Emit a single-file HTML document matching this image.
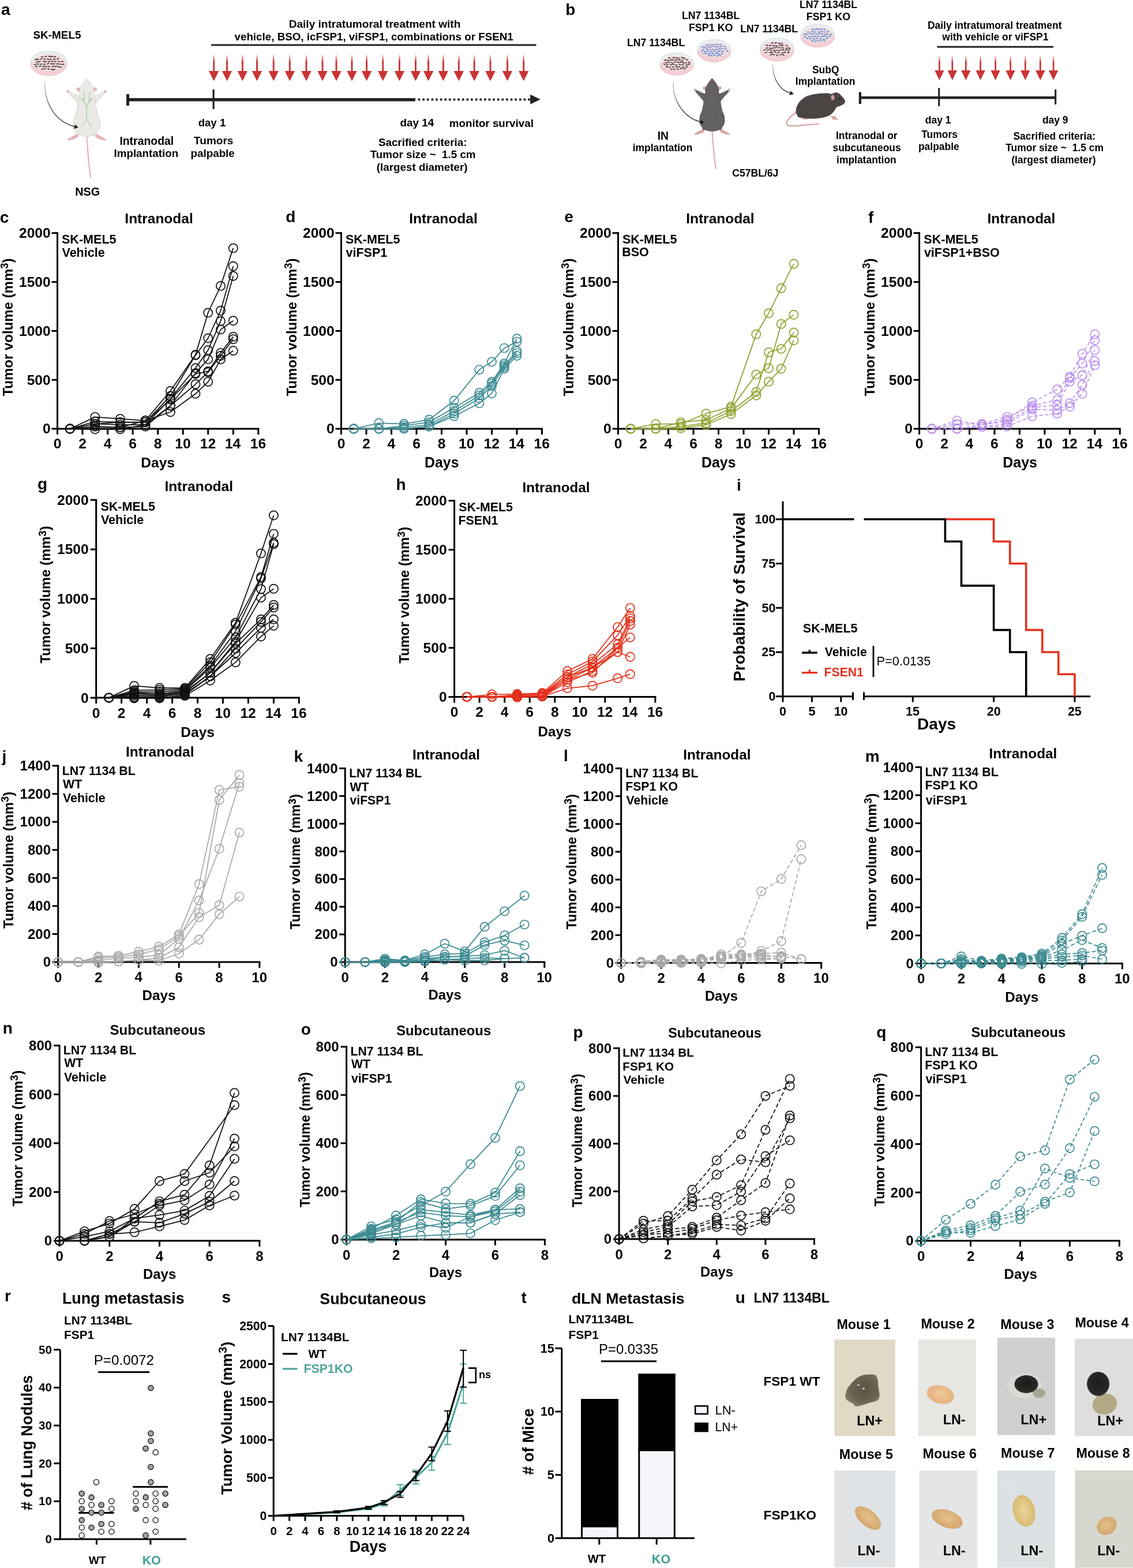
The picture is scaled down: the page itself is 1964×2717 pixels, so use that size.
<!DOCTYPE html><html><head><meta charset="utf-8"><style>html,body{margin:0;padding:0;background:#fff}svg{display:block}text{font-family:"Liberation Sans",Arial,sans-serif}</style></head><body>
<svg width="1964" height="2717" viewBox="0 0 1964 2717">
<rect width="1964" height="2717" fill="#fff"/>
<g stroke="#000" stroke-width="3" fill="none" stroke-linecap="square">
<path d="M99.5,403.8 V743.0 H447.8"/>
</g>
<g stroke="#000" stroke-width="3" fill="none">
<path d="M89.5,743.0 H99.5"/>
<path d="M89.5,658.2 H99.5"/>
<path d="M89.5,573.4 H99.5"/>
<path d="M89.5,488.6 H99.5"/>
<path d="M89.5,403.8 H99.5"/>
<path d="M99.5,743.0 V753.0"/>
<path d="M143.0,743.0 V753.0"/>
<path d="M186.6,743.0 V753.0"/>
<path d="M230.1,743.0 V753.0"/>
<path d="M273.7,743.0 V753.0"/>
<path d="M317.2,743.0 V753.0"/>
<path d="M360.7,743.0 V753.0"/>
<path d="M404.3,743.0 V753.0"/>
<path d="M447.8,743.0 V753.0"/>
</g>
<g fill="none" stroke="#111" stroke-width="1.75" opacity="1">
<polyline points="121.3,743.0 164.8,722.6 208.3,725.7 251.9,728.8 295.4,677.5 339.0,614.8 360.7,541.9 382.5,495.4 404.3,429.9"/>
<polyline points="121.3,743.0 164.8,730.3 208.3,731.6 251.9,731.6 295.4,686.2 339.0,615.6 360.7,586.0 382.5,538.3 404.3,461.3"/>
<polyline points="121.3,743.0 164.8,734.5 208.3,736.2 251.9,736.2 295.4,690.9 339.0,637.8 360.7,606.8 382.5,556.4 404.3,478.3"/>
<polyline points="121.3,743.0 164.8,739.1 208.3,740.6 251.9,739.1 295.4,703.0 339.0,646.5 360.7,622.4 382.5,571.0 404.3,555.8"/>
<polyline points="121.3,743.0 164.8,734.5 208.3,731.6 251.9,731.6 295.4,692.1 339.0,648.0 360.7,643.4 382.5,611.6 404.3,583.4"/>
<polyline points="121.3,743.0 164.8,743.8 208.3,743.8 251.9,736.2 295.4,703.0 339.0,665.7 360.7,645.0 382.5,616.5 404.3,587.8"/>
<polyline points="121.3,743.0 164.8,739.1 208.3,740.6 251.9,728.8 295.4,714.0 339.0,682.3 360.7,661.6 382.5,622.8 404.3,607.7"/>
</g>
<g fill="none" stroke="#111" stroke-width="1.7" opacity="1">
<circle cx="121.3" cy="743.0" r="7.6"/>
<circle cx="164.8" cy="722.6" r="7.6"/>
<circle cx="208.3" cy="725.7" r="7.6"/>
<circle cx="251.9" cy="728.8" r="7.6"/>
<circle cx="295.4" cy="677.5" r="7.6"/>
<circle cx="339.0" cy="614.8" r="7.6"/>
<circle cx="360.7" cy="541.9" r="7.6"/>
<circle cx="382.5" cy="495.4" r="7.6"/>
<circle cx="404.3" cy="429.9" r="7.6"/>
<circle cx="121.3" cy="743.0" r="7.6"/>
<circle cx="164.8" cy="730.3" r="7.6"/>
<circle cx="208.3" cy="731.6" r="7.6"/>
<circle cx="251.9" cy="731.6" r="7.6"/>
<circle cx="295.4" cy="686.2" r="7.6"/>
<circle cx="339.0" cy="615.6" r="7.6"/>
<circle cx="360.7" cy="586.0" r="7.6"/>
<circle cx="382.5" cy="538.3" r="7.6"/>
<circle cx="404.3" cy="461.3" r="7.6"/>
<circle cx="121.3" cy="743.0" r="7.6"/>
<circle cx="164.8" cy="734.5" r="7.6"/>
<circle cx="208.3" cy="736.2" r="7.6"/>
<circle cx="251.9" cy="736.2" r="7.6"/>
<circle cx="295.4" cy="690.9" r="7.6"/>
<circle cx="339.0" cy="637.8" r="7.6"/>
<circle cx="360.7" cy="606.8" r="7.6"/>
<circle cx="382.5" cy="556.4" r="7.6"/>
<circle cx="404.3" cy="478.3" r="7.6"/>
<circle cx="121.3" cy="743.0" r="7.6"/>
<circle cx="164.8" cy="739.1" r="7.6"/>
<circle cx="208.3" cy="740.6" r="7.6"/>
<circle cx="251.9" cy="739.1" r="7.6"/>
<circle cx="295.4" cy="703.0" r="7.6"/>
<circle cx="339.0" cy="646.5" r="7.6"/>
<circle cx="360.7" cy="622.4" r="7.6"/>
<circle cx="382.5" cy="571.0" r="7.6"/>
<circle cx="404.3" cy="555.8" r="7.6"/>
<circle cx="121.3" cy="743.0" r="7.6"/>
<circle cx="164.8" cy="734.5" r="7.6"/>
<circle cx="208.3" cy="731.6" r="7.6"/>
<circle cx="251.9" cy="731.6" r="7.6"/>
<circle cx="295.4" cy="692.1" r="7.6"/>
<circle cx="339.0" cy="648.0" r="7.6"/>
<circle cx="360.7" cy="643.4" r="7.6"/>
<circle cx="382.5" cy="611.6" r="7.6"/>
<circle cx="404.3" cy="583.4" r="7.6"/>
<circle cx="121.3" cy="743.0" r="7.6"/>
<circle cx="164.8" cy="743.8" r="7.6"/>
<circle cx="208.3" cy="743.8" r="7.6"/>
<circle cx="251.9" cy="736.2" r="7.6"/>
<circle cx="295.4" cy="703.0" r="7.6"/>
<circle cx="339.0" cy="665.7" r="7.6"/>
<circle cx="360.7" cy="645.0" r="7.6"/>
<circle cx="382.5" cy="616.5" r="7.6"/>
<circle cx="404.3" cy="587.8" r="7.6"/>
<circle cx="121.3" cy="743.0" r="7.6"/>
<circle cx="164.8" cy="739.1" r="7.6"/>
<circle cx="208.3" cy="740.6" r="7.6"/>
<circle cx="251.9" cy="728.8" r="7.6"/>
<circle cx="295.4" cy="714.0" r="7.6"/>
<circle cx="339.0" cy="682.3" r="7.6"/>
<circle cx="360.7" cy="661.6" r="7.6"/>
<circle cx="382.5" cy="622.8" r="7.6"/>
<circle cx="404.3" cy="607.7" r="7.6"/>
</g>
<text x="74.03" y="751.46" font-size="24.6" font-weight="bold">0</text>
<text x="46.66" y="666.66" font-size="24.6" font-weight="bold">500</text>
<text x="33.01" y="581.86" font-size="24.6" font-weight="bold">1000</text>
<text x="33.01" y="497.06" font-size="24.6" font-weight="bold">1500</text>
<text x="33.01" y="412.26" font-size="24.6" font-weight="bold">2000</text>
<text x="92.67" y="777.46" font-size="24.6" font-weight="bold">0</text>
<text x="136.24" y="777.46" font-size="24.6" font-weight="bold">2</text>
<text x="179.63" y="777.21" font-size="24.6" font-weight="bold">4</text>
<text x="223.26" y="777.46" font-size="24.6" font-weight="bold">6</text>
<text x="266.80" y="777.46" font-size="24.6" font-weight="bold">8</text>
<text x="303.27" y="777.46" font-size="24.6" font-weight="bold">10</text>
<text x="346.78" y="777.46" font-size="24.6" font-weight="bold">12</text>
<text x="389.92" y="777.21" font-size="24.6" font-weight="bold">14</text>
<text x="433.83" y="777.46" font-size="24.6" font-weight="bold">16</text>
<text x="216.35" y="387.16" font-size="24.49" font-weight="bold" fill="#000" >Intranodal</text>
<text x="106.95" y="421.85" font-size="21.57" font-weight="bold" fill="#000" >SK-MEL5</text>
<text x="107.44" y="444.64" font-size="21.57" font-weight="bold" fill="#000" >Vehicle</text>
<text x="244.34" y="809.59" font-size="24.53" font-weight="bold" fill="#000" >Days</text>
<text transform="translate(21.70,686.54) rotate(-90)" font-size="23.99" font-weight="bold">Tumor volume (mm<tspan font-size="18.47" dy="-7.44">3</tspan><tspan dy="7.44">)</tspan></text>
<g stroke="#000" stroke-width="3" fill="none" stroke-linecap="square">
<path d="M591.5,403.8 V743.0 H939.5"/>
</g>
<g stroke="#000" stroke-width="3" fill="none">
<path d="M581.5,743.0 H591.5"/>
<path d="M581.5,658.2 H591.5"/>
<path d="M581.5,573.4 H591.5"/>
<path d="M581.5,488.6 H591.5"/>
<path d="M581.5,403.8 H591.5"/>
<path d="M591.5,743.0 V753.0"/>
<path d="M635.0,743.0 V753.0"/>
<path d="M678.5,743.0 V753.0"/>
<path d="M722.0,743.0 V753.0"/>
<path d="M765.5,743.0 V753.0"/>
<path d="M809.0,743.0 V753.0"/>
<path d="M852.5,743.0 V753.0"/>
<path d="M896.0,743.0 V753.0"/>
<path d="M939.5,743.0 V753.0"/>
</g>
<g fill="none" stroke="#3c8b91" stroke-width="1.75" opacity="1">
<polyline points="613.2,743.0 656.8,733.2 700.2,734.5 743.8,727.2 787.2,694.3 830.8,640.6 852.5,627.0 874.2,603.1 896.0,592.1"/>
<polyline points="613.2,743.0 656.8,743.0 700.2,737.6 743.8,731.6 787.2,706.4 830.8,680.8 852.5,661.4 874.2,630.0 896.0,586.8"/>
<polyline points="613.2,743.0 656.8,743.0 700.2,740.5 743.8,736.2 787.2,712.3 830.8,685.2 852.5,664.5 874.2,633.1 896.0,608.2"/>
<polyline points="613.2,743.0 656.8,743.0 700.2,743.0 743.8,739.1 787.2,716.7 830.8,689.7 852.5,668.9 874.2,636.0 896.0,612.1"/>
<polyline points="613.2,743.0 656.8,743.0 700.2,743.0 743.8,739.1 787.2,721.3 830.8,698.7 852.5,681.8 874.2,639.0 896.0,616.6"/>
</g>
<g fill="none" stroke="#3c8b91" stroke-width="1.7" opacity="1">
<circle cx="613.2" cy="743.0" r="7.6"/>
<circle cx="656.8" cy="733.2" r="7.6"/>
<circle cx="700.2" cy="734.5" r="7.6"/>
<circle cx="743.8" cy="727.2" r="7.6"/>
<circle cx="787.2" cy="694.3" r="7.6"/>
<circle cx="830.8" cy="640.6" r="7.6"/>
<circle cx="852.5" cy="627.0" r="7.6"/>
<circle cx="874.2" cy="603.1" r="7.6"/>
<circle cx="896.0" cy="592.1" r="7.6"/>
<circle cx="613.2" cy="743.0" r="7.6"/>
<circle cx="656.8" cy="743.0" r="7.6"/>
<circle cx="700.2" cy="737.6" r="7.6"/>
<circle cx="743.8" cy="731.6" r="7.6"/>
<circle cx="787.2" cy="706.4" r="7.6"/>
<circle cx="830.8" cy="680.8" r="7.6"/>
<circle cx="852.5" cy="661.4" r="7.6"/>
<circle cx="874.2" cy="630.0" r="7.6"/>
<circle cx="896.0" cy="586.8" r="7.6"/>
<circle cx="613.2" cy="743.0" r="7.6"/>
<circle cx="656.8" cy="743.0" r="7.6"/>
<circle cx="700.2" cy="740.5" r="7.6"/>
<circle cx="743.8" cy="736.2" r="7.6"/>
<circle cx="787.2" cy="712.3" r="7.6"/>
<circle cx="830.8" cy="685.2" r="7.6"/>
<circle cx="852.5" cy="664.5" r="7.6"/>
<circle cx="874.2" cy="633.1" r="7.6"/>
<circle cx="896.0" cy="608.2" r="7.6"/>
<circle cx="613.2" cy="743.0" r="7.6"/>
<circle cx="656.8" cy="743.0" r="7.6"/>
<circle cx="700.2" cy="743.0" r="7.6"/>
<circle cx="743.8" cy="739.1" r="7.6"/>
<circle cx="787.2" cy="716.7" r="7.6"/>
<circle cx="830.8" cy="689.7" r="7.6"/>
<circle cx="852.5" cy="668.9" r="7.6"/>
<circle cx="874.2" cy="636.0" r="7.6"/>
<circle cx="896.0" cy="612.1" r="7.6"/>
<circle cx="613.2" cy="743.0" r="7.6"/>
<circle cx="656.8" cy="743.0" r="7.6"/>
<circle cx="700.2" cy="743.0" r="7.6"/>
<circle cx="743.8" cy="739.1" r="7.6"/>
<circle cx="787.2" cy="721.3" r="7.6"/>
<circle cx="830.8" cy="698.7" r="7.6"/>
<circle cx="852.5" cy="681.8" r="7.6"/>
<circle cx="874.2" cy="639.0" r="7.6"/>
<circle cx="896.0" cy="616.6" r="7.6"/>
</g>
<text x="566.03" y="751.46" font-size="24.6" font-weight="bold">0</text>
<text x="538.66" y="666.66" font-size="24.6" font-weight="bold">500</text>
<text x="525.01" y="581.86" font-size="24.6" font-weight="bold">1000</text>
<text x="525.01" y="497.06" font-size="24.6" font-weight="bold">1500</text>
<text x="525.01" y="412.26" font-size="24.6" font-weight="bold">2000</text>
<text x="584.67" y="777.46" font-size="24.6" font-weight="bold">0</text>
<text x="628.20" y="777.46" font-size="24.6" font-weight="bold">2</text>
<text x="671.55" y="777.21" font-size="24.6" font-weight="bold">4</text>
<text x="715.14" y="777.46" font-size="24.6" font-weight="bold">6</text>
<text x="758.64" y="777.46" font-size="24.6" font-weight="bold">8</text>
<text x="795.07" y="777.46" font-size="24.6" font-weight="bold">10</text>
<text x="838.54" y="777.46" font-size="24.6" font-weight="bold">12</text>
<text x="881.64" y="777.21" font-size="24.6" font-weight="bold">14</text>
<text x="925.51" y="777.46" font-size="24.6" font-weight="bold">16</text>
<text x="709.14" y="387.17" font-size="24.54" font-weight="bold" fill="#000" >Intranodal</text>
<text x="598.95" y="421.83" font-size="21.55" font-weight="bold" fill="#000" >SK-MEL5</text>
<text x="599.49" y="444.62" font-size="21.55" font-weight="bold" fill="#000" >viFSP1</text>
<text x="736.02" y="809.67" font-size="24.88" font-weight="bold" fill="#000" >Days</text>
<text transform="translate(513.70,686.54) rotate(-90)" font-size="23.99" font-weight="bold">Tumor volume (mm<tspan font-size="18.47" dy="-7.44">3</tspan><tspan dy="7.44">)</tspan></text>
<g stroke="#000" stroke-width="3" fill="none" stroke-linecap="square">
<path d="M1071.5,403.8 V743.0 H1419.5"/>
</g>
<g stroke="#000" stroke-width="3" fill="none">
<path d="M1061.5,743.0 H1071.5"/>
<path d="M1061.5,658.2 H1071.5"/>
<path d="M1061.5,573.4 H1071.5"/>
<path d="M1061.5,488.6 H1071.5"/>
<path d="M1061.5,403.8 H1071.5"/>
<path d="M1071.5,743.0 V753.0"/>
<path d="M1115.0,743.0 V753.0"/>
<path d="M1158.5,743.0 V753.0"/>
<path d="M1202.0,743.0 V753.0"/>
<path d="M1245.5,743.0 V753.0"/>
<path d="M1289.0,743.0 V753.0"/>
<path d="M1332.5,743.0 V753.0"/>
<path d="M1376.0,743.0 V753.0"/>
<path d="M1419.5,743.0 V753.0"/>
</g>
<g fill="none" stroke="#8fa22e" stroke-width="1.75" opacity="1">
<polyline points="1093.2,743.0 1136.8,734.7 1180.2,734.7 1223.8,716.7 1267.2,704.8 1310.8,579.2 1332.5,542.7 1354.2,499.5 1376.0,457.2"/>
<polyline points="1093.2,743.0 1136.8,743.0 1180.2,731.6 1223.8,727.7 1267.2,707.7 1310.8,648.9 1332.5,638.0 1354.2,561.4 1376.0,545.4"/>
<polyline points="1093.2,743.0 1136.8,743.0 1180.2,739.1 1223.8,733.2 1267.2,712.3 1310.8,679.2 1332.5,610.5 1354.2,604.6 1376.0,576.3"/>
<polyline points="1093.2,743.0 1136.8,743.0 1180.2,742.2 1223.8,736.2 1267.2,717.6 1310.8,685.3 1332.5,661.4 1354.2,639.0 1376.0,589.7"/>
</g>
<g fill="none" stroke="#8fa22e" stroke-width="1.7" opacity="1">
<circle cx="1093.2" cy="743.0" r="7.6"/>
<circle cx="1136.8" cy="734.7" r="7.6"/>
<circle cx="1180.2" cy="734.7" r="7.6"/>
<circle cx="1223.8" cy="716.7" r="7.6"/>
<circle cx="1267.2" cy="704.8" r="7.6"/>
<circle cx="1310.8" cy="579.2" r="7.6"/>
<circle cx="1332.5" cy="542.7" r="7.6"/>
<circle cx="1354.2" cy="499.5" r="7.6"/>
<circle cx="1376.0" cy="457.2" r="7.6"/>
<circle cx="1093.2" cy="743.0" r="7.6"/>
<circle cx="1136.8" cy="743.0" r="7.6"/>
<circle cx="1180.2" cy="731.6" r="7.6"/>
<circle cx="1223.8" cy="727.7" r="7.6"/>
<circle cx="1267.2" cy="707.7" r="7.6"/>
<circle cx="1310.8" cy="648.9" r="7.6"/>
<circle cx="1332.5" cy="638.0" r="7.6"/>
<circle cx="1354.2" cy="561.4" r="7.6"/>
<circle cx="1376.0" cy="545.4" r="7.6"/>
<circle cx="1093.2" cy="743.0" r="7.6"/>
<circle cx="1136.8" cy="743.0" r="7.6"/>
<circle cx="1180.2" cy="739.1" r="7.6"/>
<circle cx="1223.8" cy="733.2" r="7.6"/>
<circle cx="1267.2" cy="712.3" r="7.6"/>
<circle cx="1310.8" cy="679.2" r="7.6"/>
<circle cx="1332.5" cy="610.5" r="7.6"/>
<circle cx="1354.2" cy="604.6" r="7.6"/>
<circle cx="1376.0" cy="576.3" r="7.6"/>
<circle cx="1093.2" cy="743.0" r="7.6"/>
<circle cx="1136.8" cy="743.0" r="7.6"/>
<circle cx="1180.2" cy="742.2" r="7.6"/>
<circle cx="1223.8" cy="736.2" r="7.6"/>
<circle cx="1267.2" cy="717.6" r="7.6"/>
<circle cx="1310.8" cy="685.3" r="7.6"/>
<circle cx="1332.5" cy="661.4" r="7.6"/>
<circle cx="1354.2" cy="639.0" r="7.6"/>
<circle cx="1376.0" cy="589.7" r="7.6"/>
</g>
<text x="1046.03" y="751.46" font-size="24.6" font-weight="bold">0</text>
<text x="1018.66" y="666.66" font-size="24.6" font-weight="bold">500</text>
<text x="1005.01" y="581.86" font-size="24.6" font-weight="bold">1000</text>
<text x="1005.01" y="497.06" font-size="24.6" font-weight="bold">1500</text>
<text x="1005.01" y="412.26" font-size="24.6" font-weight="bold">2000</text>
<text x="1064.67" y="777.46" font-size="24.6" font-weight="bold">0</text>
<text x="1108.20" y="777.46" font-size="24.6" font-weight="bold">2</text>
<text x="1151.55" y="777.21" font-size="24.6" font-weight="bold">4</text>
<text x="1195.14" y="777.46" font-size="24.6" font-weight="bold">6</text>
<text x="1238.64" y="777.46" font-size="24.6" font-weight="bold">8</text>
<text x="1275.07" y="777.46" font-size="24.6" font-weight="bold">10</text>
<text x="1318.54" y="777.46" font-size="24.6" font-weight="bold">12</text>
<text x="1361.64" y="777.21" font-size="24.6" font-weight="bold">14</text>
<text x="1405.51" y="777.46" font-size="24.6" font-weight="bold">16</text>
<text x="1189.15" y="387.16" font-size="24.52" font-weight="bold" fill="#000" >Intranodal</text>
<text x="1078.95" y="421.83" font-size="21.55" font-weight="bold" fill="#000" >SK-MEL5</text>
<text x="1078.15" y="444.03" font-size="21.55" font-weight="bold" fill="#000" >BSO</text>
<text x="1216.02" y="809.67" font-size="24.88" font-weight="bold" fill="#000" >Days</text>
<text transform="translate(993.70,686.54) rotate(-90)" font-size="23.99" font-weight="bold">Tumor volume (mm<tspan font-size="18.47" dy="-7.44">3</tspan><tspan dy="7.44">)</tspan></text>
<g stroke="#000" stroke-width="3" fill="none" stroke-linecap="square">
<path d="M1593.6,403.8 V743.0 H1941.3"/>
</g>
<g stroke="#000" stroke-width="3" fill="none">
<path d="M1583.6,743.0 H1593.6"/>
<path d="M1583.6,658.2 H1593.6"/>
<path d="M1583.6,573.4 H1593.6"/>
<path d="M1583.6,488.6 H1593.6"/>
<path d="M1583.6,403.8 H1593.6"/>
<path d="M1593.6,743.0 V753.0"/>
<path d="M1637.1,743.0 V753.0"/>
<path d="M1680.5,743.0 V753.0"/>
<path d="M1724.0,743.0 V753.0"/>
<path d="M1767.4,743.0 V753.0"/>
<path d="M1810.9,743.0 V753.0"/>
<path d="M1854.4,743.0 V753.0"/>
<path d="M1897.8,743.0 V753.0"/>
<path d="M1941.3,743.0 V753.0"/>
</g>
<g fill="none" stroke="#b07fec" stroke-width="1.75" opacity="0.85">
<polyline points="1615.3,743.0 1658.8,728.8 1702.2,736.2 1745.7,727.2 1789.2,697.2 1832.6,674.8 1854.4,652.4 1876.1,612.9 1897.8,579.2" stroke-dasharray="6,4"/>
<polyline points="1615.3,743.0 1658.8,734.7 1702.2,734.5 1745.7,722.6 1789.2,703.3 1832.6,692.8 1854.4,655.5 1876.1,630.0 1897.8,589.7" stroke-dasharray="6,4"/>
<polyline points="1615.3,743.0 1658.8,743.0 1702.2,736.2 1745.7,730.3 1789.2,706.4 1832.6,701.8 1854.4,661.4 1876.1,650.2 1897.8,606.6" stroke-dasharray="6,4"/>
<polyline points="1615.3,743.0 1658.8,743.0 1702.2,739.6 1745.7,734.7 1789.2,709.2 1832.6,710.8 1854.4,698.7 1876.1,666.8 1897.8,625.5" stroke-dasharray="6,4"/>
<polyline points="1615.3,743.0 1658.8,743.0 1702.2,739.6 1745.7,739.1 1789.2,721.3 1832.6,716.7 1854.4,704.8 1876.1,682.3 1897.8,632.9" stroke-dasharray="6,4"/>
</g>
<g fill="none" stroke="#b07fec" stroke-width="1.7" opacity="0.85">
<circle cx="1615.3" cy="743.0" r="7.6"/>
<circle cx="1658.8" cy="728.8" r="7.6"/>
<circle cx="1702.2" cy="736.2" r="7.6"/>
<circle cx="1745.7" cy="727.2" r="7.6"/>
<circle cx="1789.2" cy="697.2" r="7.6"/>
<circle cx="1832.6" cy="674.8" r="7.6"/>
<circle cx="1854.4" cy="652.4" r="7.6"/>
<circle cx="1876.1" cy="612.9" r="7.6"/>
<circle cx="1897.8" cy="579.2" r="7.6"/>
<circle cx="1615.3" cy="743.0" r="7.6"/>
<circle cx="1658.8" cy="734.7" r="7.6"/>
<circle cx="1702.2" cy="734.5" r="7.6"/>
<circle cx="1745.7" cy="722.6" r="7.6"/>
<circle cx="1789.2" cy="703.3" r="7.6"/>
<circle cx="1832.6" cy="692.8" r="7.6"/>
<circle cx="1854.4" cy="655.5" r="7.6"/>
<circle cx="1876.1" cy="630.0" r="7.6"/>
<circle cx="1897.8" cy="589.7" r="7.6"/>
<circle cx="1615.3" cy="743.0" r="7.6"/>
<circle cx="1658.8" cy="743.0" r="7.6"/>
<circle cx="1702.2" cy="736.2" r="7.6"/>
<circle cx="1745.7" cy="730.3" r="7.6"/>
<circle cx="1789.2" cy="706.4" r="7.6"/>
<circle cx="1832.6" cy="701.8" r="7.6"/>
<circle cx="1854.4" cy="661.4" r="7.6"/>
<circle cx="1876.1" cy="650.2" r="7.6"/>
<circle cx="1897.8" cy="606.6" r="7.6"/>
<circle cx="1615.3" cy="743.0" r="7.6"/>
<circle cx="1658.8" cy="743.0" r="7.6"/>
<circle cx="1702.2" cy="739.6" r="7.6"/>
<circle cx="1745.7" cy="734.7" r="7.6"/>
<circle cx="1789.2" cy="709.2" r="7.6"/>
<circle cx="1832.6" cy="710.8" r="7.6"/>
<circle cx="1854.4" cy="698.7" r="7.6"/>
<circle cx="1876.1" cy="666.8" r="7.6"/>
<circle cx="1897.8" cy="625.5" r="7.6"/>
<circle cx="1615.3" cy="743.0" r="7.6"/>
<circle cx="1658.8" cy="743.0" r="7.6"/>
<circle cx="1702.2" cy="739.6" r="7.6"/>
<circle cx="1745.7" cy="739.1" r="7.6"/>
<circle cx="1789.2" cy="721.3" r="7.6"/>
<circle cx="1832.6" cy="716.7" r="7.6"/>
<circle cx="1854.4" cy="704.8" r="7.6"/>
<circle cx="1876.1" cy="682.3" r="7.6"/>
<circle cx="1897.8" cy="632.9" r="7.6"/>
</g>
<text x="1568.13" y="751.46" font-size="24.6" font-weight="bold">0</text>
<text x="1540.76" y="666.66" font-size="24.6" font-weight="bold">500</text>
<text x="1527.11" y="581.86" font-size="24.6" font-weight="bold">1000</text>
<text x="1527.11" y="497.06" font-size="24.6" font-weight="bold">1500</text>
<text x="1527.11" y="412.26" font-size="24.6" font-weight="bold">2000</text>
<text x="1586.77" y="777.46" font-size="24.6" font-weight="bold">0</text>
<text x="1630.26" y="777.46" font-size="24.6" font-weight="bold">2</text>
<text x="1673.57" y="777.21" font-size="24.6" font-weight="bold">4</text>
<text x="1717.12" y="777.46" font-size="24.6" font-weight="bold">6</text>
<text x="1760.58" y="777.46" font-size="24.6" font-weight="bold">8</text>
<text x="1796.97" y="777.46" font-size="24.6" font-weight="bold">10</text>
<text x="1840.40" y="777.46" font-size="24.6" font-weight="bold">12</text>
<text x="1883.46" y="777.21" font-size="24.6" font-weight="bold">14</text>
<text x="1927.29" y="777.46" font-size="24.6" font-weight="bold">16</text>
<text x="1711.55" y="387.12" font-size="24.39" font-weight="bold" fill="#000" >Intranodal</text>
<text x="1601.35" y="421.81" font-size="21.52" font-weight="bold" fill="#000" >SK-MEL5</text>
<text x="1601.89" y="444.61" font-size="21.52" font-weight="bold" fill="#000" >viFSP1+BSO</text>
<text x="1738.31" y="809.69" font-size="24.97" font-weight="bold" fill="#000" >Days</text>
<text transform="translate(1515.80,686.54) rotate(-90)" font-size="23.99" font-weight="bold">Tumor volume (mm<tspan font-size="18.47" dy="-7.44">3</tspan><tspan dy="7.44">)</tspan></text>
<g stroke="#000" stroke-width="3" fill="none" stroke-linecap="square">
<path d="M166.7,866.3 V1209.1 H518.3"/>
</g>
<g stroke="#000" stroke-width="3" fill="none">
<path d="M156.7,1209.1 H166.7"/>
<path d="M156.7,1123.4 H166.7"/>
<path d="M156.7,1037.7 H166.7"/>
<path d="M156.7,952.0 H166.7"/>
<path d="M156.7,866.3 H166.7"/>
<path d="M166.7,1209.1 V1219.1"/>
<path d="M210.6,1209.1 V1219.1"/>
<path d="M254.6,1209.1 V1219.1"/>
<path d="M298.6,1209.1 V1219.1"/>
<path d="M342.5,1209.1 V1219.1"/>
<path d="M386.4,1209.1 V1219.1"/>
<path d="M430.4,1209.1 V1219.1"/>
<path d="M474.4,1209.1 V1219.1"/>
<path d="M518.3,1209.1 V1219.1"/>
</g>
<g fill="none" stroke="#111" stroke-width="1.75" opacity="1">
<polyline points="188.7,1209.1 232.6,1188.5 276.6,1192.0 320.5,1192.0 364.5,1141.7 408.4,1079.0 452.4,958.9 474.4,893.0"/>
<polyline points="188.7,1209.1 232.6,1196.2 276.6,1195.4 320.5,1193.7 364.5,1147.7 408.4,1082.1 452.4,999.8 474.4,925.1"/>
<polyline points="188.7,1209.1 232.6,1198.8 276.6,1198.8 320.5,1195.4 364.5,1153.7 408.4,1094.1 452.4,1002.2 474.4,940.5"/>
<polyline points="188.7,1209.1 232.6,1200.5 276.6,1202.2 320.5,1197.1 364.5,1156.8 408.4,1104.5 452.4,1020.7 474.4,942.9"/>
<polyline points="188.7,1209.1 232.6,1202.2 276.6,1204.0 320.5,1198.8 364.5,1165.7 408.4,1111.9 452.4,1035.6 474.4,1020.2"/>
<polyline points="188.7,1209.1 232.6,1204.8 276.6,1205.7 320.5,1200.5 364.5,1165.7 408.4,1115.0 452.4,1073.2 474.4,1048.3"/>
<polyline points="188.7,1209.1 232.6,1207.4 276.6,1207.4 320.5,1202.2 364.5,1171.7 408.4,1123.9 452.4,1077.6 474.4,1052.8"/>
<polyline points="188.7,1209.1 232.6,1210.0 276.6,1210.0 320.5,1204.0 364.5,1171.7 408.4,1131.5 452.4,1087.9 474.4,1073.2"/>
<polyline points="188.7,1209.1 232.6,1209.1 276.6,1209.1 320.5,1205.7 364.5,1179.3 408.4,1147.7 452.4,1103.0 474.4,1084.3"/>
</g>
<g fill="none" stroke="#111" stroke-width="1.7" opacity="1">
<circle cx="188.7" cy="1209.1" r="7.6"/>
<circle cx="232.6" cy="1188.5" r="7.6"/>
<circle cx="276.6" cy="1192.0" r="7.6"/>
<circle cx="320.5" cy="1192.0" r="7.6"/>
<circle cx="364.5" cy="1141.7" r="7.6"/>
<circle cx="408.4" cy="1079.0" r="7.6"/>
<circle cx="452.4" cy="958.9" r="7.6"/>
<circle cx="474.4" cy="893.0" r="7.6"/>
<circle cx="188.7" cy="1209.1" r="7.6"/>
<circle cx="232.6" cy="1196.2" r="7.6"/>
<circle cx="276.6" cy="1195.4" r="7.6"/>
<circle cx="320.5" cy="1193.7" r="7.6"/>
<circle cx="364.5" cy="1147.7" r="7.6"/>
<circle cx="408.4" cy="1082.1" r="7.6"/>
<circle cx="452.4" cy="999.8" r="7.6"/>
<circle cx="474.4" cy="925.1" r="7.6"/>
<circle cx="188.7" cy="1209.1" r="7.6"/>
<circle cx="232.6" cy="1198.8" r="7.6"/>
<circle cx="276.6" cy="1198.8" r="7.6"/>
<circle cx="320.5" cy="1195.4" r="7.6"/>
<circle cx="364.5" cy="1153.7" r="7.6"/>
<circle cx="408.4" cy="1094.1" r="7.6"/>
<circle cx="452.4" cy="1002.2" r="7.6"/>
<circle cx="474.4" cy="940.5" r="7.6"/>
<circle cx="188.7" cy="1209.1" r="7.6"/>
<circle cx="232.6" cy="1200.5" r="7.6"/>
<circle cx="276.6" cy="1202.2" r="7.6"/>
<circle cx="320.5" cy="1197.1" r="7.6"/>
<circle cx="364.5" cy="1156.8" r="7.6"/>
<circle cx="408.4" cy="1104.5" r="7.6"/>
<circle cx="452.4" cy="1020.7" r="7.6"/>
<circle cx="474.4" cy="942.9" r="7.6"/>
<circle cx="188.7" cy="1209.1" r="7.6"/>
<circle cx="232.6" cy="1202.2" r="7.6"/>
<circle cx="276.6" cy="1204.0" r="7.6"/>
<circle cx="320.5" cy="1198.8" r="7.6"/>
<circle cx="364.5" cy="1165.7" r="7.6"/>
<circle cx="408.4" cy="1111.9" r="7.6"/>
<circle cx="452.4" cy="1035.6" r="7.6"/>
<circle cx="474.4" cy="1020.2" r="7.6"/>
<circle cx="188.7" cy="1209.1" r="7.6"/>
<circle cx="232.6" cy="1204.8" r="7.6"/>
<circle cx="276.6" cy="1205.7" r="7.6"/>
<circle cx="320.5" cy="1200.5" r="7.6"/>
<circle cx="364.5" cy="1165.7" r="7.6"/>
<circle cx="408.4" cy="1115.0" r="7.6"/>
<circle cx="452.4" cy="1073.2" r="7.6"/>
<circle cx="474.4" cy="1048.3" r="7.6"/>
<circle cx="188.7" cy="1209.1" r="7.6"/>
<circle cx="232.6" cy="1207.4" r="7.6"/>
<circle cx="276.6" cy="1207.4" r="7.6"/>
<circle cx="320.5" cy="1202.2" r="7.6"/>
<circle cx="364.5" cy="1171.7" r="7.6"/>
<circle cx="408.4" cy="1123.9" r="7.6"/>
<circle cx="452.4" cy="1077.6" r="7.6"/>
<circle cx="474.4" cy="1052.8" r="7.6"/>
<circle cx="188.7" cy="1209.1" r="7.6"/>
<circle cx="232.6" cy="1210.0" r="7.6"/>
<circle cx="276.6" cy="1210.0" r="7.6"/>
<circle cx="320.5" cy="1204.0" r="7.6"/>
<circle cx="364.5" cy="1171.7" r="7.6"/>
<circle cx="408.4" cy="1131.5" r="7.6"/>
<circle cx="452.4" cy="1087.9" r="7.6"/>
<circle cx="474.4" cy="1073.2" r="7.6"/>
<circle cx="188.7" cy="1209.1" r="7.6"/>
<circle cx="232.6" cy="1209.1" r="7.6"/>
<circle cx="276.6" cy="1209.1" r="7.6"/>
<circle cx="320.5" cy="1205.7" r="7.6"/>
<circle cx="364.5" cy="1179.3" r="7.6"/>
<circle cx="408.4" cy="1147.7" r="7.6"/>
<circle cx="452.4" cy="1103.0" r="7.6"/>
<circle cx="474.4" cy="1084.3" r="7.6"/>
</g>
<text x="140.03" y="1217.56" font-size="24.6" font-weight="bold">0</text>
<text x="112.66" y="1131.86" font-size="24.6" font-weight="bold">500</text>
<text x="99.01" y="1046.16" font-size="24.6" font-weight="bold">1000</text>
<text x="99.01" y="960.46" font-size="24.6" font-weight="bold">1500</text>
<text x="99.01" y="874.76" font-size="24.6" font-weight="bold">2000</text>
<text x="159.87" y="1243.86" font-size="24.6" font-weight="bold">0</text>
<text x="203.85" y="1243.86" font-size="24.6" font-weight="bold">2</text>
<text x="247.65" y="1243.61" font-size="24.6" font-weight="bold">4</text>
<text x="291.69" y="1243.86" font-size="24.6" font-weight="bold">6</text>
<text x="335.64" y="1243.86" font-size="24.6" font-weight="bold">8</text>
<text x="372.52" y="1243.86" font-size="24.6" font-weight="bold">10</text>
<text x="416.44" y="1243.86" font-size="24.6" font-weight="bold">12</text>
<text x="459.99" y="1243.61" font-size="24.6" font-weight="bold">14</text>
<text x="504.31" y="1243.86" font-size="24.6" font-weight="bold">16</text>
<text x="285.55" y="850.61" font-size="24.52" font-weight="bold" fill="#000" >Intranodal</text>
<text x="174.45" y="884.83" font-size="21.55" font-weight="bold" fill="#000" >SK-MEL5</text>
<text x="174.94" y="907.82" font-size="21.55" font-weight="bold" fill="#000" >Vehicle</text>
<text x="313.35" y="1277.08" font-size="24.49" font-weight="bold" fill="#000" >Days</text>
<text transform="translate(87.30,1149.54) rotate(-90)" font-size="23.92" font-weight="bold">Tumor volume (mm<tspan font-size="18.42" dy="-7.41">3</tspan><tspan dy="7.41">)</tspan></text>
<g stroke="#000" stroke-width="3" fill="none" stroke-linecap="square">
<path d="M787.6,867.6 V1207.6 H1135.9"/>
</g>
<g stroke="#000" stroke-width="3" fill="none">
<path d="M777.6,1207.6 H787.6"/>
<path d="M777.6,1122.6 H787.6"/>
<path d="M777.6,1037.6 H787.6"/>
<path d="M777.6,952.6 H787.6"/>
<path d="M777.6,867.6 H787.6"/>
<path d="M787.6,1207.6 V1217.6"/>
<path d="M831.1,1207.6 V1217.6"/>
<path d="M874.7,1207.6 V1217.6"/>
<path d="M918.2,1207.6 V1217.6"/>
<path d="M961.8,1207.6 V1217.6"/>
<path d="M1005.3,1207.6 V1217.6"/>
<path d="M1048.8,1207.6 V1217.6"/>
<path d="M1092.4,1207.6 V1217.6"/>
<path d="M1135.9,1207.6 V1217.6"/>
</g>
<g fill="none" stroke="#e3301a" stroke-width="1.75" opacity="1">
<polyline points="809.4,1207.6 852.9,1203.3 896.5,1202.5 940.0,1200.8 983.5,1162.7 1027.1,1141.8 1070.6,1086.6 1092.4,1053.6"/>
<polyline points="809.4,1207.6 852.9,1207.6 896.5,1204.2 940.0,1202.5 983.5,1168.8 1027.1,1146.2 1070.6,1100.7 1092.4,1067.2"/>
<polyline points="809.4,1207.6 852.9,1207.6 896.5,1205.9 940.0,1205.0 983.5,1173.3 1027.1,1150.8 1070.6,1116.5 1092.4,1071.6"/>
<polyline points="809.4,1207.6 852.9,1207.6 896.5,1207.6 940.0,1206.8 983.5,1177.7 1027.1,1156.8 1070.6,1122.4 1092.4,1076.0"/>
<polyline points="809.4,1207.6 852.9,1207.6 896.5,1208.4 940.0,1206.8 983.5,1182.3 1027.1,1162.7 1070.6,1129.9 1092.4,1082.6"/>
<polyline points="809.4,1207.6 852.9,1207.6 896.5,1205.9 940.0,1205.0 983.5,1177.7 1027.1,1165.8 1070.6,1122.4 1092.4,1104.6"/>
<polyline points="809.4,1207.6 852.9,1207.6 896.5,1204.2 940.0,1202.5 983.5,1173.3 1027.1,1156.8 1070.6,1129.9 1092.4,1138.2"/>
<polyline points="809.4,1207.6 852.9,1207.6 896.5,1207.6 940.0,1206.8 983.5,1192.6 1027.1,1188.2 1070.6,1175.3 1092.4,1168.2"/>
</g>
<g fill="none" stroke="#e3301a" stroke-width="1.7" opacity="1">
<circle cx="809.4" cy="1207.6" r="7.6"/>
<circle cx="852.9" cy="1203.3" r="7.6"/>
<circle cx="896.5" cy="1202.5" r="7.6"/>
<circle cx="940.0" cy="1200.8" r="7.6"/>
<circle cx="983.5" cy="1162.7" r="7.6"/>
<circle cx="1027.1" cy="1141.8" r="7.6"/>
<circle cx="1070.6" cy="1086.6" r="7.6"/>
<circle cx="1092.4" cy="1053.6" r="7.6"/>
<circle cx="809.4" cy="1207.6" r="7.6"/>
<circle cx="852.9" cy="1207.6" r="7.6"/>
<circle cx="896.5" cy="1204.2" r="7.6"/>
<circle cx="940.0" cy="1202.5" r="7.6"/>
<circle cx="983.5" cy="1168.8" r="7.6"/>
<circle cx="1027.1" cy="1146.2" r="7.6"/>
<circle cx="1070.6" cy="1100.7" r="7.6"/>
<circle cx="1092.4" cy="1067.2" r="7.6"/>
<circle cx="809.4" cy="1207.6" r="7.6"/>
<circle cx="852.9" cy="1207.6" r="7.6"/>
<circle cx="896.5" cy="1205.9" r="7.6"/>
<circle cx="940.0" cy="1205.0" r="7.6"/>
<circle cx="983.5" cy="1173.3" r="7.6"/>
<circle cx="1027.1" cy="1150.8" r="7.6"/>
<circle cx="1070.6" cy="1116.5" r="7.6"/>
<circle cx="1092.4" cy="1071.6" r="7.6"/>
<circle cx="809.4" cy="1207.6" r="7.6"/>
<circle cx="852.9" cy="1207.6" r="7.6"/>
<circle cx="896.5" cy="1207.6" r="7.6"/>
<circle cx="940.0" cy="1206.8" r="7.6"/>
<circle cx="983.5" cy="1177.7" r="7.6"/>
<circle cx="1027.1" cy="1156.8" r="7.6"/>
<circle cx="1070.6" cy="1122.4" r="7.6"/>
<circle cx="1092.4" cy="1076.0" r="7.6"/>
<circle cx="809.4" cy="1207.6" r="7.6"/>
<circle cx="852.9" cy="1207.6" r="7.6"/>
<circle cx="896.5" cy="1208.4" r="7.6"/>
<circle cx="940.0" cy="1206.8" r="7.6"/>
<circle cx="983.5" cy="1182.3" r="7.6"/>
<circle cx="1027.1" cy="1162.7" r="7.6"/>
<circle cx="1070.6" cy="1129.9" r="7.6"/>
<circle cx="1092.4" cy="1082.6" r="7.6"/>
<circle cx="809.4" cy="1207.6" r="7.6"/>
<circle cx="852.9" cy="1207.6" r="7.6"/>
<circle cx="896.5" cy="1205.9" r="7.6"/>
<circle cx="940.0" cy="1205.0" r="7.6"/>
<circle cx="983.5" cy="1177.7" r="7.6"/>
<circle cx="1027.1" cy="1165.8" r="7.6"/>
<circle cx="1070.6" cy="1122.4" r="7.6"/>
<circle cx="1092.4" cy="1104.6" r="7.6"/>
<circle cx="809.4" cy="1207.6" r="7.6"/>
<circle cx="852.9" cy="1207.6" r="7.6"/>
<circle cx="896.5" cy="1204.2" r="7.6"/>
<circle cx="940.0" cy="1202.5" r="7.6"/>
<circle cx="983.5" cy="1173.3" r="7.6"/>
<circle cx="1027.1" cy="1156.8" r="7.6"/>
<circle cx="1070.6" cy="1129.9" r="7.6"/>
<circle cx="1092.4" cy="1138.2" r="7.6"/>
<circle cx="809.4" cy="1207.6" r="7.6"/>
<circle cx="852.9" cy="1207.6" r="7.6"/>
<circle cx="896.5" cy="1207.6" r="7.6"/>
<circle cx="940.0" cy="1206.8" r="7.6"/>
<circle cx="983.5" cy="1192.6" r="7.6"/>
<circle cx="1027.1" cy="1188.2" r="7.6"/>
<circle cx="1070.6" cy="1175.3" r="7.6"/>
<circle cx="1092.4" cy="1168.2" r="7.6"/>
</g>
<text x="760.93" y="1216.06" font-size="24.6" font-weight="bold">0</text>
<text x="733.56" y="1131.06" font-size="24.6" font-weight="bold">500</text>
<text x="719.91" y="1046.06" font-size="24.6" font-weight="bold">1000</text>
<text x="719.91" y="961.06" font-size="24.6" font-weight="bold">1500</text>
<text x="719.91" y="876.06" font-size="24.6" font-weight="bold">2000</text>
<text x="780.77" y="1242.36" font-size="24.6" font-weight="bold">0</text>
<text x="824.34" y="1242.36" font-size="24.6" font-weight="bold">2</text>
<text x="867.73" y="1242.11" font-size="24.6" font-weight="bold">4</text>
<text x="911.36" y="1242.36" font-size="24.6" font-weight="bold">6</text>
<text x="954.90" y="1242.36" font-size="24.6" font-weight="bold">8</text>
<text x="991.37" y="1242.36" font-size="24.6" font-weight="bold">10</text>
<text x="1034.88" y="1242.36" font-size="24.6" font-weight="bold">12</text>
<text x="1078.02" y="1242.11" font-size="24.6" font-weight="bold">14</text>
<text x="1121.93" y="1242.36" font-size="24.6" font-weight="bold">16</text>
<text x="905.57" y="852.50" font-size="24.20" font-weight="bold" fill="#000" >Intranodal</text>
<text x="795.36" y="886.18" font-size="21.34" font-weight="bold" fill="#000" >SK-MEL5</text>
<text x="794.56" y="909.48" font-size="21.34" font-weight="bold" fill="#000" >FSEN1</text>
<text x="932.46" y="1275.51" font-size="24.23" font-weight="bold" fill="#000" >Days</text>
<text transform="translate(709.30,1149.54) rotate(-90)" font-size="23.76" font-weight="bold">Tumor volume (mm<tspan font-size="18.30" dy="-7.37">3</tspan><tspan dy="7.37">)</tspan></text>
<g stroke="#000" stroke-width="3" fill="none" stroke-linecap="square">
<path d="M100.7,1326.9 V1667.1 H449.9"/>
</g>
<g stroke="#000" stroke-width="3" fill="none">
<path d="M90.7,1667.1 H100.7"/>
<path d="M90.7,1618.5 H100.7"/>
<path d="M90.7,1569.9 H100.7"/>
<path d="M90.7,1521.3 H100.7"/>
<path d="M90.7,1472.7 H100.7"/>
<path d="M90.7,1424.1 H100.7"/>
<path d="M90.7,1375.5 H100.7"/>
<path d="M90.7,1326.9 H100.7"/>
<path d="M100.7,1667.1 V1677.1"/>
<path d="M170.5,1667.1 V1677.1"/>
<path d="M240.4,1667.1 V1677.1"/>
<path d="M310.2,1667.1 V1677.1"/>
<path d="M380.1,1667.1 V1677.1"/>
<path d="M449.9,1667.1 V1677.1"/>
</g>
<g fill="none" stroke="#a9a9a9" stroke-width="1.75" opacity="1">
<polyline points="100.7,1667.1 135.6,1667.1 170.5,1657.4 205.5,1656.2 240.4,1648.9 275.3,1640.4 310.2,1619.2 345.1,1532.0 380.1,1368.7 415.0,1363.3"/>
<polyline points="100.7,1667.1 135.6,1667.1 170.5,1659.8 205.5,1658.6 240.4,1653.7 275.3,1645.2 310.2,1622.4 345.1,1582.0 380.1,1386.2 415.0,1342.7"/>
<polyline points="100.7,1667.1 135.6,1667.1 170.5,1663.5 205.5,1661.0 240.4,1658.6 275.3,1654.9 310.2,1626.8 345.1,1560.2 380.1,1470.8 415.0,1357.0"/>
<polyline points="100.7,1667.1 135.6,1667.1 170.5,1665.9 205.5,1665.9 240.4,1663.5 275.3,1659.8 310.2,1641.6 345.1,1589.3 380.1,1568.4 415.0,1442.8"/>
<polyline points="100.7,1667.1 135.6,1667.1 170.5,1668.3 205.5,1665.9 240.4,1663.5 275.3,1664.7 310.2,1652.3 345.1,1628.2 380.1,1584.2 415.0,1553.6"/>
</g>
<g fill="none" stroke="#a9a9a9" stroke-width="1.7" opacity="1">
<circle cx="100.7" cy="1667.1" r="7.6"/>
<circle cx="135.6" cy="1667.1" r="7.6"/>
<circle cx="170.5" cy="1657.4" r="7.6"/>
<circle cx="205.5" cy="1656.2" r="7.6"/>
<circle cx="240.4" cy="1648.9" r="7.6"/>
<circle cx="275.3" cy="1640.4" r="7.6"/>
<circle cx="310.2" cy="1619.2" r="7.6"/>
<circle cx="345.1" cy="1532.0" r="7.6"/>
<circle cx="380.1" cy="1368.7" r="7.6"/>
<circle cx="415.0" cy="1363.3" r="7.6"/>
<circle cx="100.7" cy="1667.1" r="7.6"/>
<circle cx="135.6" cy="1667.1" r="7.6"/>
<circle cx="170.5" cy="1659.8" r="7.6"/>
<circle cx="205.5" cy="1658.6" r="7.6"/>
<circle cx="240.4" cy="1653.7" r="7.6"/>
<circle cx="275.3" cy="1645.2" r="7.6"/>
<circle cx="310.2" cy="1622.4" r="7.6"/>
<circle cx="345.1" cy="1582.0" r="7.6"/>
<circle cx="380.1" cy="1386.2" r="7.6"/>
<circle cx="415.0" cy="1342.7" r="7.6"/>
<circle cx="100.7" cy="1667.1" r="7.6"/>
<circle cx="135.6" cy="1667.1" r="7.6"/>
<circle cx="170.5" cy="1663.5" r="7.6"/>
<circle cx="205.5" cy="1661.0" r="7.6"/>
<circle cx="240.4" cy="1658.6" r="7.6"/>
<circle cx="275.3" cy="1654.9" r="7.6"/>
<circle cx="310.2" cy="1626.8" r="7.6"/>
<circle cx="345.1" cy="1560.2" r="7.6"/>
<circle cx="380.1" cy="1470.8" r="7.6"/>
<circle cx="415.0" cy="1357.0" r="7.6"/>
<circle cx="100.7" cy="1667.1" r="7.6"/>
<circle cx="135.6" cy="1667.1" r="7.6"/>
<circle cx="170.5" cy="1665.9" r="7.6"/>
<circle cx="205.5" cy="1665.9" r="7.6"/>
<circle cx="240.4" cy="1663.5" r="7.6"/>
<circle cx="275.3" cy="1659.8" r="7.6"/>
<circle cx="310.2" cy="1641.6" r="7.6"/>
<circle cx="345.1" cy="1589.3" r="7.6"/>
<circle cx="380.1" cy="1568.4" r="7.6"/>
<circle cx="415.0" cy="1442.8" r="7.6"/>
<circle cx="100.7" cy="1667.1" r="7.6"/>
<circle cx="135.6" cy="1667.1" r="7.6"/>
<circle cx="170.5" cy="1668.3" r="7.6"/>
<circle cx="205.5" cy="1665.9" r="7.6"/>
<circle cx="240.4" cy="1663.5" r="7.6"/>
<circle cx="275.3" cy="1664.7" r="7.6"/>
<circle cx="310.2" cy="1652.3" r="7.6"/>
<circle cx="345.1" cy="1628.2" r="7.6"/>
<circle cx="380.1" cy="1584.2" r="7.6"/>
<circle cx="415.0" cy="1553.6" r="7.6"/>
</g>
<text x="74.64" y="1675.35" font-size="24.0" font-weight="bold">0</text>
<text x="47.94" y="1626.75" font-size="24.0" font-weight="bold">200</text>
<text x="47.94" y="1578.15" font-size="24.0" font-weight="bold">400</text>
<text x="47.94" y="1529.55" font-size="24.0" font-weight="bold">600</text>
<text x="47.94" y="1480.95" font-size="24.0" font-weight="bold">800</text>
<text x="34.62" y="1432.35" font-size="24.0" font-weight="bold">1000</text>
<text x="34.62" y="1383.75" font-size="24.0" font-weight="bold">1200</text>
<text x="34.62" y="1335.15" font-size="24.0" font-weight="bold">1400</text>
<text x="94.04" y="1701.54" font-size="24.0" font-weight="bold">0</text>
<text x="163.91" y="1701.54" font-size="24.0" font-weight="bold">2</text>
<text x="233.60" y="1701.30" font-size="24.0" font-weight="bold">4</text>
<text x="303.53" y="1701.54" font-size="24.0" font-weight="bold">6</text>
<text x="373.37" y="1701.54" font-size="24.0" font-weight="bold">8</text>
<text x="436.31" y="1701.54" font-size="24.0" font-weight="bold">10</text>
<text x="218.05" y="1311.21" font-size="24.52" font-weight="bold" fill="#000" >Intranodal</text>
<text x="107.66" y="1342.70" font-size="21.37" font-weight="bold" fill="#000" >LN7 1134 BL</text>
<text x="109.10" y="1365.69" font-size="21.37" font-weight="bold" fill="#000" >WT</text>
<text x="108.94" y="1390.49" font-size="21.37" font-weight="bold" fill="#000" >Vehicle</text>
<text x="246.46" y="1733.21" font-size="24.23" font-weight="bold" fill="#000" >Days</text>
<text transform="translate(22.70,1609.04) rotate(-90)" font-size="23.81" font-weight="bold">Tumor volume (mm<tspan font-size="18.34" dy="-7.38">3</tspan><tspan dy="7.38">)</tspan></text>
<g stroke="#000" stroke-width="3" fill="none" stroke-linecap="square">
<path d="M598.2,1331.4 V1667.1 H943.8"/>
</g>
<g stroke="#000" stroke-width="3" fill="none">
<path d="M588.2,1667.1 H598.2"/>
<path d="M588.2,1619.1 H598.2"/>
<path d="M588.2,1571.2 H598.2"/>
<path d="M588.2,1523.2 H598.2"/>
<path d="M588.2,1475.3 H598.2"/>
<path d="M588.2,1427.3 H598.2"/>
<path d="M588.2,1379.3 H598.2"/>
<path d="M588.2,1331.4 H598.2"/>
<path d="M598.2,1667.1 V1677.1"/>
<path d="M667.3,1667.1 V1677.1"/>
<path d="M736.4,1667.1 V1677.1"/>
<path d="M805.6,1667.1 V1677.1"/>
<path d="M874.7,1667.1 V1677.1"/>
<path d="M943.8,1667.1 V1677.1"/>
</g>
<g fill="none" stroke="#3c8b91" stroke-width="1.75" opacity="1">
<polyline points="598.2,1667.1 632.8,1667.1 667.3,1661.1 701.9,1664.2 736.4,1653.7 771.0,1635.2 805.6,1648.4 840.1,1606.0 874.7,1579.1 909.2,1552.0"/>
<polyline points="598.2,1667.1 632.8,1667.1 667.3,1663.5 701.9,1664.7 736.4,1658.2 771.0,1653.7 805.6,1652.2 840.1,1632.8 874.7,1620.8 909.2,1602.1"/>
<polyline points="598.2,1667.1 632.8,1667.1 667.3,1664.7 701.9,1665.9 736.4,1661.1 771.0,1658.2 805.6,1656.8 840.1,1637.4 874.7,1629.7 909.2,1638.1"/>
<polyline points="598.2,1667.1 632.8,1667.1 667.3,1665.9 701.9,1665.9 736.4,1664.2 771.0,1658.2 805.6,1656.8 840.1,1655.1 874.7,1647.2 909.2,1659.7"/>
<polyline points="598.2,1667.1 632.8,1667.1 667.3,1667.1 701.9,1667.1 736.4,1664.2 771.0,1662.8 805.6,1661.1 840.1,1659.7 874.7,1661.1 909.2,1659.7"/>
<polyline points="598.2,1667.1 632.8,1667.1 667.3,1667.8 701.9,1667.1 736.4,1665.9 771.0,1662.8 805.6,1664.2 840.1,1664.2 874.7,1661.1"/>
</g>
<g fill="none" stroke="#3c8b91" stroke-width="1.7" opacity="1">
<circle cx="598.2" cy="1667.1" r="7.6"/>
<circle cx="632.8" cy="1667.1" r="7.6"/>
<circle cx="667.3" cy="1661.1" r="7.6"/>
<circle cx="701.9" cy="1664.2" r="7.6"/>
<circle cx="736.4" cy="1653.7" r="7.6"/>
<circle cx="771.0" cy="1635.2" r="7.6"/>
<circle cx="805.6" cy="1648.4" r="7.6"/>
<circle cx="840.1" cy="1606.0" r="7.6"/>
<circle cx="874.7" cy="1579.1" r="7.6"/>
<circle cx="909.2" cy="1552.0" r="7.6"/>
<circle cx="598.2" cy="1667.1" r="7.6"/>
<circle cx="632.8" cy="1667.1" r="7.6"/>
<circle cx="667.3" cy="1663.5" r="7.6"/>
<circle cx="701.9" cy="1664.7" r="7.6"/>
<circle cx="736.4" cy="1658.2" r="7.6"/>
<circle cx="771.0" cy="1653.7" r="7.6"/>
<circle cx="805.6" cy="1652.2" r="7.6"/>
<circle cx="840.1" cy="1632.8" r="7.6"/>
<circle cx="874.7" cy="1620.8" r="7.6"/>
<circle cx="909.2" cy="1602.1" r="7.6"/>
<circle cx="598.2" cy="1667.1" r="7.6"/>
<circle cx="632.8" cy="1667.1" r="7.6"/>
<circle cx="667.3" cy="1664.7" r="7.6"/>
<circle cx="701.9" cy="1665.9" r="7.6"/>
<circle cx="736.4" cy="1661.1" r="7.6"/>
<circle cx="771.0" cy="1658.2" r="7.6"/>
<circle cx="805.6" cy="1656.8" r="7.6"/>
<circle cx="840.1" cy="1637.4" r="7.6"/>
<circle cx="874.7" cy="1629.7" r="7.6"/>
<circle cx="909.2" cy="1638.1" r="7.6"/>
<circle cx="598.2" cy="1667.1" r="7.6"/>
<circle cx="632.8" cy="1667.1" r="7.6"/>
<circle cx="667.3" cy="1665.9" r="7.6"/>
<circle cx="701.9" cy="1665.9" r="7.6"/>
<circle cx="736.4" cy="1664.2" r="7.6"/>
<circle cx="771.0" cy="1658.2" r="7.6"/>
<circle cx="805.6" cy="1656.8" r="7.6"/>
<circle cx="840.1" cy="1655.1" r="7.6"/>
<circle cx="874.7" cy="1647.2" r="7.6"/>
<circle cx="909.2" cy="1659.7" r="7.6"/>
<circle cx="598.2" cy="1667.1" r="7.6"/>
<circle cx="632.8" cy="1667.1" r="7.6"/>
<circle cx="667.3" cy="1667.1" r="7.6"/>
<circle cx="701.9" cy="1667.1" r="7.6"/>
<circle cx="736.4" cy="1664.2" r="7.6"/>
<circle cx="771.0" cy="1662.8" r="7.6"/>
<circle cx="805.6" cy="1661.1" r="7.6"/>
<circle cx="840.1" cy="1659.7" r="7.6"/>
<circle cx="874.7" cy="1661.1" r="7.6"/>
<circle cx="909.2" cy="1659.7" r="7.6"/>
<circle cx="598.2" cy="1667.1" r="7.6"/>
<circle cx="632.8" cy="1667.1" r="7.6"/>
<circle cx="667.3" cy="1667.8" r="7.6"/>
<circle cx="701.9" cy="1667.1" r="7.6"/>
<circle cx="736.4" cy="1665.9" r="7.6"/>
<circle cx="771.0" cy="1662.8" r="7.6"/>
<circle cx="805.6" cy="1664.2" r="7.6"/>
<circle cx="840.1" cy="1664.2" r="7.6"/>
<circle cx="874.7" cy="1661.1" r="7.6"/>
</g>
<text x="572.14" y="1675.35" font-size="24.0" font-weight="bold">0</text>
<text x="545.44" y="1627.39" font-size="24.0" font-weight="bold">200</text>
<text x="545.44" y="1579.43" font-size="24.0" font-weight="bold">400</text>
<text x="545.44" y="1531.47" font-size="24.0" font-weight="bold">600</text>
<text x="545.44" y="1483.51" font-size="24.0" font-weight="bold">800</text>
<text x="532.12" y="1435.55" font-size="24.0" font-weight="bold">1000</text>
<text x="532.12" y="1387.59" font-size="24.0" font-weight="bold">1200</text>
<text x="532.12" y="1339.63" font-size="24.0" font-weight="bold">1400</text>
<text x="591.54" y="1701.54" font-size="24.0" font-weight="bold">0</text>
<text x="660.69" y="1701.54" font-size="24.0" font-weight="bold">2</text>
<text x="729.66" y="1701.30" font-size="24.0" font-weight="bold">4</text>
<text x="798.87" y="1701.54" font-size="24.0" font-weight="bold">6</text>
<text x="867.99" y="1701.54" font-size="24.0" font-weight="bold">8</text>
<text x="930.21" y="1701.54" font-size="24.0" font-weight="bold">10</text>
<text x="714.97" y="1315.65" font-size="24.20" font-weight="bold" fill="#000" >Intranodal</text>
<text x="605.17" y="1347.10" font-size="21.21" font-weight="bold" fill="#000" >LN7 1134 BL</text>
<text x="606.60" y="1370.58" font-size="21.21" font-weight="bold" fill="#000" >WT</text>
<text x="606.49" y="1394.38" font-size="21.21" font-weight="bold" fill="#000" >viFSP1</text>
<text x="742.48" y="1732.25" font-size="23.96" font-weight="bold" fill="#000" >Days</text>
<text transform="translate(520.20,1610.54) rotate(-90)" font-size="23.55" font-weight="bold">Tumor volume (mm<tspan font-size="18.14" dy="-7.30">3</tspan><tspan dy="7.30">)</tspan></text>
<g stroke="#000" stroke-width="3" fill="none" stroke-linecap="square">
<path d="M1076.7,1331.4 V1668.6 H1423.7"/>
</g>
<g stroke="#000" stroke-width="3" fill="none">
<path d="M1066.7,1668.6 H1076.7"/>
<path d="M1066.7,1620.4 H1076.7"/>
<path d="M1066.7,1572.3 H1076.7"/>
<path d="M1066.7,1524.1 H1076.7"/>
<path d="M1066.7,1475.9 H1076.7"/>
<path d="M1066.7,1427.8 H1076.7"/>
<path d="M1066.7,1379.6 H1076.7"/>
<path d="M1066.7,1331.4 H1076.7"/>
<path d="M1076.7,1668.6 V1678.6"/>
<path d="M1146.1,1668.6 V1678.6"/>
<path d="M1215.5,1668.6 V1678.6"/>
<path d="M1284.9,1668.6 V1678.6"/>
<path d="M1354.3,1668.6 V1678.6"/>
<path d="M1423.7,1668.6 V1678.6"/>
</g>
<g fill="none" stroke="#a9a9a9" stroke-width="1.75" opacity="1">
<polyline points="1076.7,1668.6 1111.4,1666.2 1146.1,1662.6 1180.8,1663.8 1215.5,1662.6 1250.2,1658.2 1284.9,1633.7 1319.6,1544.6 1354.3,1523.1 1389.0,1464.4" stroke-dasharray="7,4"/>
<polyline points="1076.7,1668.6 1111.4,1667.4 1146.1,1663.8 1180.8,1665.0 1215.5,1662.6 1250.2,1661.1 1284.9,1656.8 1319.6,1647.6 1354.3,1630.8 1389.0,1488.7" stroke-dasharray="7,4"/>
<polyline points="1076.7,1668.6 1111.4,1668.6 1146.1,1665.0 1180.8,1665.0 1215.5,1663.8 1250.2,1653.7 1284.9,1653.7 1319.6,1652.2 1354.3,1650.8 1389.0,1661.9" stroke-dasharray="7,4"/>
<polyline points="1076.7,1668.6 1111.4,1668.6 1146.1,1666.2 1180.8,1666.2 1215.5,1665.0 1250.2,1658.2 1284.9,1656.8 1319.6,1656.8 1354.3,1656.8 1389.0,1661.9" stroke-dasharray="7,4"/>
<polyline points="1076.7,1668.6 1111.4,1668.6 1146.1,1667.4 1180.8,1667.4 1215.5,1666.2 1250.2,1661.1 1284.9,1659.7 1319.6,1659.7 1354.3,1661.1" stroke-dasharray="7,4"/>
<polyline points="1076.7,1668.6 1111.4,1669.3 1146.1,1668.6 1180.8,1668.6 1215.5,1668.6 1250.2,1669.3 1284.9,1664.3 1319.6,1662.6 1354.3,1661.1" stroke-dasharray="7,4"/>
<polyline points="1076.7,1668.6 1111.4,1668.6 1146.1,1663.8 1180.8,1662.6 1215.5,1661.4 1250.2,1656.6 1284.9,1655.4 1319.6,1654.1 1354.3,1659.0" stroke-dasharray="7,4"/>
</g>
<g fill="none" stroke="#a9a9a9" stroke-width="1.7" opacity="1">
<circle cx="1076.7" cy="1668.6" r="7.6"/>
<circle cx="1111.4" cy="1666.2" r="7.6"/>
<circle cx="1146.1" cy="1662.6" r="7.6"/>
<circle cx="1180.8" cy="1663.8" r="7.6"/>
<circle cx="1215.5" cy="1662.6" r="7.6"/>
<circle cx="1250.2" cy="1658.2" r="7.6"/>
<circle cx="1284.9" cy="1633.7" r="7.6"/>
<circle cx="1319.6" cy="1544.6" r="7.6"/>
<circle cx="1354.3" cy="1523.1" r="7.6"/>
<circle cx="1389.0" cy="1464.4" r="7.6"/>
<circle cx="1076.7" cy="1668.6" r="7.6"/>
<circle cx="1111.4" cy="1667.4" r="7.6"/>
<circle cx="1146.1" cy="1663.8" r="7.6"/>
<circle cx="1180.8" cy="1665.0" r="7.6"/>
<circle cx="1215.5" cy="1662.6" r="7.6"/>
<circle cx="1250.2" cy="1661.1" r="7.6"/>
<circle cx="1284.9" cy="1656.8" r="7.6"/>
<circle cx="1319.6" cy="1647.6" r="7.6"/>
<circle cx="1354.3" cy="1630.8" r="7.6"/>
<circle cx="1389.0" cy="1488.7" r="7.6"/>
<circle cx="1076.7" cy="1668.6" r="7.6"/>
<circle cx="1111.4" cy="1668.6" r="7.6"/>
<circle cx="1146.1" cy="1665.0" r="7.6"/>
<circle cx="1180.8" cy="1665.0" r="7.6"/>
<circle cx="1215.5" cy="1663.8" r="7.6"/>
<circle cx="1250.2" cy="1653.7" r="7.6"/>
<circle cx="1284.9" cy="1653.7" r="7.6"/>
<circle cx="1319.6" cy="1652.2" r="7.6"/>
<circle cx="1354.3" cy="1650.8" r="7.6"/>
<circle cx="1389.0" cy="1661.9" r="7.6"/>
<circle cx="1076.7" cy="1668.6" r="7.6"/>
<circle cx="1111.4" cy="1668.6" r="7.6"/>
<circle cx="1146.1" cy="1666.2" r="7.6"/>
<circle cx="1180.8" cy="1666.2" r="7.6"/>
<circle cx="1215.5" cy="1665.0" r="7.6"/>
<circle cx="1250.2" cy="1658.2" r="7.6"/>
<circle cx="1284.9" cy="1656.8" r="7.6"/>
<circle cx="1319.6" cy="1656.8" r="7.6"/>
<circle cx="1354.3" cy="1656.8" r="7.6"/>
<circle cx="1389.0" cy="1661.9" r="7.6"/>
<circle cx="1076.7" cy="1668.6" r="7.6"/>
<circle cx="1111.4" cy="1668.6" r="7.6"/>
<circle cx="1146.1" cy="1667.4" r="7.6"/>
<circle cx="1180.8" cy="1667.4" r="7.6"/>
<circle cx="1215.5" cy="1666.2" r="7.6"/>
<circle cx="1250.2" cy="1661.1" r="7.6"/>
<circle cx="1284.9" cy="1659.7" r="7.6"/>
<circle cx="1319.6" cy="1659.7" r="7.6"/>
<circle cx="1354.3" cy="1661.1" r="7.6"/>
<circle cx="1076.7" cy="1668.6" r="7.6"/>
<circle cx="1111.4" cy="1669.3" r="7.6"/>
<circle cx="1146.1" cy="1668.6" r="7.6"/>
<circle cx="1180.8" cy="1668.6" r="7.6"/>
<circle cx="1215.5" cy="1668.6" r="7.6"/>
<circle cx="1250.2" cy="1669.3" r="7.6"/>
<circle cx="1284.9" cy="1664.3" r="7.6"/>
<circle cx="1319.6" cy="1662.6" r="7.6"/>
<circle cx="1354.3" cy="1661.1" r="7.6"/>
<circle cx="1076.7" cy="1668.6" r="7.6"/>
<circle cx="1111.4" cy="1668.6" r="7.6"/>
<circle cx="1146.1" cy="1663.8" r="7.6"/>
<circle cx="1180.8" cy="1662.6" r="7.6"/>
<circle cx="1215.5" cy="1661.4" r="7.6"/>
<circle cx="1250.2" cy="1656.6" r="7.6"/>
<circle cx="1284.9" cy="1655.4" r="7.6"/>
<circle cx="1319.6" cy="1654.1" r="7.6"/>
<circle cx="1354.3" cy="1659.0" r="7.6"/>
</g>
<text x="1050.64" y="1676.85" font-size="24.0" font-weight="bold">0</text>
<text x="1023.94" y="1628.68" font-size="24.0" font-weight="bold">200</text>
<text x="1023.94" y="1580.51" font-size="24.0" font-weight="bold">400</text>
<text x="1023.94" y="1532.34" font-size="24.0" font-weight="bold">600</text>
<text x="1023.94" y="1484.17" font-size="24.0" font-weight="bold">800</text>
<text x="1010.62" y="1436.00" font-size="24.0" font-weight="bold">1000</text>
<text x="1010.62" y="1387.83" font-size="24.0" font-weight="bold">1200</text>
<text x="1010.62" y="1339.66" font-size="24.0" font-weight="bold">1400</text>
<text x="1070.04" y="1703.04" font-size="24.0" font-weight="bold">0</text>
<text x="1139.47" y="1703.04" font-size="24.0" font-weight="bold">2</text>
<text x="1208.72" y="1702.80" font-size="24.0" font-weight="bold">4</text>
<text x="1278.21" y="1703.04" font-size="24.0" font-weight="bold">6</text>
<text x="1347.61" y="1703.04" font-size="24.0" font-weight="bold">8</text>
<text x="1410.11" y="1703.04" font-size="24.0" font-weight="bold">10</text>
<text x="1184.16" y="1315.67" font-size="24.26" font-weight="bold" fill="#000" >Intranodal</text>
<text x="1084.27" y="1347.10" font-size="21.21" font-weight="bold" fill="#000" >LN7 1134 BL</text>
<text x="1084.27" y="1369.80" font-size="21.21" font-weight="bold" fill="#000" >FSP1 KO</text>
<text x="1085.54" y="1394.38" font-size="21.21" font-weight="bold" fill="#000" >Vehicle</text>
<text x="1221.89" y="1734.18" font-size="23.88" font-weight="bold" fill="#000" >Days</text>
<text transform="translate(998.70,1610.54) rotate(-90)" font-size="23.55" font-weight="bold">Tumor volume (mm<tspan font-size="18.14" dy="-7.30">3</tspan><tspan dy="7.30">)</tspan></text>
<g stroke="#000" stroke-width="3" fill="none" stroke-linecap="square">
<path d="M1596.6,1329.3 V1669.5 H1945.5"/>
</g>
<g stroke="#000" stroke-width="3" fill="none">
<path d="M1586.6,1669.5 H1596.6"/>
<path d="M1586.6,1620.9 H1596.6"/>
<path d="M1586.6,1572.3 H1596.6"/>
<path d="M1586.6,1523.7 H1596.6"/>
<path d="M1586.6,1475.1 H1596.6"/>
<path d="M1586.6,1426.5 H1596.6"/>
<path d="M1586.6,1377.9 H1596.6"/>
<path d="M1586.6,1329.3 H1596.6"/>
<path d="M1596.6,1669.5 V1679.5"/>
<path d="M1666.4,1669.5 V1679.5"/>
<path d="M1736.2,1669.5 V1679.5"/>
<path d="M1805.9,1669.5 V1679.5"/>
<path d="M1875.7,1669.5 V1679.5"/>
<path d="M1945.5,1669.5 V1679.5"/>
</g>
<g fill="none" stroke="#3c8b91" stroke-width="1.75" opacity="1">
<polyline points="1596.6,1669.5 1631.5,1669.5 1666.4,1657.3 1701.3,1664.6 1736.2,1661.0 1771.0,1658.6 1805.9,1652.5 1840.8,1625.3 1875.7,1584.0 1910.6,1504.0" stroke-dasharray="7,4"/>
<polyline points="1596.6,1669.5 1631.5,1669.5 1666.4,1662.2 1701.3,1665.9 1736.2,1662.2 1771.0,1659.8 1805.9,1654.9 1840.8,1629.6 1875.7,1588.6 1910.6,1515.9" stroke-dasharray="7,4"/>
<polyline points="1596.6,1669.5 1631.5,1669.5 1666.4,1664.6 1701.3,1667.1 1736.2,1663.4 1771.0,1661.0 1805.9,1657.3 1840.8,1635.5 1875.7,1621.4 1910.6,1608.5" stroke-dasharray="7,4"/>
<polyline points="1596.6,1669.5 1631.5,1669.5 1666.4,1667.1 1701.3,1667.1 1736.2,1664.6 1771.0,1662.2 1805.9,1658.6 1840.8,1646.2 1875.7,1628.9 1910.6,1642.8" stroke-dasharray="7,4"/>
<polyline points="1596.6,1669.5 1631.5,1669.5 1666.4,1668.3 1701.3,1668.3 1736.2,1665.9 1771.0,1663.4 1805.9,1659.8 1840.8,1653.7 1875.7,1651.3 1910.6,1647.1" stroke-dasharray="7,4"/>
<polyline points="1596.6,1669.5 1631.5,1669.5 1666.4,1669.5 1701.3,1668.3 1736.2,1667.1 1771.0,1664.6 1805.9,1662.2 1840.8,1658.1 1875.7,1655.6 1910.6,1662.0" stroke-dasharray="7,4"/>
<polyline points="1596.6,1669.5 1631.5,1669.5 1666.4,1669.5 1701.3,1669.5 1736.2,1668.3 1771.0,1667.1 1805.9,1664.6 1840.8,1664.2 1875.7,1661.7" stroke-dasharray="7,4"/>
<polyline points="1596.6,1669.5 1631.5,1669.5 1666.4,1670.2 1701.3,1669.5 1736.2,1670.2 1771.0,1670.2 1805.9,1670.2 1840.8,1668.5 1875.7,1666.3" stroke-dasharray="7,4"/>
</g>
<g fill="none" stroke="#3c8b91" stroke-width="1.7" opacity="1">
<circle cx="1596.6" cy="1669.5" r="7.6"/>
<circle cx="1631.5" cy="1669.5" r="7.6"/>
<circle cx="1666.4" cy="1657.3" r="7.6"/>
<circle cx="1701.3" cy="1664.6" r="7.6"/>
<circle cx="1736.2" cy="1661.0" r="7.6"/>
<circle cx="1771.0" cy="1658.6" r="7.6"/>
<circle cx="1805.9" cy="1652.5" r="7.6"/>
<circle cx="1840.8" cy="1625.3" r="7.6"/>
<circle cx="1875.7" cy="1584.0" r="7.6"/>
<circle cx="1910.6" cy="1504.0" r="7.6"/>
<circle cx="1596.6" cy="1669.5" r="7.6"/>
<circle cx="1631.5" cy="1669.5" r="7.6"/>
<circle cx="1666.4" cy="1662.2" r="7.6"/>
<circle cx="1701.3" cy="1665.9" r="7.6"/>
<circle cx="1736.2" cy="1662.2" r="7.6"/>
<circle cx="1771.0" cy="1659.8" r="7.6"/>
<circle cx="1805.9" cy="1654.9" r="7.6"/>
<circle cx="1840.8" cy="1629.6" r="7.6"/>
<circle cx="1875.7" cy="1588.6" r="7.6"/>
<circle cx="1910.6" cy="1515.9" r="7.6"/>
<circle cx="1596.6" cy="1669.5" r="7.6"/>
<circle cx="1631.5" cy="1669.5" r="7.6"/>
<circle cx="1666.4" cy="1664.6" r="7.6"/>
<circle cx="1701.3" cy="1667.1" r="7.6"/>
<circle cx="1736.2" cy="1663.4" r="7.6"/>
<circle cx="1771.0" cy="1661.0" r="7.6"/>
<circle cx="1805.9" cy="1657.3" r="7.6"/>
<circle cx="1840.8" cy="1635.5" r="7.6"/>
<circle cx="1875.7" cy="1621.4" r="7.6"/>
<circle cx="1910.6" cy="1608.5" r="7.6"/>
<circle cx="1596.6" cy="1669.5" r="7.6"/>
<circle cx="1631.5" cy="1669.5" r="7.6"/>
<circle cx="1666.4" cy="1667.1" r="7.6"/>
<circle cx="1701.3" cy="1667.1" r="7.6"/>
<circle cx="1736.2" cy="1664.6" r="7.6"/>
<circle cx="1771.0" cy="1662.2" r="7.6"/>
<circle cx="1805.9" cy="1658.6" r="7.6"/>
<circle cx="1840.8" cy="1646.2" r="7.6"/>
<circle cx="1875.7" cy="1628.9" r="7.6"/>
<circle cx="1910.6" cy="1642.8" r="7.6"/>
<circle cx="1596.6" cy="1669.5" r="7.6"/>
<circle cx="1631.5" cy="1669.5" r="7.6"/>
<circle cx="1666.4" cy="1668.3" r="7.6"/>
<circle cx="1701.3" cy="1668.3" r="7.6"/>
<circle cx="1736.2" cy="1665.9" r="7.6"/>
<circle cx="1771.0" cy="1663.4" r="7.6"/>
<circle cx="1805.9" cy="1659.8" r="7.6"/>
<circle cx="1840.8" cy="1653.7" r="7.6"/>
<circle cx="1875.7" cy="1651.3" r="7.6"/>
<circle cx="1910.6" cy="1647.1" r="7.6"/>
<circle cx="1596.6" cy="1669.5" r="7.6"/>
<circle cx="1631.5" cy="1669.5" r="7.6"/>
<circle cx="1666.4" cy="1669.5" r="7.6"/>
<circle cx="1701.3" cy="1668.3" r="7.6"/>
<circle cx="1736.2" cy="1667.1" r="7.6"/>
<circle cx="1771.0" cy="1664.6" r="7.6"/>
<circle cx="1805.9" cy="1662.2" r="7.6"/>
<circle cx="1840.8" cy="1658.1" r="7.6"/>
<circle cx="1875.7" cy="1655.6" r="7.6"/>
<circle cx="1910.6" cy="1662.0" r="7.6"/>
<circle cx="1596.6" cy="1669.5" r="7.6"/>
<circle cx="1631.5" cy="1669.5" r="7.6"/>
<circle cx="1666.4" cy="1669.5" r="7.6"/>
<circle cx="1701.3" cy="1669.5" r="7.6"/>
<circle cx="1736.2" cy="1668.3" r="7.6"/>
<circle cx="1771.0" cy="1667.1" r="7.6"/>
<circle cx="1805.9" cy="1664.6" r="7.6"/>
<circle cx="1840.8" cy="1664.2" r="7.6"/>
<circle cx="1875.7" cy="1661.7" r="7.6"/>
<circle cx="1596.6" cy="1669.5" r="7.6"/>
<circle cx="1631.5" cy="1669.5" r="7.6"/>
<circle cx="1666.4" cy="1670.2" r="7.6"/>
<circle cx="1701.3" cy="1669.5" r="7.6"/>
<circle cx="1736.2" cy="1670.2" r="7.6"/>
<circle cx="1771.0" cy="1670.2" r="7.6"/>
<circle cx="1805.9" cy="1670.2" r="7.6"/>
<circle cx="1840.8" cy="1668.5" r="7.6"/>
<circle cx="1875.7" cy="1666.3" r="7.6"/>
</g>
<text x="1570.54" y="1677.75" font-size="24.0" font-weight="bold">0</text>
<text x="1543.84" y="1629.15" font-size="24.0" font-weight="bold">200</text>
<text x="1543.84" y="1580.55" font-size="24.0" font-weight="bold">400</text>
<text x="1543.84" y="1531.95" font-size="24.0" font-weight="bold">600</text>
<text x="1543.84" y="1483.35" font-size="24.0" font-weight="bold">800</text>
<text x="1530.52" y="1434.75" font-size="24.0" font-weight="bold">1000</text>
<text x="1530.52" y="1386.15" font-size="24.0" font-weight="bold">1200</text>
<text x="1530.52" y="1337.55" font-size="24.0" font-weight="bold">1400</text>
<text x="1589.94" y="1703.94" font-size="24.0" font-weight="bold">0</text>
<text x="1659.75" y="1703.94" font-size="24.0" font-weight="bold">2</text>
<text x="1729.38" y="1703.70" font-size="24.0" font-weight="bold">4</text>
<text x="1799.25" y="1703.94" font-size="24.0" font-weight="bold">6</text>
<text x="1869.03" y="1703.94" font-size="24.0" font-weight="bold">8</text>
<text x="1931.91" y="1703.94" font-size="24.0" font-weight="bold">10</text>
<text x="1714.55" y="1314.12" font-size="24.39" font-weight="bold" fill="#000" >Intranodal</text>
<text x="1603.45" y="1345.14" font-size="21.42" font-weight="bold" fill="#000" >LN7 1134 BL</text>
<text x="1603.45" y="1368.14" font-size="21.42" font-weight="bold" fill="#000" >FSP1 KO</text>
<text x="1604.79" y="1393.53" font-size="21.42" font-weight="bold" fill="#000" >viFSP1</text>
<text x="1742.36" y="1736.16" font-size="24.23" font-weight="bold" fill="#000" >Days</text>
<text transform="translate(1518.60,1610.54) rotate(-90)" font-size="23.68" font-weight="bold">Tumor volume (mm<tspan font-size="18.24" dy="-7.34">3</tspan><tspan dy="7.34">)</tspan></text>
<g stroke="#000" stroke-width="3" fill="none" stroke-linecap="square">
<path d="M103.1,1811.7 V2150.1 H449.9"/>
</g>
<g stroke="#000" stroke-width="3" fill="none">
<path d="M93.1,2150.1 H103.1"/>
<path d="M93.1,2065.5 H103.1"/>
<path d="M93.1,1980.9 H103.1"/>
<path d="M93.1,1896.3 H103.1"/>
<path d="M93.1,1811.7 H103.1"/>
<path d="M103.1,2150.1 V2160.1"/>
<path d="M189.8,2150.1 V2160.1"/>
<path d="M276.5,2150.1 V2160.1"/>
<path d="M363.2,2150.1 V2160.1"/>
<path d="M449.9,2150.1 V2160.1"/>
</g>
<g fill="none" stroke="#111" stroke-width="1.75" opacity="1">
<polyline points="103.1,2150.1 146.4,2133.6 189.8,2120.1 233.2,2094.7 276.5,2046.5 319.9,2034.2 406.5,1914.9"/>
<polyline points="103.1,2150.1 146.4,2138.3 189.8,2115.8 233.2,2104.0 276.5,2085.8 319.9,2046.5 363.2,2032.1 406.5,1986.4"/>
<polyline points="103.1,2150.1 146.4,2142.9 189.8,2133.6 233.2,2111.2 276.5,2081.6 319.9,2070.2 363.2,2019.4 406.5,1893.8"/>
<polyline points="103.1,2150.1 146.4,2150.1 189.8,2138.3 233.2,2117.1 276.5,2088.8 319.9,2079.9 363.2,2052.4 406.5,1972.9"/>
<polyline points="103.1,2150.1 146.4,2150.1 189.8,2142.9 233.2,2111.2 276.5,2105.3 319.9,2097.6 363.2,2072.3 406.5,2008.0"/>
<polyline points="103.1,2150.1 146.4,2150.1 189.8,2142.9 233.2,2117.1 276.5,2118.8 319.9,2103.1 363.2,2082.4 406.5,2046.5"/>
<polyline points="103.1,2150.1 146.4,2150.1 189.8,2138.3 233.2,2135.3 276.5,2125.1 319.9,2114.1 363.2,2088.8 406.5,2071.8"/>
</g>
<g fill="none" stroke="#111" stroke-width="1.7" opacity="1">
<circle cx="103.1" cy="2150.1" r="7.6"/>
<circle cx="146.4" cy="2133.6" r="7.6"/>
<circle cx="189.8" cy="2120.1" r="7.6"/>
<circle cx="233.2" cy="2094.7" r="7.6"/>
<circle cx="276.5" cy="2046.5" r="7.6"/>
<circle cx="319.9" cy="2034.2" r="7.6"/>
<circle cx="406.5" cy="1914.9" r="7.6"/>
<circle cx="103.1" cy="2150.1" r="7.6"/>
<circle cx="146.4" cy="2138.3" r="7.6"/>
<circle cx="189.8" cy="2115.8" r="7.6"/>
<circle cx="233.2" cy="2104.0" r="7.6"/>
<circle cx="276.5" cy="2085.8" r="7.6"/>
<circle cx="319.9" cy="2046.5" r="7.6"/>
<circle cx="363.2" cy="2032.1" r="7.6"/>
<circle cx="406.5" cy="1986.4" r="7.6"/>
<circle cx="103.1" cy="2150.1" r="7.6"/>
<circle cx="146.4" cy="2142.9" r="7.6"/>
<circle cx="189.8" cy="2133.6" r="7.6"/>
<circle cx="233.2" cy="2111.2" r="7.6"/>
<circle cx="276.5" cy="2081.6" r="7.6"/>
<circle cx="319.9" cy="2070.2" r="7.6"/>
<circle cx="363.2" cy="2019.4" r="7.6"/>
<circle cx="406.5" cy="1893.8" r="7.6"/>
<circle cx="103.1" cy="2150.1" r="7.6"/>
<circle cx="146.4" cy="2150.1" r="7.6"/>
<circle cx="189.8" cy="2138.3" r="7.6"/>
<circle cx="233.2" cy="2117.1" r="7.6"/>
<circle cx="276.5" cy="2088.8" r="7.6"/>
<circle cx="319.9" cy="2079.9" r="7.6"/>
<circle cx="363.2" cy="2052.4" r="7.6"/>
<circle cx="406.5" cy="1972.9" r="7.6"/>
<circle cx="103.1" cy="2150.1" r="7.6"/>
<circle cx="146.4" cy="2150.1" r="7.6"/>
<circle cx="189.8" cy="2142.9" r="7.6"/>
<circle cx="233.2" cy="2111.2" r="7.6"/>
<circle cx="276.5" cy="2105.3" r="7.6"/>
<circle cx="319.9" cy="2097.6" r="7.6"/>
<circle cx="363.2" cy="2072.3" r="7.6"/>
<circle cx="406.5" cy="2008.0" r="7.6"/>
<circle cx="103.1" cy="2150.1" r="7.6"/>
<circle cx="146.4" cy="2150.1" r="7.6"/>
<circle cx="189.8" cy="2142.9" r="7.6"/>
<circle cx="233.2" cy="2117.1" r="7.6"/>
<circle cx="276.5" cy="2118.8" r="7.6"/>
<circle cx="319.9" cy="2103.1" r="7.6"/>
<circle cx="363.2" cy="2082.4" r="7.6"/>
<circle cx="406.5" cy="2046.5" r="7.6"/>
<circle cx="103.1" cy="2150.1" r="7.6"/>
<circle cx="146.4" cy="2150.1" r="7.6"/>
<circle cx="189.8" cy="2138.3" r="7.6"/>
<circle cx="233.2" cy="2135.3" r="7.6"/>
<circle cx="276.5" cy="2125.1" r="7.6"/>
<circle cx="319.9" cy="2114.1" r="7.6"/>
<circle cx="363.2" cy="2088.8" r="7.6"/>
<circle cx="406.5" cy="2071.8" r="7.6"/>
</g>
<text x="76.74" y="2158.35" font-size="24.0" font-weight="bold">0</text>
<text x="50.04" y="2073.75" font-size="24.0" font-weight="bold">200</text>
<text x="50.04" y="1989.15" font-size="24.0" font-weight="bold">400</text>
<text x="50.04" y="1904.55" font-size="24.0" font-weight="bold">600</text>
<text x="50.04" y="1819.95" font-size="24.0" font-weight="bold">800</text>
<text x="96.44" y="2185.04" font-size="24.0" font-weight="bold">0</text>
<text x="183.17" y="2185.04" font-size="24.0" font-weight="bold">2</text>
<text x="269.72" y="2184.80" font-size="24.0" font-weight="bold">4</text>
<text x="356.51" y="2185.04" font-size="24.0" font-weight="bold">6</text>
<text x="443.21" y="2185.04" font-size="24.0" font-weight="bold">8</text>
<text x="190.58" y="1792.59" font-size="24.04" font-weight="bold" fill="#000" >Subcutaneous</text>
<text x="109.76" y="1827.13" font-size="21.26" font-weight="bold" fill="#000" >LN7 1134 BL</text>
<text x="111.20" y="1849.32" font-size="21.26" font-weight="bold" fill="#000" >WT</text>
<text x="111.04" y="1874.12" font-size="21.26" font-weight="bold" fill="#000" >Vehicle</text>
<text x="247.98" y="2216.15" font-size="23.96" font-weight="bold" fill="#000" >Days</text>
<text transform="translate(38.80,2090.54) rotate(-90)" font-size="23.68" font-weight="bold">Tumor volume (mm<tspan font-size="18.24" dy="-7.34">3</tspan><tspan dy="7.34">)</tspan></text>
<g stroke="#000" stroke-width="3" fill="none" stroke-linecap="square">
<path d="M600.6,1813.8 V2148.0 H944.4"/>
</g>
<g stroke="#000" stroke-width="3" fill="none">
<path d="M590.6,2148.0 H600.6"/>
<path d="M590.6,2064.4 H600.6"/>
<path d="M590.6,1980.9 H600.6"/>
<path d="M590.6,1897.3 H600.6"/>
<path d="M590.6,1813.8 H600.6"/>
<path d="M600.6,2148.0 V2158.0"/>
<path d="M686.5,2148.0 V2158.0"/>
<path d="M772.5,2148.0 V2158.0"/>
<path d="M858.4,2148.0 V2158.0"/>
<path d="M944.4,2148.0 V2158.0"/>
</g>
<g fill="none" stroke="#3c8b91" stroke-width="1.75" opacity="1">
<polyline points="600.6,2148.0 643.6,2125.0 686.5,2112.9 729.5,2089.1 772.5,2064.9 815.5,2017.2 858.4,1971.7 901.4,1881.9"/>
<polyline points="600.6,2148.0 643.6,2129.2 686.5,2106.2 729.5,2078.2 772.5,2085.3 815.5,2085.8 858.4,2066.5 901.4,1994.7"/>
<polyline points="600.6,2148.0 643.6,2131.3 686.5,2117.5 729.5,2082.8 772.5,2094.9 815.5,2089.1 858.4,2072.4 901.4,2019.3"/>
<polyline points="600.6,2148.0 643.6,2133.4 686.5,2121.7 729.5,2096.2 772.5,2100.8 815.5,2105.4 858.4,2096.2 901.4,2059.0"/>
<polyline points="600.6,2148.0 643.6,2135.5 686.5,2117.5 729.5,2100.8 772.5,2106.6 815.5,2108.3 858.4,2099.1 901.4,2064.9"/>
<polyline points="600.6,2148.0 643.6,2137.6 686.5,2121.7 729.5,2106.6 772.5,2118.8 815.5,2118.8 858.4,2103.7 901.4,2070.7"/>
<polyline points="600.6,2148.0 643.6,2139.6 686.5,2132.1 729.5,2121.7 772.5,2127.5 815.5,2108.3 858.4,2096.2 901.4,2094.9"/>
<polyline points="600.6,2148.0 643.6,2143.8 686.5,2138.4 729.5,2126.3 772.5,2118.8 815.5,2118.8 858.4,2103.7 901.4,2100.4"/>
<polyline points="600.6,2148.0 643.6,2145.9 686.5,2144.2 729.5,2141.3 772.5,2139.6 815.5,2137.1 858.4,2114.2 901.4,2100.4"/>
</g>
<g fill="none" stroke="#3c8b91" stroke-width="1.7" opacity="1">
<circle cx="600.6" cy="2148.0" r="7.6"/>
<circle cx="643.6" cy="2125.0" r="7.6"/>
<circle cx="686.5" cy="2112.9" r="7.6"/>
<circle cx="729.5" cy="2089.1" r="7.6"/>
<circle cx="772.5" cy="2064.9" r="7.6"/>
<circle cx="815.5" cy="2017.2" r="7.6"/>
<circle cx="858.4" cy="1971.7" r="7.6"/>
<circle cx="901.4" cy="1881.9" r="7.6"/>
<circle cx="600.6" cy="2148.0" r="7.6"/>
<circle cx="643.6" cy="2129.2" r="7.6"/>
<circle cx="686.5" cy="2106.2" r="7.6"/>
<circle cx="729.5" cy="2078.2" r="7.6"/>
<circle cx="772.5" cy="2085.3" r="7.6"/>
<circle cx="815.5" cy="2085.8" r="7.6"/>
<circle cx="858.4" cy="2066.5" r="7.6"/>
<circle cx="901.4" cy="1994.7" r="7.6"/>
<circle cx="600.6" cy="2148.0" r="7.6"/>
<circle cx="643.6" cy="2131.3" r="7.6"/>
<circle cx="686.5" cy="2117.5" r="7.6"/>
<circle cx="729.5" cy="2082.8" r="7.6"/>
<circle cx="772.5" cy="2094.9" r="7.6"/>
<circle cx="815.5" cy="2089.1" r="7.6"/>
<circle cx="858.4" cy="2072.4" r="7.6"/>
<circle cx="901.4" cy="2019.3" r="7.6"/>
<circle cx="600.6" cy="2148.0" r="7.6"/>
<circle cx="643.6" cy="2133.4" r="7.6"/>
<circle cx="686.5" cy="2121.7" r="7.6"/>
<circle cx="729.5" cy="2096.2" r="7.6"/>
<circle cx="772.5" cy="2100.8" r="7.6"/>
<circle cx="815.5" cy="2105.4" r="7.6"/>
<circle cx="858.4" cy="2096.2" r="7.6"/>
<circle cx="901.4" cy="2059.0" r="7.6"/>
<circle cx="600.6" cy="2148.0" r="7.6"/>
<circle cx="643.6" cy="2135.5" r="7.6"/>
<circle cx="686.5" cy="2117.5" r="7.6"/>
<circle cx="729.5" cy="2100.8" r="7.6"/>
<circle cx="772.5" cy="2106.6" r="7.6"/>
<circle cx="815.5" cy="2108.3" r="7.6"/>
<circle cx="858.4" cy="2099.1" r="7.6"/>
<circle cx="901.4" cy="2064.9" r="7.6"/>
<circle cx="600.6" cy="2148.0" r="7.6"/>
<circle cx="643.6" cy="2137.6" r="7.6"/>
<circle cx="686.5" cy="2121.7" r="7.6"/>
<circle cx="729.5" cy="2106.6" r="7.6"/>
<circle cx="772.5" cy="2118.8" r="7.6"/>
<circle cx="815.5" cy="2118.8" r="7.6"/>
<circle cx="858.4" cy="2103.7" r="7.6"/>
<circle cx="901.4" cy="2070.7" r="7.6"/>
<circle cx="600.6" cy="2148.0" r="7.6"/>
<circle cx="643.6" cy="2139.6" r="7.6"/>
<circle cx="686.5" cy="2132.1" r="7.6"/>
<circle cx="729.5" cy="2121.7" r="7.6"/>
<circle cx="772.5" cy="2127.5" r="7.6"/>
<circle cx="815.5" cy="2108.3" r="7.6"/>
<circle cx="858.4" cy="2096.2" r="7.6"/>
<circle cx="901.4" cy="2094.9" r="7.6"/>
<circle cx="600.6" cy="2148.0" r="7.6"/>
<circle cx="643.6" cy="2143.8" r="7.6"/>
<circle cx="686.5" cy="2138.4" r="7.6"/>
<circle cx="729.5" cy="2126.3" r="7.6"/>
<circle cx="772.5" cy="2118.8" r="7.6"/>
<circle cx="815.5" cy="2118.8" r="7.6"/>
<circle cx="858.4" cy="2103.7" r="7.6"/>
<circle cx="901.4" cy="2100.4" r="7.6"/>
<circle cx="600.6" cy="2148.0" r="7.6"/>
<circle cx="643.6" cy="2145.9" r="7.6"/>
<circle cx="686.5" cy="2144.2" r="7.6"/>
<circle cx="729.5" cy="2141.3" r="7.6"/>
<circle cx="772.5" cy="2139.6" r="7.6"/>
<circle cx="815.5" cy="2137.1" r="7.6"/>
<circle cx="858.4" cy="2114.2" r="7.6"/>
<circle cx="901.4" cy="2100.4" r="7.6"/>
</g>
<text x="574.24" y="2156.25" font-size="24.0" font-weight="bold">0</text>
<text x="547.54" y="2072.70" font-size="24.0" font-weight="bold">200</text>
<text x="547.54" y="1989.15" font-size="24.0" font-weight="bold">400</text>
<text x="547.54" y="1905.60" font-size="24.0" font-weight="bold">600</text>
<text x="547.54" y="1822.05" font-size="24.0" font-weight="bold">800</text>
<text x="593.94" y="2182.94" font-size="24.0" font-weight="bold">0</text>
<text x="679.91" y="2182.94" font-size="24.0" font-weight="bold">2</text>
<text x="765.70" y="2182.70" font-size="24.0" font-weight="bold">4</text>
<text x="851.73" y="2182.94" font-size="24.0" font-weight="bold">6</text>
<text x="937.67" y="2182.94" font-size="24.0" font-weight="bold">8</text>
<text x="687.19" y="1794.36" font-size="23.81" font-weight="bold" fill="#000" >Subcutaneous</text>
<text x="607.57" y="1828.56" font-size="21.16" font-weight="bold" fill="#000" >LN7 1134 BL</text>
<text x="609.00" y="1850.75" font-size="21.16" font-weight="bold" fill="#000" >WT</text>
<text x="608.89" y="1875.54" font-size="21.16" font-weight="bold" fill="#000" >viFSP1</text>
<text x="743.99" y="2213.47" font-size="23.83" font-weight="bold" fill="#000" >Days</text>
<text transform="translate(537.20,2092.04) rotate(-90)" font-size="23.52" font-weight="bold">Tumor volume (mm<tspan font-size="18.11" dy="-7.29">3</tspan><tspan dy="7.29">)</tspan></text>
<g stroke="#000" stroke-width="3" fill="none" stroke-linecap="square">
<path d="M1073.1,1816.3 V2147.1 H1411.5"/>
</g>
<g stroke="#000" stroke-width="3" fill="none">
<path d="M1063.1,2147.1 H1073.1"/>
<path d="M1063.1,2064.4 H1073.1"/>
<path d="M1063.1,1981.7 H1073.1"/>
<path d="M1063.1,1899.0 H1073.1"/>
<path d="M1063.1,1816.3 H1073.1"/>
<path d="M1073.1,2147.1 V2157.1"/>
<path d="M1157.7,2147.1 V2157.1"/>
<path d="M1242.3,2147.1 V2157.1"/>
<path d="M1326.9,2147.1 V2157.1"/>
<path d="M1411.5,2147.1 V2157.1"/>
</g>
<g fill="none" stroke="#111" stroke-width="1.75" opacity="1">
<polyline points="1073.1,2147.1 1115.4,2120.2 1157.7,2107.0 1200.0,2061.5 1242.3,2010.6 1284.6,1965.6 1326.9,1899.0 1369.2,1881.6" stroke-dasharray="7,4"/>
<polyline points="1073.1,2147.1 1115.4,2115.3 1157.7,2115.3 1200.0,2076.8 1242.3,2035.5 1284.6,2009.0 1326.9,2014.0 1369.2,1937.9" stroke-dasharray="7,4"/>
<polyline points="1073.1,2147.1 1115.4,2130.6 1157.7,2121.9 1200.0,2081.4 1242.3,2073.9 1284.6,2053.6 1326.9,1957.7 1369.2,1869.6" stroke-dasharray="7,4"/>
<polyline points="1073.1,2147.1 1115.4,2135.1 1157.7,2126.0 1200.0,2090.5 1242.3,2088.4 1284.6,2064.8 1326.9,2003.2 1369.2,1975.9" stroke-dasharray="7,4"/>
<polyline points="1073.1,2147.1 1115.4,2139.7 1157.7,2130.6 1200.0,2126.0 1242.3,2109.9 1284.6,2079.7 1326.9,2049.9 1369.2,1932.9" stroke-dasharray="7,4"/>
<polyline points="1073.1,2147.1 1115.4,2139.7 1157.7,2136.8 1200.0,2129.3 1242.3,2114.4 1284.6,2106.2 1326.9,2100.4 1369.2,2095.4" stroke-dasharray="7,4"/>
<polyline points="1073.1,2147.1 1115.4,2145.9 1157.7,2141.3 1200.0,2135.1 1242.3,2121.9 1284.6,2123.1 1326.9,2111.1 1369.2,2050.8" stroke-dasharray="7,4"/>
<polyline points="1073.1,2147.1 1115.4,2145.9 1157.7,2141.3 1200.0,2138.0 1242.3,2126.0 1284.6,2132.2 1326.9,2115.3 1369.2,2076.4" stroke-dasharray="7,4"/>
</g>
<g fill="none" stroke="#111" stroke-width="1.7" opacity="1">
<circle cx="1073.1" cy="2147.1" r="7.6"/>
<circle cx="1115.4" cy="2120.2" r="7.6"/>
<circle cx="1157.7" cy="2107.0" r="7.6"/>
<circle cx="1200.0" cy="2061.5" r="7.6"/>
<circle cx="1242.3" cy="2010.6" r="7.6"/>
<circle cx="1284.6" cy="1965.6" r="7.6"/>
<circle cx="1326.9" cy="1899.0" r="7.6"/>
<circle cx="1369.2" cy="1881.6" r="7.6"/>
<circle cx="1073.1" cy="2147.1" r="7.6"/>
<circle cx="1115.4" cy="2115.3" r="7.6"/>
<circle cx="1157.7" cy="2115.3" r="7.6"/>
<circle cx="1200.0" cy="2076.8" r="7.6"/>
<circle cx="1242.3" cy="2035.5" r="7.6"/>
<circle cx="1284.6" cy="2009.0" r="7.6"/>
<circle cx="1326.9" cy="2014.0" r="7.6"/>
<circle cx="1369.2" cy="1937.9" r="7.6"/>
<circle cx="1073.1" cy="2147.1" r="7.6"/>
<circle cx="1115.4" cy="2130.6" r="7.6"/>
<circle cx="1157.7" cy="2121.9" r="7.6"/>
<circle cx="1200.0" cy="2081.4" r="7.6"/>
<circle cx="1242.3" cy="2073.9" r="7.6"/>
<circle cx="1284.6" cy="2053.6" r="7.6"/>
<circle cx="1326.9" cy="1957.7" r="7.6"/>
<circle cx="1369.2" cy="1869.6" r="7.6"/>
<circle cx="1073.1" cy="2147.1" r="7.6"/>
<circle cx="1115.4" cy="2135.1" r="7.6"/>
<circle cx="1157.7" cy="2126.0" r="7.6"/>
<circle cx="1200.0" cy="2090.5" r="7.6"/>
<circle cx="1242.3" cy="2088.4" r="7.6"/>
<circle cx="1284.6" cy="2064.8" r="7.6"/>
<circle cx="1326.9" cy="2003.2" r="7.6"/>
<circle cx="1369.2" cy="1975.9" r="7.6"/>
<circle cx="1073.1" cy="2147.1" r="7.6"/>
<circle cx="1115.4" cy="2139.7" r="7.6"/>
<circle cx="1157.7" cy="2130.6" r="7.6"/>
<circle cx="1200.0" cy="2126.0" r="7.6"/>
<circle cx="1242.3" cy="2109.9" r="7.6"/>
<circle cx="1284.6" cy="2079.7" r="7.6"/>
<circle cx="1326.9" cy="2049.9" r="7.6"/>
<circle cx="1369.2" cy="1932.9" r="7.6"/>
<circle cx="1073.1" cy="2147.1" r="7.6"/>
<circle cx="1115.4" cy="2139.7" r="7.6"/>
<circle cx="1157.7" cy="2136.8" r="7.6"/>
<circle cx="1200.0" cy="2129.3" r="7.6"/>
<circle cx="1242.3" cy="2114.4" r="7.6"/>
<circle cx="1284.6" cy="2106.2" r="7.6"/>
<circle cx="1326.9" cy="2100.4" r="7.6"/>
<circle cx="1369.2" cy="2095.4" r="7.6"/>
<circle cx="1073.1" cy="2147.1" r="7.6"/>
<circle cx="1115.4" cy="2145.9" r="7.6"/>
<circle cx="1157.7" cy="2141.3" r="7.6"/>
<circle cx="1200.0" cy="2135.1" r="7.6"/>
<circle cx="1242.3" cy="2121.9" r="7.6"/>
<circle cx="1284.6" cy="2123.1" r="7.6"/>
<circle cx="1326.9" cy="2111.1" r="7.6"/>
<circle cx="1369.2" cy="2050.8" r="7.6"/>
<circle cx="1073.1" cy="2147.1" r="7.6"/>
<circle cx="1115.4" cy="2145.9" r="7.6"/>
<circle cx="1157.7" cy="2141.3" r="7.6"/>
<circle cx="1200.0" cy="2138.0" r="7.6"/>
<circle cx="1242.3" cy="2126.0" r="7.6"/>
<circle cx="1284.6" cy="2132.2" r="7.6"/>
<circle cx="1326.9" cy="2115.3" r="7.6"/>
<circle cx="1369.2" cy="2076.4" r="7.6"/>
</g>
<text x="1046.74" y="2155.35" font-size="24.0" font-weight="bold">0</text>
<text x="1020.04" y="2072.65" font-size="24.0" font-weight="bold">200</text>
<text x="1020.04" y="1989.95" font-size="24.0" font-weight="bold">400</text>
<text x="1020.04" y="1907.25" font-size="24.0" font-weight="bold">600</text>
<text x="1020.04" y="1824.55" font-size="24.0" font-weight="bold">800</text>
<text x="1066.44" y="2182.04" font-size="24.0" font-weight="bold">0</text>
<text x="1151.07" y="2182.04" font-size="24.0" font-weight="bold">2</text>
<text x="1235.52" y="2181.80" font-size="24.0" font-weight="bold">4</text>
<text x="1320.21" y="2182.04" font-size="24.0" font-weight="bold">6</text>
<text x="1404.81" y="2182.04" font-size="24.0" font-weight="bold">8</text>
<text x="1158.20" y="1798.34" font-size="23.47" font-weight="bold" fill="#000" >Subcutaneous</text>
<text x="1079.20" y="1831.31" font-size="20.80" font-weight="bold" fill="#000" >LN7 1134 BL</text>
<text x="1079.20" y="1855.21" font-size="20.80" font-weight="bold" fill="#000" >FSP1 KO</text>
<text x="1080.44" y="1878.18" font-size="20.80" font-weight="bold" fill="#000" >Vehicle</text>
<text x="1214.10" y="2211.90" font-size="23.75" font-weight="bold" fill="#000" >Days</text>
<text transform="translate(1009.40,2092.03) rotate(-90)" font-size="23.24" font-weight="bold">Tumor volume (mm<tspan font-size="17.89" dy="-7.20">3</tspan><tspan dy="7.20">)</tspan></text>
<g stroke="#000" stroke-width="3" fill="none" stroke-linecap="square">
<path d="M1596.6,1814.7 V2150.1 H1940.4"/>
</g>
<g stroke="#000" stroke-width="3" fill="none">
<path d="M1586.6,2150.1 H1596.6"/>
<path d="M1586.6,2066.2 H1596.6"/>
<path d="M1586.6,1982.4 H1596.6"/>
<path d="M1586.6,1898.5 H1596.6"/>
<path d="M1586.6,1814.7 H1596.6"/>
<path d="M1596.6,2150.1 V2160.1"/>
<path d="M1682.5,2150.1 V2160.1"/>
<path d="M1768.5,2150.1 V2160.1"/>
<path d="M1854.4,2150.1 V2160.1"/>
<path d="M1940.4,2150.1 V2160.1"/>
</g>
<g fill="none" stroke="#3c8b91" stroke-width="1.75" opacity="1">
<polyline points="1596.6,2150.1 1639.6,2113.6 1682.5,2086.0 1725.5,2052.8 1768.5,2003.8 1811.4,1993.3 1854.4,1870.5 1897.4,1836.1" stroke-dasharray="6,4"/>
<polyline points="1596.6,2150.1 1639.6,2132.1 1682.5,2123.3 1725.5,2106.9 1768.5,2065.0 1811.4,2052.4 1854.4,1989.5 1897.4,1900.6" stroke-dasharray="6,4"/>
<polyline points="1596.6,2150.1 1639.6,2135.0 1682.5,2127.9 1725.5,2111.1 1768.5,2097.7 1811.4,2024.7 1854.4,2041.1 1897.4,2047.0" stroke-dasharray="6,4"/>
<polyline points="1596.6,2150.1 1639.6,2138.4 1682.5,2132.1 1725.5,2114.5 1768.5,2105.2 1811.4,2082.2 1854.4,2066.2 1897.4,1959.8" stroke-dasharray="6,4"/>
<polyline points="1596.6,2150.1 1639.6,2135.0 1682.5,2136.3 1725.5,2124.5 1768.5,2112.8 1811.4,2086.0 1854.4,2034.4 1897.4,2017.6" stroke-dasharray="6,4"/>
</g>
<g fill="none" stroke="#3c8b91" stroke-width="1.7" opacity="1">
<circle cx="1596.6" cy="2150.1" r="7.6"/>
<circle cx="1639.6" cy="2113.6" r="7.6"/>
<circle cx="1682.5" cy="2086.0" r="7.6"/>
<circle cx="1725.5" cy="2052.8" r="7.6"/>
<circle cx="1768.5" cy="2003.8" r="7.6"/>
<circle cx="1811.4" cy="1993.3" r="7.6"/>
<circle cx="1854.4" cy="1870.5" r="7.6"/>
<circle cx="1897.4" cy="1836.1" r="7.6"/>
<circle cx="1596.6" cy="2150.1" r="7.6"/>
<circle cx="1639.6" cy="2132.1" r="7.6"/>
<circle cx="1682.5" cy="2123.3" r="7.6"/>
<circle cx="1725.5" cy="2106.9" r="7.6"/>
<circle cx="1768.5" cy="2065.0" r="7.6"/>
<circle cx="1811.4" cy="2052.4" r="7.6"/>
<circle cx="1854.4" cy="1989.5" r="7.6"/>
<circle cx="1897.4" cy="1900.6" r="7.6"/>
<circle cx="1596.6" cy="2150.1" r="7.6"/>
<circle cx="1639.6" cy="2135.0" r="7.6"/>
<circle cx="1682.5" cy="2127.9" r="7.6"/>
<circle cx="1725.5" cy="2111.1" r="7.6"/>
<circle cx="1768.5" cy="2097.7" r="7.6"/>
<circle cx="1811.4" cy="2024.7" r="7.6"/>
<circle cx="1854.4" cy="2041.1" r="7.6"/>
<circle cx="1897.4" cy="2047.0" r="7.6"/>
<circle cx="1596.6" cy="2150.1" r="7.6"/>
<circle cx="1639.6" cy="2138.4" r="7.6"/>
<circle cx="1682.5" cy="2132.1" r="7.6"/>
<circle cx="1725.5" cy="2114.5" r="7.6"/>
<circle cx="1768.5" cy="2105.2" r="7.6"/>
<circle cx="1811.4" cy="2082.2" r="7.6"/>
<circle cx="1854.4" cy="2066.2" r="7.6"/>
<circle cx="1897.4" cy="1959.8" r="7.6"/>
<circle cx="1596.6" cy="2150.1" r="7.6"/>
<circle cx="1639.6" cy="2135.0" r="7.6"/>
<circle cx="1682.5" cy="2136.3" r="7.6"/>
<circle cx="1725.5" cy="2124.5" r="7.6"/>
<circle cx="1768.5" cy="2112.8" r="7.6"/>
<circle cx="1811.4" cy="2086.0" r="7.6"/>
<circle cx="1854.4" cy="2034.4" r="7.6"/>
<circle cx="1897.4" cy="2017.6" r="7.6"/>
</g>
<text x="1570.24" y="2158.35" font-size="24.0" font-weight="bold">0</text>
<text x="1543.54" y="2074.50" font-size="24.0" font-weight="bold">200</text>
<text x="1543.54" y="1990.65" font-size="24.0" font-weight="bold">400</text>
<text x="1543.54" y="1906.80" font-size="24.0" font-weight="bold">600</text>
<text x="1543.54" y="1822.95" font-size="24.0" font-weight="bold">800</text>
<text x="1589.94" y="2185.04" font-size="24.0" font-weight="bold">0</text>
<text x="1675.91" y="2185.04" font-size="24.0" font-weight="bold">2</text>
<text x="1761.70" y="2184.80" font-size="24.0" font-weight="bold">4</text>
<text x="1847.73" y="2185.04" font-size="24.0" font-weight="bold">6</text>
<text x="1933.67" y="2185.04" font-size="24.0" font-weight="bold">8</text>
<text x="1683.49" y="1796.90" font-size="23.76" font-weight="bold" fill="#000" >Subcutaneous</text>
<text x="1603.16" y="1830.20" font-size="21.37" font-weight="bold" fill="#000" >LN7 1134 BL</text>
<text x="1603.16" y="1853.20" font-size="21.37" font-weight="bold" fill="#000" >FSP1 KO</text>
<text x="1604.49" y="1877.09" font-size="21.37" font-weight="bold" fill="#000" >viFSP1</text>
<text x="1740.58" y="2215.85" font-size="23.96" font-weight="bold" fill="#000" >Days</text>
<text transform="translate(1532.90,2090.53) rotate(-90)" font-size="23.23" font-weight="bold">Tumor volume (mm<tspan font-size="17.89" dy="-7.20">3</tspan><tspan dy="7.20">)</tspan></text>
<text x="-0.22" y="385.80" font-size="28" font-weight="bold">c</text>
<text x="495.28" y="385.30" font-size="28" font-weight="bold">d</text>
<text x="978.28" y="385.30" font-size="28" font-weight="bold">e</text>
<text x="1504.91" y="385.90" font-size="28" font-weight="bold">f</text>
<text x="64.88" y="847.50" font-size="28" font-weight="bold">g</text>
<text x="686.44" y="849.00" font-size="28" font-weight="bold">h</text>
<text x="1277.04" y="850.00" font-size="28" font-weight="bold">i</text>
<text x="3.42" y="1319.50" font-size="28" font-weight="bold">j</text>
<text x="509.54" y="1320.40" font-size="28" font-weight="bold">k</text>
<text x="977.04" y="1319.00" font-size="28" font-weight="bold">l</text>
<text x="1499.68" y="1320.40" font-size="28" font-weight="bold">m</text>
<text x="4.78" y="1791.40" font-size="28" font-weight="bold">n</text>
<text x="521.78" y="1793.00" font-size="28" font-weight="bold">o</text>
<text x="993.58" y="1797.50" font-size="28" font-weight="bold">p</text>
<text x="1519.18" y="1797.50" font-size="28" font-weight="bold">q</text>
<text x="8.08" y="2255.30" font-size="28" font-weight="bold">r</text>
<text x="384.42" y="2257.00" font-size="28" font-weight="bold">s</text>
<text x="903.45" y="2257.50" font-size="28" font-weight="bold">t</text>
<text x="1274.65" y="2257.50" font-size="28" font-weight="bold">u</text>
<text x="2.06" y="25.60" font-size="28" font-weight="bold">a</text>
<text x="980.18" y="26.00" font-size="28" font-weight="bold">b</text>
<defs>
<linearGradient id="shaft" x1="0" y1="0" x2="0" y2="1"><stop offset="0" stop-color="#c93434" stop-opacity="0"/><stop offset="0.45" stop-color="#c93434" stop-opacity="1"/><stop offset="1" stop-color="#c93434"/></linearGradient>
<radialGradient id="blobDark" cx="0.55" cy="0.45" r="0.6"><stop offset="0" stop-color="#5a5243"/><stop offset="0.7" stop-color="#6d6452"/><stop offset="1" stop-color="#857b68"/></radialGradient>
<radialGradient id="blobBlack" cx="0.5" cy="0.45" r="0.6"><stop offset="0" stop-color="#1a1a1a"/><stop offset="0.8" stop-color="#2a2a28"/><stop offset="1" stop-color="#505048"/></radialGradient>
<radialGradient id="blobOrange" cx="0.5" cy="0.45" r="0.6"><stop offset="0" stop-color="#f0c898"/><stop offset="1" stop-color="#e2ae78"/></radialGradient>
<radialGradient id="blobTan" cx="0.5" cy="0.45" r="0.6"><stop offset="0" stop-color="#e6c08a"/><stop offset="1" stop-color="#cfa46c"/></radialGradient>
<radialGradient id="blobYel" cx="0.5" cy="0.5" r="0.6"><stop offset="0" stop-color="#ecd69a"/><stop offset="1" stop-color="#d4b46c"/></radialGradient>
</defs>
<text x="57.43" y="67.01" font-size="18.94" font-weight="bold" fill="#000" >SK-MEL5</text>
<text x="500.71" y="47.78" font-size="19.07" font-weight="bold" fill="#000" >Daily intratumoral treatment with</text>
<text x="406.51" y="70.43" font-size="18.80" font-weight="bold" fill="#000" >vehicle, BSO, icFSP1, viFSP1, combinations or FSEN1</text>
<text x="343.66" y="218.57" font-size="18.61" font-weight="bold" fill="#000" >day 1</text>
<text x="207.39" y="250.59" font-size="19.42" font-weight="bold" fill="#000" >Intranodal</text>
<text x="197.53" y="272.23" font-size="18.80" font-weight="bold" fill="#000" >Implantation</text>
<text x="336.11" y="250.09" font-size="19.00" font-weight="bold" fill="#000" >Tumors</text>
<text x="330.58" y="272.23" font-size="18.80" font-weight="bold" fill="#000" >palpable</text>
<text x="130.16" y="338.67" font-size="19.83" font-weight="bold" fill="#000" >NSG</text>
<text x="693.44" y="218.64" font-size="18.91" font-weight="bold" fill="#000" >day 14</text>
<text x="778.78" y="219.93" font-size="18.80" font-weight="bold" fill="#000" >monitor survival</text>
<text x="655.94" y="252.83" font-size="18.80" font-weight="bold" fill="#000" >Sacrified criteria:</text>
<text x="641.71" y="273.73" font-size="18.80" font-weight="bold" fill="#000" >Tumor size ~  1.5 cm</text>
<text x="652.86" y="296.13" font-size="18.80" font-weight="bold" fill="#000" >(largest diameter)</text>
<rect x="366" y="76.5" width="563.5" height="3" fill="#222"/>
<rect x="369.25" y="93.5" width="2.9" height="30.6" fill="url(#shaft)"/><path d="M362.00,123.1 L379.40,123.1 L370.70,140.6 Z" fill="#c93434"/>
<rect x="392.05" y="93.5" width="2.9" height="30.6" fill="url(#shaft)"/><path d="M384.80,123.1 L402.20,123.1 L393.50,140.6 Z" fill="#c93434"/>
<rect x="418.85" y="93.5" width="2.9" height="30.6" fill="url(#shaft)"/><path d="M411.60,123.1 L429.00,123.1 L420.30,140.6 Z" fill="#c93434"/>
<rect x="444.05" y="93.5" width="2.9" height="30.6" fill="url(#shaft)"/><path d="M436.80,123.1 L454.20,123.1 L445.50,140.6 Z" fill="#c93434"/>
<rect x="472.75" y="93.5" width="2.9" height="30.6" fill="url(#shaft)"/><path d="M465.50,123.1 L482.90,123.1 L474.20,140.6 Z" fill="#c93434"/>
<rect x="500.85" y="93.5" width="2.9" height="30.6" fill="url(#shaft)"/><path d="M493.60,123.1 L511.00,123.1 L502.30,140.6 Z" fill="#c93434"/>
<rect x="529.55" y="93.5" width="2.9" height="30.6" fill="url(#shaft)"/><path d="M522.30,123.1 L539.70,123.1 L531.00,140.6 Z" fill="#c93434"/>
<rect x="557.55" y="93.5" width="2.9" height="30.6" fill="url(#shaft)"/><path d="M550.30,123.1 L567.70,123.1 L559.00,140.6 Z" fill="#c93434"/>
<rect x="581.55" y="93.5" width="2.9" height="30.6" fill="url(#shaft)"/><path d="M574.30,123.1 L591.70,123.1 L583.00,140.6 Z" fill="#c93434"/>
<rect x="608.55" y="93.5" width="2.9" height="30.6" fill="url(#shaft)"/><path d="M601.30,123.1 L618.70,123.1 L610.00,140.6 Z" fill="#c93434"/>
<rect x="634.15" y="93.5" width="2.9" height="30.6" fill="url(#shaft)"/><path d="M626.90,123.1 L644.30,123.1 L635.60,140.6 Z" fill="#c93434"/>
<rect x="662.25" y="93.5" width="2.9" height="30.6" fill="url(#shaft)"/><path d="M655.00,123.1 L672.40,123.1 L663.70,140.6 Z" fill="#c93434"/>
<rect x="690.95" y="93.5" width="2.9" height="30.6" fill="url(#shaft)"/><path d="M683.70,123.1 L701.10,123.1 L692.40,140.6 Z" fill="#c93434"/>
<rect x="719.05" y="93.5" width="2.9" height="30.6" fill="url(#shaft)"/><path d="M711.80,123.1 L729.20,123.1 L720.50,140.6 Z" fill="#c93434"/>
<rect x="741.15" y="93.5" width="2.9" height="30.6" fill="url(#shaft)"/><path d="M733.90,123.1 L751.30,123.1 L742.60,140.6 Z" fill="#c93434"/>
<rect x="766.95" y="93.5" width="2.9" height="30.6" fill="url(#shaft)"/><path d="M759.70,123.1 L777.10,123.1 L768.40,140.6 Z" fill="#c93434"/>
<rect x="793.85" y="93.5" width="2.9" height="30.6" fill="url(#shaft)"/><path d="M786.60,123.1 L804.00,123.1 L795.30,140.6 Z" fill="#c93434"/>
<rect x="820.75" y="93.5" width="2.9" height="30.6" fill="url(#shaft)"/><path d="M813.50,123.1 L830.90,123.1 L822.20,140.6 Z" fill="#c93434"/>
<rect x="848.55" y="93.5" width="2.9" height="30.6" fill="url(#shaft)"/><path d="M841.30,123.1 L858.70,123.1 L850.00,140.6 Z" fill="#c93434"/>
<rect x="878.05" y="93.5" width="2.9" height="30.6" fill="url(#shaft)"/><path d="M870.80,123.1 L888.20,123.1 L879.50,140.6 Z" fill="#c93434"/>
<rect x="906.25" y="93.5" width="2.9" height="30.6" fill="url(#shaft)"/><path d="M899.00,123.1 L916.40,123.1 L907.70,140.6 Z" fill="#c93434"/>
<rect x="219" y="163" width="5" height="20" fill="#222"/>
<rect x="221" y="170" width="499" height="5.5" fill="#222"/>
<rect x="368.5" y="155" width="3.2" height="34" fill="#222"/>
<rect x="724.7" y="170.6" width="3.6" height="3.8" fill="#222"/>
<rect x="732.3" y="170.6" width="3.6" height="3.8" fill="#222"/>
<rect x="739.9" y="170.6" width="3.6" height="3.8" fill="#222"/>
<rect x="747.6" y="170.6" width="3.6" height="3.8" fill="#222"/>
<rect x="755.2" y="170.6" width="3.6" height="3.8" fill="#222"/>
<rect x="762.8" y="170.6" width="3.6" height="3.8" fill="#222"/>
<rect x="770.4" y="170.6" width="3.6" height="3.8" fill="#222"/>
<rect x="778.0" y="170.6" width="3.6" height="3.8" fill="#222"/>
<rect x="785.7" y="170.6" width="3.6" height="3.8" fill="#222"/>
<rect x="793.3" y="170.6" width="3.6" height="3.8" fill="#222"/>
<rect x="800.9" y="170.6" width="3.6" height="3.8" fill="#222"/>
<rect x="808.5" y="170.6" width="3.6" height="3.8" fill="#222"/>
<rect x="816.1" y="170.6" width="3.6" height="3.8" fill="#222"/>
<rect x="823.8" y="170.6" width="3.6" height="3.8" fill="#222"/>
<rect x="831.4" y="170.6" width="3.6" height="3.8" fill="#222"/>
<rect x="839.0" y="170.6" width="3.6" height="3.8" fill="#222"/>
<rect x="846.6" y="170.6" width="3.6" height="3.8" fill="#222"/>
<rect x="854.2" y="170.6" width="3.6" height="3.8" fill="#222"/>
<rect x="861.9" y="170.6" width="3.6" height="3.8" fill="#222"/>
<rect x="869.5" y="170.6" width="3.6" height="3.8" fill="#222"/>
<rect x="877.1" y="170.6" width="3.6" height="3.8" fill="#222"/>
<rect x="884.7" y="170.6" width="3.6" height="3.8" fill="#222"/>
<rect x="892.3" y="170.6" width="3.6" height="3.8" fill="#222"/>
<rect x="900.0" y="170.6" width="3.6" height="3.8" fill="#222"/>
<rect x="907.6" y="170.6" width="3.6" height="3.8" fill="#222"/>
<rect x="915.2" y="170.6" width="3.6" height="3.8" fill="#222"/>
<path d="M919.2,163.8 L936.7,172.3 L919.2,180.7 Z" fill="#222"/>
<ellipse cx="84.6" cy="110.8" rx="31.4" ry="20.3" fill="#f3cfd3" stroke="#e6bcc0" stroke-width="0.8"/>
<ellipse cx="84.6" cy="105.8" rx="30.9" ry="17.3" fill="#e9eef0" stroke="#c9d3d6" stroke-width="0.8"/>
<ellipse cx="84.6" cy="108.8" rx="28.4" ry="14.8" fill="#f6dadd"/>
<ellipse cx="73.1" cy="98.5" rx="2.5" ry="1.0" transform="rotate(-2 73.1 98.5)" fill="#4a4444"/>
<ellipse cx="79.5" cy="97.9" rx="2.5" ry="1.0" transform="rotate(-21 79.5 97.9)" fill="#4a4444"/>
<ellipse cx="85.9" cy="97.8" rx="2.5" ry="1.0" transform="rotate(14 85.9 97.8)" fill="#4a4444"/>
<ellipse cx="90.0" cy="98.1" rx="2.5" ry="1.0" transform="rotate(5 90.0 98.1)" fill="#4a4444"/>
<ellipse cx="95.0" cy="98.3" rx="2.5" ry="1.0" transform="rotate(-2 95.0 98.3)" fill="#4a4444"/>
<ellipse cx="62.1" cy="102.8" rx="2.5" ry="1.0" transform="rotate(-24 62.1 102.8)" fill="#4a4444"/>
<ellipse cx="65.5" cy="102.9" rx="2.5" ry="1.0" transform="rotate(-4 65.5 102.9)" fill="#4a4444"/>
<ellipse cx="71.2" cy="102.2" rx="2.5" ry="1.0" transform="rotate(-7 71.2 102.2)" fill="#4a4444"/>
<ellipse cx="77.0" cy="102.3" rx="2.5" ry="1.0" transform="rotate(24 77.0 102.3)" fill="#4a4444"/>
<ellipse cx="83.3" cy="102.7" rx="2.5" ry="1.0" transform="rotate(29 83.3 102.7)" fill="#4a4444"/>
<ellipse cx="87.5" cy="102.7" rx="2.5" ry="1.0" transform="rotate(28 87.5 102.7)" fill="#4a4444"/>
<ellipse cx="94.3" cy="102.5" rx="2.5" ry="1.0" transform="rotate(-17 94.3 102.5)" fill="#4a4444"/>
<ellipse cx="100.3" cy="101.8" rx="2.5" ry="1.0" transform="rotate(-26 100.3 101.8)" fill="#4a4444"/>
<ellipse cx="64.3" cy="107.2" rx="2.5" ry="1.0" transform="rotate(-27 64.3 107.2)" fill="#4a4444"/>
<ellipse cx="68.4" cy="106.9" rx="2.5" ry="1.0" transform="rotate(-10 68.4 106.9)" fill="#4a4444"/>
<ellipse cx="76.3" cy="106.6" rx="2.5" ry="1.0" transform="rotate(30 76.3 106.6)" fill="#4a4444"/>
<ellipse cx="79.6" cy="106.7" rx="2.5" ry="1.0" transform="rotate(-28 79.6 106.7)" fill="#4a4444"/>
<ellipse cx="85.2" cy="106.8" rx="2.5" ry="1.0" transform="rotate(-21 85.2 106.8)" fill="#4a4444"/>
<ellipse cx="90.8" cy="106.3" rx="2.5" ry="1.0" transform="rotate(28 90.8 106.3)" fill="#4a4444"/>
<ellipse cx="95.8" cy="106.5" rx="2.5" ry="1.0" transform="rotate(1 95.8 106.5)" fill="#4a4444"/>
<ellipse cx="101.9" cy="106.7" rx="2.5" ry="1.0" transform="rotate(7 101.9 106.7)" fill="#4a4444"/>
<ellipse cx="107.8" cy="106.5" rx="2.5" ry="1.0" transform="rotate(13 107.8 106.5)" fill="#4a4444"/>
<ellipse cx="60.8" cy="111.8" rx="2.5" ry="1.0" transform="rotate(1 60.8 111.8)" fill="#4a4444"/>
<ellipse cx="65.7" cy="110.9" rx="2.5" ry="1.0" transform="rotate(5 65.7 110.9)" fill="#4a4444"/>
<ellipse cx="71.5" cy="111.2" rx="2.5" ry="1.0" transform="rotate(-26 71.5 111.2)" fill="#4a4444"/>
<ellipse cx="76.8" cy="111.3" rx="2.5" ry="1.0" transform="rotate(-9 76.8 111.3)" fill="#4a4444"/>
<ellipse cx="83.1" cy="110.3" rx="2.5" ry="1.0" transform="rotate(-26 83.1 110.3)" fill="#4a4444"/>
<ellipse cx="89.3" cy="110.6" rx="2.5" ry="1.0" transform="rotate(-3 89.3 110.6)" fill="#4a4444"/>
<ellipse cx="93.5" cy="110.8" rx="2.5" ry="1.0" transform="rotate(-11 93.5 110.8)" fill="#4a4444"/>
<ellipse cx="99.3" cy="110.7" rx="2.5" ry="1.0" transform="rotate(-7 99.3 110.7)" fill="#4a4444"/>
<ellipse cx="104.0" cy="111.1" rx="2.5" ry="1.0" transform="rotate(14 104.0 111.1)" fill="#4a4444"/>
<ellipse cx="109.4" cy="111.5" rx="2.5" ry="1.0" transform="rotate(-16 109.4 111.5)" fill="#4a4444"/>
<ellipse cx="63.1" cy="115.2" rx="2.5" ry="1.0" transform="rotate(20 63.1 115.2)" fill="#4a4444"/>
<ellipse cx="69.5" cy="114.9" rx="2.5" ry="1.0" transform="rotate(-10 69.5 114.9)" fill="#4a4444"/>
<ellipse cx="75.2" cy="115.4" rx="2.5" ry="1.0" transform="rotate(-16 75.2 115.4)" fill="#4a4444"/>
<ellipse cx="79.3" cy="115.0" rx="2.5" ry="1.0" transform="rotate(18 79.3 115.0)" fill="#4a4444"/>
<ellipse cx="84.5" cy="115.1" rx="2.5" ry="1.0" transform="rotate(18 84.5 115.1)" fill="#4a4444"/>
<ellipse cx="91.4" cy="115.2" rx="2.5" ry="1.0" transform="rotate(-22 91.4 115.2)" fill="#4a4444"/>
<ellipse cx="96.4" cy="115.1" rx="2.5" ry="1.0" transform="rotate(-9 96.4 115.1)" fill="#4a4444"/>
<ellipse cx="100.9" cy="115.3" rx="2.5" ry="1.0" transform="rotate(25 100.9 115.3)" fill="#4a4444"/>
<ellipse cx="105.0" cy="116.2" rx="2.5" ry="1.0" transform="rotate(23 105.0 116.2)" fill="#4a4444"/>
<ellipse cx="73.5" cy="119.9" rx="2.5" ry="1.0" transform="rotate(-13 73.5 119.9)" fill="#4a4444"/>
<ellipse cx="77.8" cy="119.2" rx="2.5" ry="1.0" transform="rotate(5 77.8 119.2)" fill="#4a4444"/>
<ellipse cx="84.0" cy="119.2" rx="2.5" ry="1.0" transform="rotate(24 84.0 119.2)" fill="#4a4444"/>
<ellipse cx="90.0" cy="120.5" rx="2.5" ry="1.0" transform="rotate(24 90.0 120.5)" fill="#4a4444"/>
<ellipse cx="93.7" cy="120.3" rx="2.5" ry="1.0" transform="rotate(-20 93.7 120.3)" fill="#4a4444"/>
<path d="M150.2,234.2 C151.8,257.1 153.5,284.4 157.2,307.2" fill="none" stroke="#e6b4b4" stroke-width="2.18" stroke-linecap="round"/>
<path d="M164.4,227.7 L168.7,232.6 L176.4,236.9 L184.0,241.3 L182.9,243.5 L175.3,242.4 L166.5,238.6 L162.7,233.1 Z" fill="#e6b4b4"/>
<circle cx="164.5" cy="154.9" r="3.4" fill="#e6b4b4"/>
<path d="M162.2,166.6 L166.5,165.0 L173.1,162.3 L178.5,159.5 L181.3,157.9 L182.9,159.5 L181.3,162.3 L175.3,168.8 L168.7,176.4 L164.4,181.9 Z" fill="#ebe9e6" stroke="#cfcbc6" stroke-width="0.6"/>
<circle cx="182.4" cy="158.5" r="2.4" fill="#e6b4b4"/>
<path d="M163.3,222.2 L168.7,224.4 L168.2,233.1 L164.9,234.2 L162.2,229.8 Z" fill="#ebe9e6"/>
<path d="M136.0,227.7 L131.7,232.6 L124.0,236.9 L116.4,241.3 L117.5,243.5 L125.1,242.4 L133.8,238.6 L137.7,233.1 Z" fill="#e6b4b4"/>
<circle cx="135.9" cy="154.9" r="3.4" fill="#e6b4b4"/>
<path d="M138.2,166.6 L133.8,165.0 L127.3,162.3 L121.9,159.5 L119.1,157.9 L117.5,159.5 L119.1,162.3 L125.1,168.8 L131.7,176.4 L136.0,181.9 Z" fill="#ebe9e6" stroke="#cfcbc6" stroke-width="0.6"/>
<circle cx="118.0" cy="158.5" r="2.4" fill="#e6b4b4"/>
<path d="M137.1,222.2 L131.7,224.4 L132.2,233.1 L135.5,234.2 L138.2,229.8 Z" fill="#ebe9e6"/>
<path d="M150.20,137.20 C151.14,137.20 152.09,138.54 153.03,139.60 C153.98,140.65 154.92,142.14 155.87,143.52 C156.81,144.90 157.83,146.43 158.70,147.88 C159.57,149.34 160.46,150.84 161.10,152.24 C161.74,153.64 162.21,154.97 162.52,156.27 C162.83,157.58 162.95,158.82 162.95,160.09 C162.95,161.36 162.28,162.63 162.52,163.91 C162.75,165.18 163.90,165.63 164.37,167.72 C164.84,169.81 164.90,172.99 165.35,176.44 C165.81,179.89 166.44,184.80 167.09,188.43 C167.75,192.06 168.37,195.33 169.27,198.24 C170.18,201.15 171.82,203.51 172.54,205.87 C173.27,208.23 173.45,210.23 173.63,212.41 C173.82,214.59 173.91,216.95 173.63,218.95 C173.36,220.95 172.91,222.58 172.00,224.40 C171.09,226.22 169.82,228.22 168.19,229.85 C166.55,231.48 164.46,233.17 162.19,234.21 C159.92,235.25 156.56,235.70 154.56,236.06 C152.56,236.43 151.65,236.39 150.20,236.39 C148.75,236.39 147.84,236.43 145.84,236.06 C143.84,235.70 140.48,235.25 138.21,234.21 C135.94,233.17 133.85,231.48 132.21,229.85 C130.58,228.22 129.31,226.22 128.40,224.40 C127.49,222.58 127.04,220.95 126.76,218.95 C126.49,216.95 126.58,214.59 126.76,212.41 C126.95,210.23 127.13,208.23 127.85,205.87 C128.58,203.51 130.22,201.15 131.12,198.24 C132.03,195.33 132.65,192.06 133.30,188.43 C133.96,184.80 134.59,179.89 135.05,176.44 C135.50,172.99 135.56,169.81 136.03,167.72 C136.50,165.63 137.65,165.18 137.88,163.91 C138.12,162.63 137.45,161.36 137.45,160.09 C137.45,158.82 137.57,157.58 137.88,156.27 C138.19,154.97 138.66,153.64 139.30,152.24 C139.94,150.84 140.83,149.34 141.70,147.88 C142.57,146.43 143.59,144.90 144.53,143.52 C145.48,142.14 146.42,140.65 147.37,139.60 C148.31,138.54 149.26,137.20 150.20,137.20 Z" fill="#ebe9e6" stroke="#cfcbc6" stroke-width="0.8"/>
<path d="M145.3,160.1 L145.8,175.3 L150.2,185.2 L150.2,207.0 L140.4,220.0 M155.1,160.1 L154.6,175.3 L150.2,185.2 M150.2,207.0 L158.9,220.0 M145.8,173.2 L138.2,169.9 M154.6,173.2 L162.2,169.9 M142.6,171.0 L143.7,177.5 M157.8,171.0 L156.7,177.5" fill="none" stroke="#5cad5c" stroke-width="0.9" stroke-dasharray="2.2,1"/>
<linearGradient id="ag1" gradientUnits="userSpaceOnUse" x1="77.5" y1="141.6" x2="135.9" y2="221"><stop offset="0" stop-color="#c8c8c8"/><stop offset="0.45" stop-color="#444"/><stop offset="1" stop-color="#222"/></linearGradient><path d="M77.5,141.6 C77,185 100,212 129.1,219.3" fill="none" stroke="url(#ag1)" stroke-width="1.3"/><path d="M135.9,221.0 L128.1,223.2 L130.1,215.4 Z" fill="#222"/>
<text x="1086.91" y="79.76" font-size="17.69" font-weight="bold" fill="#000" >LN7 1134BL</text>
<text x="1182.01" y="32.96" font-size="17.69" font-weight="bold" fill="#000" >LN7 1134BL</text>
<text x="1193.89" y="54.01" font-size="17.92" font-weight="bold" fill="#000" >FSP1 KO</text>
<text x="1283.31" y="56.08" font-size="17.60" font-weight="bold" fill="#000" >LN7 1134BL</text>
<text x="1385.90" y="14.12" font-size="17.71" font-weight="bold" fill="#000" >LN7 1134BL</text>
<text x="1397.69" y="34.65" font-size="17.88" font-weight="bold" fill="#000" >FSP1 KO</text>
<text x="1139.70" y="242.09" font-size="19.31" font-weight="bold" fill="#000" >IN</text>
<text x="1096.78" y="262.25" font-size="17.45" font-weight="bold" fill="#000" >implantation</text>
<text x="1269.20" y="306.35" font-size="17.60" font-weight="bold" fill="#000" >C57BL/6J</text>
<text x="1407.98" y="126.65" font-size="17.45" font-weight="bold" fill="#000" >SubQ</text>
<text x="1378.82" y="147.35" font-size="17.45" font-weight="bold" fill="#000" >Implantation</text>
<text x="1449.02" y="240.65" font-size="17.45" font-weight="bold" fill="#000" >Intranodal or</text>
<text x="1443.49" y="262.05" font-size="17.45" font-weight="bold" fill="#000" >subcutaneous</text>
<text x="1450.08" y="283.45" font-size="17.45" font-weight="bold" fill="#000" >implatantion</text>
<text x="1603.80" y="213.95" font-size="17.45" font-weight="bold" fill="#000" >day 1</text>
<text x="1597.23" y="239.00" font-size="17.45" font-weight="bold" fill="#000" >Tumors</text>
<text x="1591.97" y="260.25" font-size="17.45" font-weight="bold" fill="#000" >palpable</text>
<text x="1806.90" y="213.95" font-size="17.45" font-weight="bold" fill="#000" >day 9</text>
<text x="1756.48" y="241.75" font-size="17.45" font-weight="bold" fill="#000" >Sacrified criteria:</text>
<text x="1743.23" y="262.05" font-size="17.45" font-weight="bold" fill="#000" >Tumor size ~  1.5 cm</text>
<text x="1753.23" y="283.45" font-size="17.45" font-weight="bold" fill="#000" >(largest diameter)</text>
<text x="1607.92" y="50.05" font-size="17.45" font-weight="bold" fill="#000" >Daily intratumoral treatment</text>
<text x="1633.34" y="70.35" font-size="17.45" font-weight="bold" fill="#000" >with vehicle or viFSP1</text>
<rect x="1624.4" y="79.7" width="201.6" height="3" fill="#222"/>
<rect x="1627.05" y="95.5" width="2.7" height="27.5" fill="url(#shaft)"/><path d="M1620.20,122.0 L1636.60,122.0 L1628.40,139.0 Z" fill="#c93434"/>
<rect x="1649.45" y="95.5" width="2.7" height="27.5" fill="url(#shaft)"/><path d="M1642.60,122.0 L1659.00,122.0 L1650.80,139.0 Z" fill="#c93434"/>
<rect x="1672.95" y="95.5" width="2.7" height="27.5" fill="url(#shaft)"/><path d="M1666.10,122.0 L1682.50,122.0 L1674.30,139.0 Z" fill="#c93434"/>
<rect x="1698.25" y="95.5" width="2.7" height="27.5" fill="url(#shaft)"/><path d="M1691.40,122.0 L1707.80,122.0 L1699.60,139.0 Z" fill="#c93434"/>
<rect x="1724.25" y="95.5" width="2.7" height="27.5" fill="url(#shaft)"/><path d="M1717.40,122.0 L1733.80,122.0 L1725.60,139.0 Z" fill="#c93434"/>
<rect x="1750.25" y="95.5" width="2.7" height="27.5" fill="url(#shaft)"/><path d="M1743.40,122.0 L1759.80,122.0 L1751.60,139.0 Z" fill="#c93434"/>
<rect x="1775.95" y="95.5" width="2.7" height="27.5" fill="url(#shaft)"/><path d="M1769.10,122.0 L1785.50,122.0 L1777.30,139.0 Z" fill="#c93434"/>
<rect x="1801.95" y="95.5" width="2.7" height="27.5" fill="url(#shaft)"/><path d="M1795.10,122.0 L1811.50,122.0 L1803.30,139.0 Z" fill="#c93434"/>
<rect x="1824.75" y="95.5" width="2.7" height="27.5" fill="url(#shaft)"/><path d="M1817.90,122.0 L1834.30,122.0 L1826.10,139.0 Z" fill="#c93434"/>
<rect x="1488.7" y="159.6" width="4.3" height="20.4" fill="#222"/>
<rect x="1491" y="167" width="339" height="4.5" fill="#222"/>
<rect x="1626.2" y="152.5" width="3" height="31.5" fill="#222"/>
<rect x="1828.2" y="155" width="3" height="26" fill="#222"/>
<ellipse cx="1173" cy="112" rx="29" ry="18.5" fill="#f3cfd3" stroke="#e6bcc0" stroke-width="0.8"/>
<ellipse cx="1173" cy="107" rx="28.5" ry="15.5" fill="#e9eef0" stroke="#c9d3d6" stroke-width="0.8"/>
<ellipse cx="1173" cy="110" rx="26" ry="13.0" fill="#f6dadd"/>
<ellipse cx="1160.5" cy="100.4" rx="2.5" ry="1.0" transform="rotate(27 1160.5 100.4)" fill="#4a4444"/>
<ellipse cx="1167.9" cy="99.8" rx="2.5" ry="1.0" transform="rotate(-2 1167.9 99.8)" fill="#4a4444"/>
<ellipse cx="1172.2" cy="100.5" rx="2.5" ry="1.0" transform="rotate(-29 1172.2 100.5)" fill="#4a4444"/>
<ellipse cx="1176.6" cy="101.1" rx="2.5" ry="1.0" transform="rotate(16 1176.6 101.1)" fill="#4a4444"/>
<ellipse cx="1182.5" cy="99.8" rx="2.5" ry="1.0" transform="rotate(7 1182.5 99.8)" fill="#4a4444"/>
<ellipse cx="1185.7" cy="101.0" rx="2.5" ry="1.0" transform="rotate(-17 1185.7 101.0)" fill="#4a4444"/>
<ellipse cx="1152.9" cy="104.3" rx="2.5" ry="1.0" transform="rotate(11 1152.9 104.3)" fill="#4a4444"/>
<ellipse cx="1157.8" cy="104.6" rx="2.5" ry="1.0" transform="rotate(28 1157.8 104.6)" fill="#4a4444"/>
<ellipse cx="1162.6" cy="104.0" rx="2.5" ry="1.0" transform="rotate(-20 1162.6 104.0)" fill="#4a4444"/>
<ellipse cx="1166.9" cy="103.9" rx="2.5" ry="1.0" transform="rotate(6 1166.9 103.9)" fill="#4a4444"/>
<ellipse cx="1172.8" cy="104.0" rx="2.5" ry="1.0" transform="rotate(-11 1172.8 104.0)" fill="#4a4444"/>
<ellipse cx="1178.3" cy="104.0" rx="2.5" ry="1.0" transform="rotate(-1 1178.3 104.0)" fill="#4a4444"/>
<ellipse cx="1183.1" cy="105.0" rx="2.5" ry="1.0" transform="rotate(-29 1183.1 105.0)" fill="#4a4444"/>
<ellipse cx="1190.5" cy="103.5" rx="2.5" ry="1.0" transform="rotate(17 1190.5 103.5)" fill="#4a4444"/>
<ellipse cx="1154.9" cy="108.8" rx="2.5" ry="1.0" transform="rotate(27 1154.9 108.8)" fill="#4a4444"/>
<ellipse cx="1159.3" cy="108.1" rx="2.5" ry="1.0" transform="rotate(17 1159.3 108.1)" fill="#4a4444"/>
<ellipse cx="1164.8" cy="108.6" rx="2.5" ry="1.0" transform="rotate(22 1164.8 108.6)" fill="#4a4444"/>
<ellipse cx="1169.9" cy="107.4" rx="2.5" ry="1.0" transform="rotate(-10 1169.9 107.4)" fill="#4a4444"/>
<ellipse cx="1175.4" cy="107.8" rx="2.5" ry="1.0" transform="rotate(25 1175.4 107.8)" fill="#4a4444"/>
<ellipse cx="1179.7" cy="107.8" rx="2.5" ry="1.0" transform="rotate(-19 1179.7 107.8)" fill="#4a4444"/>
<ellipse cx="1184.1" cy="108.4" rx="2.5" ry="1.0" transform="rotate(30 1184.1 108.4)" fill="#4a4444"/>
<ellipse cx="1188.7" cy="108.9" rx="2.5" ry="1.0" transform="rotate(2 1188.7 108.9)" fill="#4a4444"/>
<ellipse cx="1194.4" cy="108.2" rx="2.5" ry="1.0" transform="rotate(20 1194.4 108.2)" fill="#4a4444"/>
<ellipse cx="1151.8" cy="111.2" rx="2.5" ry="1.0" transform="rotate(25 1151.8 111.2)" fill="#4a4444"/>
<ellipse cx="1156.6" cy="112.5" rx="2.5" ry="1.0" transform="rotate(-22 1156.6 112.5)" fill="#4a4444"/>
<ellipse cx="1163.3" cy="112.1" rx="2.5" ry="1.0" transform="rotate(17 1163.3 112.1)" fill="#4a4444"/>
<ellipse cx="1167.1" cy="111.4" rx="2.5" ry="1.0" transform="rotate(21 1167.1 111.4)" fill="#4a4444"/>
<ellipse cx="1172.2" cy="112.7" rx="2.5" ry="1.0" transform="rotate(21 1172.2 112.7)" fill="#4a4444"/>
<ellipse cx="1178.3" cy="111.9" rx="2.5" ry="1.0" transform="rotate(14 1178.3 111.9)" fill="#4a4444"/>
<ellipse cx="1183.4" cy="111.8" rx="2.5" ry="1.0" transform="rotate(-21 1183.4 111.8)" fill="#4a4444"/>
<ellipse cx="1190.0" cy="112.7" rx="2.5" ry="1.0" transform="rotate(8 1190.0 112.7)" fill="#4a4444"/>
<ellipse cx="1194.1" cy="111.3" rx="2.5" ry="1.0" transform="rotate(-14 1194.1 111.3)" fill="#4a4444"/>
<ellipse cx="1155.9" cy="116.1" rx="2.5" ry="1.0" transform="rotate(10 1155.9 116.1)" fill="#4a4444"/>
<ellipse cx="1160.9" cy="116.1" rx="2.5" ry="1.0" transform="rotate(-13 1160.9 116.1)" fill="#4a4444"/>
<ellipse cx="1167.1" cy="116.1" rx="2.5" ry="1.0" transform="rotate(-12 1167.1 116.1)" fill="#4a4444"/>
<ellipse cx="1173.0" cy="115.9" rx="2.5" ry="1.0" transform="rotate(-29 1173.0 115.9)" fill="#4a4444"/>
<ellipse cx="1177.6" cy="116.0" rx="2.5" ry="1.0" transform="rotate(-2 1177.6 116.0)" fill="#4a4444"/>
<ellipse cx="1184.3" cy="116.2" rx="2.5" ry="1.0" transform="rotate(-9 1184.3 116.2)" fill="#4a4444"/>
<ellipse cx="1190.2" cy="116.3" rx="2.5" ry="1.0" transform="rotate(-9 1190.2 116.3)" fill="#4a4444"/>
<ellipse cx="1163.5" cy="119.9" rx="2.5" ry="1.0" transform="rotate(13 1163.5 119.9)" fill="#4a4444"/>
<ellipse cx="1168.7" cy="120.0" rx="2.5" ry="1.0" transform="rotate(5 1168.7 120.0)" fill="#4a4444"/>
<ellipse cx="1174.8" cy="119.8" rx="2.5" ry="1.0" transform="rotate(16 1174.8 119.8)" fill="#4a4444"/>
<ellipse cx="1181.0" cy="118.8" rx="2.5" ry="1.0" transform="rotate(-20 1181.0 118.8)" fill="#4a4444"/>
<ellipse cx="1186.2" cy="119.1" rx="2.5" ry="1.0" transform="rotate(11 1186.2 119.1)" fill="#4a4444"/>
<ellipse cx="1238" cy="89" rx="29" ry="18.5" fill="#f3cfd3" stroke="#e6bcc0" stroke-width="0.8"/>
<ellipse cx="1238" cy="84" rx="28.5" ry="15.5" fill="#e9eef0" stroke="#c9d3d6" stroke-width="0.8"/>
<ellipse cx="1238" cy="87" rx="26" ry="13.0" fill="#f6dadd"/>
<ellipse cx="1225.5" cy="77.8" rx="2.5" ry="1.0" transform="rotate(-8 1225.5 77.8)" fill="#5b8fd6"/>
<ellipse cx="1230.9" cy="77.9" rx="2.5" ry="1.0" transform="rotate(14 1230.9 77.9)" fill="#5b8fd6"/>
<ellipse cx="1236.7" cy="77.7" rx="2.5" ry="1.0" transform="rotate(-18 1236.7 77.7)" fill="#5b8fd6"/>
<ellipse cx="1242.7" cy="77.0" rx="2.5" ry="1.0" transform="rotate(18 1242.7 77.0)" fill="#5b8fd6"/>
<ellipse cx="1248.5" cy="77.2" rx="2.5" ry="1.0" transform="rotate(-24 1248.5 77.2)" fill="#5b8fd6"/>
<ellipse cx="1217.9" cy="81.4" rx="2.5" ry="1.0" transform="rotate(-18 1217.9 81.4)" fill="#5b8fd6"/>
<ellipse cx="1222.4" cy="81.9" rx="2.5" ry="1.0" transform="rotate(25 1222.4 81.9)" fill="#5b8fd6"/>
<ellipse cx="1228.4" cy="81.6" rx="2.5" ry="1.0" transform="rotate(18 1228.4 81.6)" fill="#5b8fd6"/>
<ellipse cx="1233.3" cy="81.0" rx="2.5" ry="1.0" transform="rotate(6 1233.3 81.0)" fill="#5b8fd6"/>
<ellipse cx="1239.5" cy="80.6" rx="2.5" ry="1.0" transform="rotate(23 1239.5 80.6)" fill="#5b8fd6"/>
<ellipse cx="1244.0" cy="81.5" rx="2.5" ry="1.0" transform="rotate(-11 1244.0 81.5)" fill="#5b8fd6"/>
<ellipse cx="1249.6" cy="80.7" rx="2.5" ry="1.0" transform="rotate(-17 1249.6 80.7)" fill="#5b8fd6"/>
<ellipse cx="1256.1" cy="80.5" rx="2.5" ry="1.0" transform="rotate(17 1256.1 80.5)" fill="#5b8fd6"/>
<ellipse cx="1219.0" cy="85.9" rx="2.5" ry="1.0" transform="rotate(-27 1219.0 85.9)" fill="#5b8fd6"/>
<ellipse cx="1225.5" cy="84.9" rx="2.5" ry="1.0" transform="rotate(29 1225.5 84.9)" fill="#5b8fd6"/>
<ellipse cx="1231.0" cy="85.7" rx="2.5" ry="1.0" transform="rotate(10 1231.0 85.7)" fill="#5b8fd6"/>
<ellipse cx="1235.9" cy="85.6" rx="2.5" ry="1.0" transform="rotate(18 1235.9 85.6)" fill="#5b8fd6"/>
<ellipse cx="1241.4" cy="85.4" rx="2.5" ry="1.0" transform="rotate(-5 1241.4 85.4)" fill="#5b8fd6"/>
<ellipse cx="1246.7" cy="84.7" rx="2.5" ry="1.0" transform="rotate(-1 1246.7 84.7)" fill="#5b8fd6"/>
<ellipse cx="1251.4" cy="84.3" rx="2.5" ry="1.0" transform="rotate(-23 1251.4 84.3)" fill="#5b8fd6"/>
<ellipse cx="1257.3" cy="84.7" rx="2.5" ry="1.0" transform="rotate(-3 1257.3 84.7)" fill="#5b8fd6"/>
<ellipse cx="1216.5" cy="88.8" rx="2.5" ry="1.0" transform="rotate(23 1216.5 88.8)" fill="#5b8fd6"/>
<ellipse cx="1222.1" cy="88.9" rx="2.5" ry="1.0" transform="rotate(-1 1222.1 88.9)" fill="#5b8fd6"/>
<ellipse cx="1227.2" cy="88.6" rx="2.5" ry="1.0" transform="rotate(18 1227.2 88.6)" fill="#5b8fd6"/>
<ellipse cx="1232.8" cy="89.7" rx="2.5" ry="1.0" transform="rotate(25 1232.8 89.7)" fill="#5b8fd6"/>
<ellipse cx="1237.9" cy="88.6" rx="2.5" ry="1.0" transform="rotate(-6 1237.9 88.6)" fill="#5b8fd6"/>
<ellipse cx="1243.7" cy="89.6" rx="2.5" ry="1.0" transform="rotate(-13 1243.7 89.6)" fill="#5b8fd6"/>
<ellipse cx="1247.6" cy="88.2" rx="2.5" ry="1.0" transform="rotate(-28 1247.6 88.2)" fill="#5b8fd6"/>
<ellipse cx="1252.8" cy="89.3" rx="2.5" ry="1.0" transform="rotate(-8 1252.8 89.3)" fill="#5b8fd6"/>
<ellipse cx="1260.4" cy="88.2" rx="2.5" ry="1.0" transform="rotate(-18 1260.4 88.2)" fill="#5b8fd6"/>
<ellipse cx="1221.0" cy="92.7" rx="2.5" ry="1.0" transform="rotate(-2 1221.0 92.7)" fill="#5b8fd6"/>
<ellipse cx="1224.8" cy="92.2" rx="2.5" ry="1.0" transform="rotate(8 1224.8 92.2)" fill="#5b8fd6"/>
<ellipse cx="1230.0" cy="93.0" rx="2.5" ry="1.0" transform="rotate(-24 1230.0 93.0)" fill="#5b8fd6"/>
<ellipse cx="1235.7" cy="92.7" rx="2.5" ry="1.0" transform="rotate(24 1235.7 92.7)" fill="#5b8fd6"/>
<ellipse cx="1241.5" cy="92.2" rx="2.5" ry="1.0" transform="rotate(20 1241.5 92.2)" fill="#5b8fd6"/>
<ellipse cx="1246.0" cy="93.4" rx="2.5" ry="1.0" transform="rotate(24 1246.0 93.4)" fill="#5b8fd6"/>
<ellipse cx="1251.7" cy="93.1" rx="2.5" ry="1.0" transform="rotate(17 1251.7 93.1)" fill="#5b8fd6"/>
<ellipse cx="1228.9" cy="96.2" rx="2.5" ry="1.0" transform="rotate(26 1228.9 96.2)" fill="#5b8fd6"/>
<ellipse cx="1233.4" cy="96.2" rx="2.5" ry="1.0" transform="rotate(28 1233.4 96.2)" fill="#5b8fd6"/>
<ellipse cx="1238.8" cy="95.8" rx="2.5" ry="1.0" transform="rotate(-25 1238.8 95.8)" fill="#5b8fd6"/>
<ellipse cx="1244.1" cy="96.6" rx="2.5" ry="1.0" transform="rotate(-28 1244.1 96.6)" fill="#5b8fd6"/>
<ellipse cx="1248.5" cy="95.9" rx="2.5" ry="1.0" transform="rotate(30 1248.5 95.9)" fill="#5b8fd6"/>
<ellipse cx="1347" cy="87" rx="29.3" ry="19" fill="#f3cfd3" stroke="#e6bcc0" stroke-width="0.8"/>
<ellipse cx="1347" cy="82" rx="28.8" ry="16" fill="#e9eef0" stroke="#c9d3d6" stroke-width="0.8"/>
<ellipse cx="1347" cy="85" rx="26.3" ry="13.5" fill="#f6dadd"/>
<ellipse cx="1338.6" cy="74.3" rx="2.5" ry="1.0" transform="rotate(-25 1338.6 74.3)" fill="#4a4444"/>
<ellipse cx="1344.6" cy="74.4" rx="2.5" ry="1.0" transform="rotate(-17 1344.6 74.4)" fill="#4a4444"/>
<ellipse cx="1350.5" cy="75.1" rx="2.5" ry="1.0" transform="rotate(-6 1350.5 75.1)" fill="#4a4444"/>
<ellipse cx="1354.8" cy="75.6" rx="2.5" ry="1.0" transform="rotate(-13 1354.8 75.6)" fill="#4a4444"/>
<ellipse cx="1329.5" cy="78.5" rx="2.5" ry="1.0" transform="rotate(11 1329.5 78.5)" fill="#4a4444"/>
<ellipse cx="1335.3" cy="79.1" rx="2.5" ry="1.0" transform="rotate(-3 1335.3 79.1)" fill="#4a4444"/>
<ellipse cx="1341.4" cy="79.3" rx="2.5" ry="1.0" transform="rotate(-15 1341.4 79.3)" fill="#4a4444"/>
<ellipse cx="1346.3" cy="79.6" rx="2.5" ry="1.0" transform="rotate(14 1346.3 79.6)" fill="#4a4444"/>
<ellipse cx="1352.3" cy="78.4" rx="2.5" ry="1.0" transform="rotate(-5 1352.3 78.4)" fill="#4a4444"/>
<ellipse cx="1356.5" cy="79.0" rx="2.5" ry="1.0" transform="rotate(-28 1356.5 79.0)" fill="#4a4444"/>
<ellipse cx="1363.4" cy="79.1" rx="2.5" ry="1.0" transform="rotate(23 1363.4 79.1)" fill="#4a4444"/>
<ellipse cx="1329.3" cy="83.3" rx="2.5" ry="1.0" transform="rotate(-26 1329.3 83.3)" fill="#4a4444"/>
<ellipse cx="1335.3" cy="83.8" rx="2.5" ry="1.0" transform="rotate(19 1335.3 83.8)" fill="#4a4444"/>
<ellipse cx="1339.9" cy="83.3" rx="2.5" ry="1.0" transform="rotate(-29 1339.9 83.3)" fill="#4a4444"/>
<ellipse cx="1344.8" cy="82.4" rx="2.5" ry="1.0" transform="rotate(-26 1344.8 82.4)" fill="#4a4444"/>
<ellipse cx="1350.5" cy="82.6" rx="2.5" ry="1.0" transform="rotate(-7 1350.5 82.6)" fill="#4a4444"/>
<ellipse cx="1356.4" cy="82.9" rx="2.5" ry="1.0" transform="rotate(3 1356.4 82.9)" fill="#4a4444"/>
<ellipse cx="1363.9" cy="83.6" rx="2.5" ry="1.0" transform="rotate(-13 1363.9 83.6)" fill="#4a4444"/>
<ellipse cx="1368.2" cy="83.6" rx="2.5" ry="1.0" transform="rotate(27 1368.2 83.6)" fill="#4a4444"/>
<ellipse cx="1325.1" cy="86.6" rx="2.5" ry="1.0" transform="rotate(-16 1325.1 86.6)" fill="#4a4444"/>
<ellipse cx="1331.3" cy="86.6" rx="2.5" ry="1.0" transform="rotate(-30 1331.3 86.6)" fill="#4a4444"/>
<ellipse cx="1336.1" cy="87.1" rx="2.5" ry="1.0" transform="rotate(27 1336.1 87.1)" fill="#4a4444"/>
<ellipse cx="1342.1" cy="87.2" rx="2.5" ry="1.0" transform="rotate(11 1342.1 87.2)" fill="#4a4444"/>
<ellipse cx="1347.5" cy="87.4" rx="2.5" ry="1.0" transform="rotate(22 1347.5 87.4)" fill="#4a4444"/>
<ellipse cx="1352.4" cy="86.8" rx="2.5" ry="1.0" transform="rotate(-24 1352.4 86.8)" fill="#4a4444"/>
<ellipse cx="1357.4" cy="86.3" rx="2.5" ry="1.0" transform="rotate(-17 1357.4 86.3)" fill="#4a4444"/>
<ellipse cx="1362.8" cy="86.3" rx="2.5" ry="1.0" transform="rotate(-30 1362.8 86.3)" fill="#4a4444"/>
<ellipse cx="1367.1" cy="86.8" rx="2.5" ry="1.0" transform="rotate(-28 1367.1 86.8)" fill="#4a4444"/>
<ellipse cx="1327.9" cy="90.8" rx="2.5" ry="1.0" transform="rotate(-23 1327.9 90.8)" fill="#4a4444"/>
<ellipse cx="1335.1" cy="90.9" rx="2.5" ry="1.0" transform="rotate(-1 1335.1 90.9)" fill="#4a4444"/>
<ellipse cx="1338.1" cy="90.7" rx="2.5" ry="1.0" transform="rotate(-14 1338.1 90.7)" fill="#4a4444"/>
<ellipse cx="1344.1" cy="90.2" rx="2.5" ry="1.0" transform="rotate(27 1344.1 90.2)" fill="#4a4444"/>
<ellipse cx="1349.6" cy="91.1" rx="2.5" ry="1.0" transform="rotate(-28 1349.6 91.1)" fill="#4a4444"/>
<ellipse cx="1356.7" cy="91.6" rx="2.5" ry="1.0" transform="rotate(12 1356.7 91.6)" fill="#4a4444"/>
<ellipse cx="1360.5" cy="90.5" rx="2.5" ry="1.0" transform="rotate(16 1360.5 90.5)" fill="#4a4444"/>
<ellipse cx="1366.7" cy="90.7" rx="2.5" ry="1.0" transform="rotate(-17 1366.7 90.7)" fill="#4a4444"/>
<ellipse cx="1336.6" cy="94.8" rx="2.5" ry="1.0" transform="rotate(-28 1336.6 94.8)" fill="#4a4444"/>
<ellipse cx="1340.8" cy="94.6" rx="2.5" ry="1.0" transform="rotate(12 1340.8 94.6)" fill="#4a4444"/>
<ellipse cx="1347.2" cy="95.7" rx="2.5" ry="1.0" transform="rotate(29 1347.2 95.7)" fill="#4a4444"/>
<ellipse cx="1353.2" cy="94.6" rx="2.5" ry="1.0" transform="rotate(-16 1353.2 94.6)" fill="#4a4444"/>
<ellipse cx="1357.8" cy="95.2" rx="2.5" ry="1.0" transform="rotate(24 1357.8 95.2)" fill="#4a4444"/>
<ellipse cx="1417.5" cy="63" rx="29.3" ry="19" fill="#f3cfd3" stroke="#e6bcc0" stroke-width="0.8"/>
<ellipse cx="1417.5" cy="58" rx="28.8" ry="16" fill="#e9eef0" stroke="#c9d3d6" stroke-width="0.8"/>
<ellipse cx="1417.5" cy="61" rx="26.3" ry="13.5" fill="#f6dadd"/>
<ellipse cx="1409.0" cy="50.9" rx="2.5" ry="1.0" transform="rotate(-0 1409.0 50.9)" fill="#5b8fd6"/>
<ellipse cx="1414.7" cy="50.3" rx="2.5" ry="1.0" transform="rotate(-16 1414.7 50.3)" fill="#5b8fd6"/>
<ellipse cx="1418.2" cy="50.9" rx="2.5" ry="1.0" transform="rotate(24 1418.2 50.9)" fill="#5b8fd6"/>
<ellipse cx="1423.1" cy="50.6" rx="2.5" ry="1.0" transform="rotate(29 1423.1 50.6)" fill="#5b8fd6"/>
<ellipse cx="1428.8" cy="50.8" rx="2.5" ry="1.0" transform="rotate(10 1428.8 50.8)" fill="#5b8fd6"/>
<ellipse cx="1401.0" cy="55.7" rx="2.5" ry="1.0" transform="rotate(5 1401.0 55.7)" fill="#5b8fd6"/>
<ellipse cx="1408.1" cy="54.7" rx="2.5" ry="1.0" transform="rotate(-9 1408.1 54.7)" fill="#5b8fd6"/>
<ellipse cx="1412.6" cy="55.4" rx="2.5" ry="1.0" transform="rotate(-24 1412.6 55.4)" fill="#5b8fd6"/>
<ellipse cx="1419.5" cy="55.7" rx="2.5" ry="1.0" transform="rotate(21 1419.5 55.7)" fill="#5b8fd6"/>
<ellipse cx="1423.9" cy="54.4" rx="2.5" ry="1.0" transform="rotate(2 1423.9 54.4)" fill="#5b8fd6"/>
<ellipse cx="1429.0" cy="55.6" rx="2.5" ry="1.0" transform="rotate(0 1429.0 55.6)" fill="#5b8fd6"/>
<ellipse cx="1435.0" cy="54.6" rx="2.5" ry="1.0" transform="rotate(-29 1435.0 54.6)" fill="#5b8fd6"/>
<ellipse cx="1394.4" cy="59.6" rx="2.5" ry="1.0" transform="rotate(-19 1394.4 59.6)" fill="#5b8fd6"/>
<ellipse cx="1398.3" cy="59.3" rx="2.5" ry="1.0" transform="rotate(28 1398.3 59.3)" fill="#5b8fd6"/>
<ellipse cx="1404.4" cy="58.7" rx="2.5" ry="1.0" transform="rotate(-29 1404.4 58.7)" fill="#5b8fd6"/>
<ellipse cx="1409.4" cy="58.5" rx="2.5" ry="1.0" transform="rotate(-4 1409.4 58.5)" fill="#5b8fd6"/>
<ellipse cx="1414.5" cy="58.9" rx="2.5" ry="1.0" transform="rotate(-5 1414.5 58.9)" fill="#5b8fd6"/>
<ellipse cx="1419.8" cy="58.4" rx="2.5" ry="1.0" transform="rotate(-25 1419.8 58.4)" fill="#5b8fd6"/>
<ellipse cx="1425.0" cy="58.8" rx="2.5" ry="1.0" transform="rotate(18 1425.0 58.8)" fill="#5b8fd6"/>
<ellipse cx="1430.8" cy="59.8" rx="2.5" ry="1.0" transform="rotate(-26 1430.8 59.8)" fill="#5b8fd6"/>
<ellipse cx="1434.3" cy="58.8" rx="2.5" ry="1.0" transform="rotate(4 1434.3 58.8)" fill="#5b8fd6"/>
<ellipse cx="1440.5" cy="59.7" rx="2.5" ry="1.0" transform="rotate(-30 1440.5 59.7)" fill="#5b8fd6"/>
<ellipse cx="1395.6" cy="63.6" rx="2.5" ry="1.0" transform="rotate(-28 1395.6 63.6)" fill="#5b8fd6"/>
<ellipse cx="1402.9" cy="63.8" rx="2.5" ry="1.0" transform="rotate(5 1402.9 63.8)" fill="#5b8fd6"/>
<ellipse cx="1408.2" cy="62.9" rx="2.5" ry="1.0" transform="rotate(-25 1408.2 62.9)" fill="#5b8fd6"/>
<ellipse cx="1412.8" cy="63.0" rx="2.5" ry="1.0" transform="rotate(-21 1412.8 63.0)" fill="#5b8fd6"/>
<ellipse cx="1417.8" cy="62.9" rx="2.5" ry="1.0" transform="rotate(-22 1417.8 62.9)" fill="#5b8fd6"/>
<ellipse cx="1423.3" cy="63.3" rx="2.5" ry="1.0" transform="rotate(-2 1423.3 63.3)" fill="#5b8fd6"/>
<ellipse cx="1427.8" cy="62.6" rx="2.5" ry="1.0" transform="rotate(-18 1427.8 62.6)" fill="#5b8fd6"/>
<ellipse cx="1432.7" cy="63.4" rx="2.5" ry="1.0" transform="rotate(12 1432.7 63.4)" fill="#5b8fd6"/>
<ellipse cx="1438.1" cy="62.8" rx="2.5" ry="1.0" transform="rotate(-4 1438.1 62.8)" fill="#5b8fd6"/>
<ellipse cx="1399.5" cy="66.5" rx="2.5" ry="1.0" transform="rotate(-16 1399.5 66.5)" fill="#5b8fd6"/>
<ellipse cx="1405.0" cy="67.2" rx="2.5" ry="1.0" transform="rotate(-30 1405.0 67.2)" fill="#5b8fd6"/>
<ellipse cx="1410.9" cy="67.4" rx="2.5" ry="1.0" transform="rotate(26 1410.9 67.4)" fill="#5b8fd6"/>
<ellipse cx="1415.7" cy="66.7" rx="2.5" ry="1.0" transform="rotate(3 1415.7 66.7)" fill="#5b8fd6"/>
<ellipse cx="1422.2" cy="67.7" rx="2.5" ry="1.0" transform="rotate(21 1422.2 67.7)" fill="#5b8fd6"/>
<ellipse cx="1428.1" cy="67.7" rx="2.5" ry="1.0" transform="rotate(17 1428.1 67.7)" fill="#5b8fd6"/>
<ellipse cx="1433.7" cy="66.5" rx="2.5" ry="1.0" transform="rotate(-8 1433.7 66.5)" fill="#5b8fd6"/>
<ellipse cx="1408.0" cy="70.8" rx="2.5" ry="1.0" transform="rotate(-4 1408.0 70.8)" fill="#5b8fd6"/>
<ellipse cx="1413.3" cy="71.5" rx="2.5" ry="1.0" transform="rotate(-14 1413.3 71.5)" fill="#5b8fd6"/>
<ellipse cx="1418.4" cy="70.6" rx="2.5" ry="1.0" transform="rotate(-5 1418.4 70.6)" fill="#5b8fd6"/>
<ellipse cx="1423.3" cy="70.6" rx="2.5" ry="1.0" transform="rotate(-13 1423.3 70.6)" fill="#5b8fd6"/>
<ellipse cx="1428.6" cy="70.6" rx="2.5" ry="1.0" transform="rotate(23 1428.6 70.6)" fill="#5b8fd6"/>
<path d="M1234.4,225.3 C1235.9,246.3 1237.4,271.3 1240.8,292.3" fill="none" stroke="#d9a8a6" stroke-width="2.00" stroke-linecap="round"/>
<path d="M1247.4,219.3 L1251.4,223.8 L1258.4,227.8 L1265.4,231.8 L1264.4,233.8 L1257.4,232.8 L1249.4,229.3 L1245.9,224.3 Z" fill="#d9a8a6"/>
<circle cx="1247.5" cy="152.5" r="3.1" fill="#d9a8a6"/>
<path d="M1245.4,163.3 L1249.4,161.8 L1255.4,159.3 L1260.4,156.8 L1262.9,155.3 L1264.4,156.8 L1262.9,159.3 L1257.4,165.3 L1251.4,172.3 L1247.4,177.3 Z" fill="#646160" stroke="#555251" stroke-width="0.6"/>
<circle cx="1263.9" cy="155.8" r="2.2" fill="#d9a8a6"/>
<path d="M1246.4,214.3 L1251.4,216.3 L1250.9,224.3 L1247.9,225.3 L1245.4,221.3 Z" fill="#646160"/>
<path d="M1221.4,219.3 L1217.4,223.8 L1210.4,227.8 L1203.4,231.8 L1204.4,233.8 L1211.4,232.8 L1219.4,229.3 L1222.9,224.3 Z" fill="#d9a8a6"/>
<circle cx="1221.3" cy="152.5" r="3.1" fill="#d9a8a6"/>
<path d="M1223.4,163.3 L1219.4,161.8 L1213.4,159.3 L1208.4,156.8 L1205.9,155.3 L1204.4,156.8 L1205.9,159.3 L1211.4,165.3 L1217.4,172.3 L1221.4,177.3 Z" fill="#646160" stroke="#555251" stroke-width="0.6"/>
<circle cx="1204.9" cy="155.8" r="2.2" fill="#d9a8a6"/>
<path d="M1222.4,214.3 L1217.4,216.3 L1217.9,224.3 L1220.9,225.3 L1223.4,221.3 Z" fill="#646160"/>
<path d="M1234.40,136.30 C1235.27,136.30 1236.13,137.53 1237.00,138.50 C1237.87,139.47 1238.73,140.83 1239.60,142.10 C1240.47,143.37 1241.40,144.77 1242.20,146.10 C1243.00,147.43 1243.82,148.82 1244.40,150.10 C1244.98,151.38 1245.42,152.60 1245.70,153.80 C1245.98,155.00 1246.10,156.13 1246.10,157.30 C1246.10,158.47 1245.48,159.63 1245.70,160.80 C1245.92,161.97 1246.97,162.38 1247.40,164.30 C1247.83,166.22 1247.88,169.13 1248.30,172.30 C1248.72,175.47 1249.30,179.97 1249.90,183.30 C1250.50,186.63 1251.07,189.63 1251.90,192.30 C1252.73,194.97 1254.23,197.13 1254.90,199.30 C1255.57,201.47 1255.73,203.30 1255.90,205.30 C1256.07,207.30 1256.15,209.47 1255.90,211.30 C1255.65,213.13 1255.23,214.63 1254.40,216.30 C1253.57,217.97 1252.40,219.80 1250.90,221.30 C1249.40,222.80 1247.48,224.35 1245.40,225.30 C1243.32,226.25 1240.23,226.67 1238.40,227.00 C1236.57,227.33 1235.73,227.30 1234.40,227.30 C1233.07,227.30 1232.23,227.33 1230.40,227.00 C1228.57,226.67 1225.48,226.25 1223.40,225.30 C1221.32,224.35 1219.40,222.80 1217.90,221.30 C1216.40,219.80 1215.23,217.97 1214.40,216.30 C1213.57,214.63 1213.15,213.13 1212.90,211.30 C1212.65,209.47 1212.73,207.30 1212.90,205.30 C1213.07,203.30 1213.23,201.47 1213.90,199.30 C1214.57,197.13 1216.07,194.97 1216.90,192.30 C1217.73,189.63 1218.30,186.63 1218.90,183.30 C1219.50,179.97 1220.08,175.47 1220.50,172.30 C1220.92,169.13 1220.97,166.22 1221.40,164.30 C1221.83,162.38 1222.88,161.97 1223.10,160.80 C1223.32,159.63 1222.70,158.47 1222.70,157.30 C1222.70,156.13 1222.82,155.00 1223.10,153.80 C1223.38,152.60 1223.82,151.38 1224.40,150.10 C1224.98,148.82 1225.80,147.43 1226.60,146.10 C1227.40,144.77 1228.33,143.37 1229.20,142.10 C1230.07,140.83 1230.93,139.47 1231.80,138.50 C1232.67,137.53 1233.53,136.30 1234.40,136.30 Z" fill="#646160" stroke="#555251" stroke-width="0.8"/>
<path d="M1234.4,166.3 L1234.4,214.3" stroke="#6d7a5a" stroke-width="4.0" opacity="0.25"/>
<linearGradient id="ag2" gradientUnits="userSpaceOnUse" x1="1167" y1="142" x2="1221" y2="213"><stop offset="0" stop-color="#c8c8c8"/><stop offset="0.45" stop-color="#444"/><stop offset="1" stop-color="#222"/></linearGradient><path d="M1167,142 C1166,180 1190,205 1214.2,211.3" fill="none" stroke="url(#ag2)" stroke-width="1.3"/><path d="M1221.0,213.0 L1213.2,215.1 L1215.2,207.4 Z" fill="#222"/>
<linearGradient id="ag3" gradientUnits="userSpaceOnUse" x1="1339.8" y1="112" x2="1376" y2="163"><stop offset="0" stop-color="#c8c8c8"/><stop offset="0.45" stop-color="#444"/><stop offset="1" stop-color="#222"/></linearGradient><path d="M1339.8,112 C1339,140 1355,157 1369.3,161.1" fill="none" stroke="url(#ag3)" stroke-width="1.3"/><path d="M1376.0,163.0 L1368.2,164.9 L1370.4,157.2 Z" fill="#222"/>
<path d="M1381.5,194.0 C1367.5,203.0 1359.5,213.0 1365.5,217.0 C1373.5,221.0 1399.5,215.0 1419.5,215.0" fill="none" stroke="#d9a0a0" stroke-width="2.2" stroke-linecap="round"/>
<path d="M1387.5,201.0 l4,6 l10,0 l-4,-7 Z M1439.5,201.0 l4,6 l10,1 l-6,-7 Z" fill="#d9a8a6"/>
<path d="M1379.5,195.0 C1379.5,179.0 1391.5,167.0 1407.5,164.0 C1424.5,161.0 1434.5,161.0 1441.5,163.0 C1447.5,159.0 1453.5,159.0 1457.5,165.0 C1461.5,169.0 1465.5,173.0 1465.0,177.0 C1463.5,181.0 1457.5,183.0 1449.5,186.0 C1445.5,195.0 1439.5,201.0 1429.5,203.0 C1415.5,207.0 1395.5,206.0 1383.5,203.0 Z" fill="#4a4443"/>
<ellipse cx="1443.5" cy="169.0" rx="3" ry="4.5" fill="#c99a9a"/>
<circle cx="1455.5" cy="171.0" r="1.3" fill="#111"/>
<g stroke="#000" stroke-width="3" fill="none">
<path d="M1357,868.8 V1206.7 H1478.5 M1478.5,1199.6 V1212.9 M1497.5,1199.6 V1212.9 M1497.5,1206.7 H1890.2"/>
<path d="M1345,1206.7 H1357"/>
<path d="M1345,1130.0 H1357"/>
<path d="M1345,1053.3 H1357"/>
<path d="M1345,976.5 H1357"/>
<path d="M1345,899.8 H1357"/>
<path d="M1357.0,1206.7 V1216.5"/>
<path d="M1407.4,1206.7 V1216.5"/>
<path d="M1457.8,1206.7 V1216.5"/>
<path d="M1582.3,1206.7 V1216.5"/>
<path d="M1722.6,1206.7 V1216.5"/>
<path d="M1862.9,1206.7 V1216.5"/>
</g>
<text x="1332.43" y="1214.09" font-size="21.5" font-weight="bold">0</text>
<text x="1320.23" y="1137.37" font-size="21.5" font-weight="bold">25</text>
<text x="1320.49" y="1060.65" font-size="21.5" font-weight="bold">50</text>
<text x="1320.23" y="983.82" font-size="21.5" font-weight="bold">75</text>
<text x="1308.51" y="907.21" font-size="21.5" font-weight="bold">100</text>
<text x="1351.03" y="1240.20" font-size="21.5" font-weight="bold">0</text>
<text x="1401.41" y="1239.98" font-size="21.5" font-weight="bold">5</text>
<text x="1445.63" y="1240.20" font-size="21.5" font-weight="bold">10</text>
<text x="1569.99" y="1239.98" font-size="21.5" font-weight="bold">15</text>
<text x="1710.72" y="1240.20" font-size="21.5" font-weight="bold">20</text>
<text x="1850.89" y="1240.20" font-size="21.5" font-weight="bold">25</text>
<text x="1590.11" y="1263.98" font-size="28.04" font-weight="bold" fill="#000" >Days</text>
<text transform="translate(1291.33,1180.67) rotate(-90)" font-size="27.76" font-weight="bold">Probability of Survival</text>
<path d="M1638.4,899.8 H1722.6 V938.2 H1750.7 V976.5 H1778.7 V1091.6 H1806.8 V1130.0 H1834.8 V1168.3 H1862.9 V1206.7" fill="none" stroke="#e8321e" stroke-width="3.6"/>
<path d="M1357,899.8 H1480.5 M1497.5,899.8 H1638.4 V938.2 H1666.5 V1014.9 H1722.6 V1091.6 H1750.7 V1130.0 H1778.7 V1206.7" fill="none" stroke="#000" stroke-width="3.6"/>
<text x="1391.75" y="1095.73" font-size="21.62" font-weight="bold" fill="#000" >SK-MEL5</text>
<path d="M1390,1131 H1416.7 M1403.3,1126 V1131" stroke="#000" stroke-width="3.4" fill="none"/>
<text x="1429.84" y="1136.73" font-size="21.15" font-weight="bold" fill="#000" >Vehicle</text>
<path d="M1390,1165.6 H1416.7 M1403.3,1160.6 V1165.6" stroke="#e8321e" stroke-width="3.4" fill="none"/>
<text x="1428.57" y="1171.79" font-size="21.20" font-weight="bold" fill="#e8321e" >FSEN1</text>
<rect x="1512.6" y="1119" width="2.8" height="54" fill="#000"/>
<text x="1519.61" y="1153.27" font-size="21.74" font-weight="normal" fill="#000" >P=0.0135</text>
<text x="107.99" y="2258.82" font-size="26.82" font-weight="bold" fill="#000" >Lung metastasis</text>
<text x="111.10" y="2294.77" font-size="20.80" font-weight="bold" fill="#000" >LN7 1134BL</text>
<text x="111.10" y="2320.31" font-size="20.80" font-weight="bold" fill="#000" >FSP1</text>
<g stroke="#000" stroke-width="3" fill="none"><path d="M104.3,2338.7 V2667.1 H322.9"/>
<path d="M93.3,2667.1 H104.3"/>
<path d="M93.3,2601.4 H104.3"/>
<path d="M93.3,2535.7 H104.3"/>
<path d="M93.3,2470.1 H104.3"/>
<path d="M93.3,2404.4 H104.3"/>
<path d="M93.3,2338.7 H104.3"/>
<path d="M167.4,2667.1 V2676.5 M260.9,2667.1 V2676.5"/></g>
<text x="78.44" y="2674.15" font-size="20.5" font-weight="bold">0</text>
<text x="67.06" y="2608.47" font-size="20.5" font-weight="bold">10</text>
<text x="67.06" y="2542.79" font-size="20.5" font-weight="bold">20</text>
<text x="67.06" y="2477.08" font-size="20.5" font-weight="bold">30</text>
<text x="67.06" y="2411.43" font-size="20.5" font-weight="bold">40</text>
<text x="67.06" y="2345.75" font-size="20.5" font-weight="bold">50</text>
<text x="153.80" y="2709.89" font-size="19.16" font-weight="bold" fill="#000" >WT</text>
<text x="246.76" y="2710.64" font-size="21.37" font-weight="bold" fill="#3d9e90" >KO</text>
<text transform="translate(56.29,2617.07) rotate(-90)" font-size="26.87" font-weight="bold"># of Lung Nodules</text>
<text x="162.70" y="2365.17" font-size="24.22" font-weight="normal" fill="#000" >P=0.0072</text>
<rect x="170.2" y="2376.1" width="89" height="3" fill="#000"/>
<rect x="136.2" y="2619.9" width="61.5" height="3" fill="#000"/>
<rect x="230.2" y="2574.9" width="60.8" height="3" fill="#000"/>
<circle cx="166.9" cy="2568.3" r="4.6" fill="#fff" stroke="#000" stroke-width="1.3"/>
<circle cx="141.7" cy="2588.0" r="4.6" fill="#a3a3a3" stroke="#000" stroke-width="1.3"/>
<circle cx="158.6" cy="2594.6" r="4.6" fill="#a3a3a3" stroke="#000" stroke-width="1.3"/>
<circle cx="141.7" cy="2601.2" r="4.6" fill="#fff" stroke="#000" stroke-width="1.3"/>
<circle cx="193.3" cy="2601.2" r="4.6" fill="#fff" stroke="#000" stroke-width="1.3"/>
<circle cx="158.6" cy="2607.8" r="4.6" fill="#fff" stroke="#000" stroke-width="1.3"/>
<circle cx="175.7" cy="2607.8" r="4.6" fill="#a3a3a3" stroke="#000" stroke-width="1.3"/>
<circle cx="141.7" cy="2614.4" r="4.6" fill="#a3a3a3" stroke="#000" stroke-width="1.3"/>
<circle cx="193.3" cy="2614.4" r="4.6" fill="#fff" stroke="#000" stroke-width="1.3"/>
<circle cx="158.6" cy="2621.0" r="4.6" fill="#a3a3a3" stroke="#000" stroke-width="1.3"/>
<circle cx="175.7" cy="2621.0" r="4.6" fill="#a3a3a3" stroke="#000" stroke-width="1.3"/>
<circle cx="141.7" cy="2634.1" r="4.6" fill="#a3a3a3" stroke="#000" stroke-width="1.3"/>
<circle cx="175.7" cy="2640.7" r="4.6" fill="#a3a3a3" stroke="#000" stroke-width="1.3"/>
<circle cx="193.3" cy="2640.7" r="4.6" fill="#fff" stroke="#000" stroke-width="1.3"/>
<circle cx="141.7" cy="2646.9" r="4.6" fill="#fff" stroke="#000" stroke-width="1.3"/>
<circle cx="158.6" cy="2646.9" r="4.6" fill="#a3a3a3" stroke="#000" stroke-width="1.3"/>
<circle cx="175.7" cy="2653.9" r="4.6" fill="#fff" stroke="#000" stroke-width="1.3"/>
<circle cx="193.3" cy="2653.9" r="4.6" fill="#fff" stroke="#000" stroke-width="1.3"/>
<circle cx="141.7" cy="2660.5" r="4.6" fill="#fff" stroke="#000" stroke-width="1.3"/>
<circle cx="261.4" cy="2405.1" r="4.6" fill="#a3a3a3" stroke="#000" stroke-width="1.3"/>
<circle cx="261.4" cy="2483.7" r="4.6" fill="#a3a3a3" stroke="#000" stroke-width="1.3"/>
<circle cx="261.4" cy="2496.9" r="4.6" fill="#a3a3a3" stroke="#000" stroke-width="1.3"/>
<circle cx="252.6" cy="2510.0" r="4.6" fill="#a3a3a3" stroke="#000" stroke-width="1.3"/>
<circle cx="269.7" cy="2516.6" r="4.6" fill="#fff" stroke="#000" stroke-width="1.3"/>
<circle cx="261.4" cy="2541.9" r="4.6" fill="#a3a3a3" stroke="#000" stroke-width="1.3"/>
<circle cx="261.4" cy="2568.3" r="4.6" fill="#a3a3a3" stroke="#000" stroke-width="1.3"/>
<circle cx="235.5" cy="2588.0" r="4.6" fill="#fff" stroke="#000" stroke-width="1.3"/>
<circle cx="269.7" cy="2588.0" r="4.6" fill="#fff" stroke="#000" stroke-width="1.3"/>
<circle cx="286.6" cy="2588.0" r="4.6" fill="#a3a3a3" stroke="#000" stroke-width="1.3"/>
<circle cx="252.6" cy="2594.6" r="4.6" fill="#a3a3a3" stroke="#000" stroke-width="1.3"/>
<circle cx="235.5" cy="2601.2" r="4.6" fill="#fff" stroke="#000" stroke-width="1.3"/>
<circle cx="269.7" cy="2601.2" r="4.6" fill="#fff" stroke="#000" stroke-width="1.3"/>
<circle cx="252.6" cy="2607.8" r="4.6" fill="#fff" stroke="#000" stroke-width="1.3"/>
<circle cx="286.6" cy="2607.8" r="4.6" fill="#a3a3a3" stroke="#000" stroke-width="1.3"/>
<circle cx="235.5" cy="2614.4" r="4.6" fill="#a3a3a3" stroke="#000" stroke-width="1.3"/>
<circle cx="269.7" cy="2614.4" r="4.6" fill="#fff" stroke="#000" stroke-width="1.3"/>
<circle cx="252.6" cy="2634.1" r="4.6" fill="#fff" stroke="#000" stroke-width="1.3"/>
<circle cx="269.7" cy="2634.1" r="4.6" fill="#fff" stroke="#000" stroke-width="1.3"/>
<circle cx="269.7" cy="2653.9" r="4.6" fill="#fff" stroke="#000" stroke-width="1.3"/>
<circle cx="252.6" cy="2660.5" r="4.6" fill="#a3a3a3" stroke="#000" stroke-width="1.3"/>
<text x="554.30" y="2260.16" font-size="26.75" font-weight="bold" fill="#000" >Subcutaneous</text>
<polyline points="474.2,2626.6 583.9,2620.7 638.7,2614.1 666.1,2605.5 693.6,2582.1 721.0,2559.9 748.4,2534.3 775.8,2483.4 803.2,2397.5" fill="none" stroke="#4fa79b" stroke-width="3.2" stroke-linejoin="round"/>
<path d="M583.9,2622.0 V2619.4 M577.9,2622.0 H589.9 M577.9,2619.4 H589.9" stroke="#4fa79b" stroke-width="2" fill="none"/>
<path d="M638.7,2616.1 V2612.1 M632.7,2616.1 H644.7 M632.7,2612.1 H644.7" stroke="#4fa79b" stroke-width="2" fill="none"/>
<path d="M666.1,2609.5 V2601.6 M660.1,2609.5 H672.1 M660.1,2601.6 H672.1" stroke="#4fa79b" stroke-width="2" fill="none"/>
<path d="M693.6,2591.3 V2572.6 M687.6,2591.3 H699.6 M687.6,2572.6 H699.6" stroke="#4fa79b" stroke-width="2" fill="none"/>
<path d="M721.0,2571.3 V2547.6 M715.0,2571.3 H727.0 M715.0,2547.6 H727.0" stroke="#4fa79b" stroke-width="2" fill="none"/>
<path d="M748.4,2547.6 V2524.0 M742.4,2547.6 H754.4 M742.4,2524.0 H754.4" stroke="#4fa79b" stroke-width="2" fill="none"/>
<path d="M775.8,2502.9 V2467.4 M769.8,2502.9 H781.8 M769.8,2467.4 H781.8" stroke="#4fa79b" stroke-width="2" fill="none"/>
<path d="M803.2,2431.4 V2363.4 M797.2,2431.4 H809.2 M797.2,2363.4 H809.2" stroke="#4fa79b" stroke-width="2" fill="none"/>
<polyline points="474.2,2626.6 583.9,2619.6 638.7,2612.4 666.1,2602.9 693.6,2588.4 721.0,2556.7 748.4,2518.4 775.8,2462.8 803.2,2370.5" fill="none" stroke="#000" stroke-width="3.2" stroke-linejoin="round"/>
<path d="M583.9,2621.3 V2617.9 M577.9,2621.3 H589.9 M577.9,2617.9 H589.9" stroke="#000" stroke-width="2" fill="none"/>
<path d="M638.7,2614.8 V2610.2 M632.7,2614.8 H644.7 M632.7,2610.2 H644.7" stroke="#000" stroke-width="2" fill="none"/>
<path d="M666.1,2606.9 V2600.3 M660.1,2606.9 H672.1 M660.1,2600.3 H672.1" stroke="#000" stroke-width="2" fill="none"/>
<path d="M693.6,2594.4 V2584.5 M687.6,2594.4 H699.6 M687.6,2584.5 H699.6" stroke="#000" stroke-width="2" fill="none"/>
<path d="M721.0,2565.4 V2550.3 M715.0,2565.4 H727.0 M715.0,2550.3 H727.0" stroke="#000" stroke-width="2" fill="none"/>
<path d="M748.4,2531.2 V2507.5 M742.4,2531.2 H754.4 M742.4,2507.5 H754.4" stroke="#000" stroke-width="2" fill="none"/>
<path d="M775.8,2480.3 V2444.7 M769.8,2480.3 H781.8 M769.8,2444.7 H781.8" stroke="#000" stroke-width="2" fill="none"/>
<path d="M803.2,2403.4 V2339.7 M797.2,2403.4 H809.2 M797.2,2339.7 H809.2" stroke="#000" stroke-width="2" fill="none"/>
<g stroke="#000" stroke-width="3" fill="none"><path d="M474.2,2297.6 V2626.6 H803.2"/>
<path d="M464.7,2626.6 H474.2"/>
<path d="M464.7,2560.8 H474.2"/>
<path d="M464.7,2495.0 H474.2"/>
<path d="M464.7,2429.2 H474.2"/>
<path d="M464.7,2363.4 H474.2"/>
<path d="M464.7,2297.6 H474.2"/>
<path d="M474.2,2626.6 V2635.6"/>
<path d="M501.6,2626.6 V2635.6"/>
<path d="M529.0,2626.6 V2635.6"/>
<path d="M556.5,2626.6 V2635.6"/>
<path d="M583.9,2626.6 V2635.6"/>
<path d="M611.3,2626.6 V2635.6"/>
<path d="M638.7,2626.6 V2635.6"/>
<path d="M666.1,2626.6 V2635.6"/>
<path d="M693.6,2626.6 V2635.6"/>
<path d="M721.0,2626.6 V2635.6"/>
<path d="M748.4,2626.6 V2635.6"/>
<path d="M775.8,2626.6 V2635.6"/>
<path d="M803.2,2626.6 V2635.6"/>
</g>
<text x="450.58" y="2633.89" font-size="21.2" font-weight="bold">0</text>
<text x="427.00" y="2568.09" font-size="21.2" font-weight="bold">500</text>
<text x="415.23" y="2502.29" font-size="21.2" font-weight="bold">1000</text>
<text x="415.23" y="2436.49" font-size="21.2" font-weight="bold">1500</text>
<text x="415.23" y="2370.69" font-size="21.2" font-weight="bold">2000</text>
<text x="415.23" y="2304.89" font-size="21.2" font-weight="bold">2500</text>
<text x="468.51" y="2659.90" font-size="20.5" font-weight="bold">0</text>
<text x="495.96" y="2659.90" font-size="20.5" font-weight="bold">2</text>
<text x="523.25" y="2659.69" font-size="20.5" font-weight="bold">4</text>
<text x="550.75" y="2659.90" font-size="20.5" font-weight="bold">6</text>
<text x="578.17" y="2659.90" font-size="20.5" font-weight="bold">8</text>
<text x="599.69" y="2659.90" font-size="20.5" font-weight="bold">10</text>
<text x="627.09" y="2659.90" font-size="20.5" font-weight="bold">12</text>
<text x="654.17" y="2659.69" font-size="20.5" font-weight="bold">14</text>
<text x="681.90" y="2659.90" font-size="20.5" font-weight="bold">16</text>
<text x="709.27" y="2659.90" font-size="20.5" font-weight="bold">18</text>
<text x="737.07" y="2659.90" font-size="20.5" font-weight="bold">20</text>
<text x="764.47" y="2659.90" font-size="20.5" font-weight="bold">22</text>
<text x="791.56" y="2659.90" font-size="20.5" font-weight="bold">24</text>
<text x="605.67" y="2689.40" font-size="27.08" font-weight="bold" fill="#000" >Days</text>
<text transform="translate(401.60,2590.27) rotate(-90)" font-size="26.56" font-weight="bold">Tumor Volume (mm<tspan font-size="20.45" dy="-8.23">3</tspan><tspan dy="8.23">)</tspan></text>
<text x="487.09" y="2323.61" font-size="20.91" font-weight="bold" fill="#000" >LN7 1134BL</text>
<rect x="490" y="2344.3" width="25.5" height="3.2" fill="#000"/>
<text x="534.50" y="2352.72" font-size="20.13" font-weight="bold" fill="#000" >WT</text>
<rect x="490" y="2370.3" width="25.5" height="3.2" fill="#4fa79b"/>
<text x="526.57" y="2379.30" font-size="21.23" font-weight="bold" fill="#4fa79b" >FSP1KO</text>
<text x="829.93" y="2387.80" font-size="18.02" font-weight="bold" fill="#000" >ns</text>
<path d="M812,2370.6 H824.8 V2395.6 H812" fill="none" stroke="#000" stroke-width="2.6"/>
<text x="990.93" y="2259.29" font-size="26.70" font-weight="bold" fill="#000" >dLN Metastasis</text>
<text x="985.59" y="2293.46" font-size="20.90" font-weight="bold" fill="#000" >LN71134BL</text>
<text x="985.59" y="2319.58" font-size="20.90" font-weight="bold" fill="#000" >FSP1</text>
<rect x="1007" y="2424.0" width="65" height="241.3" fill="#000"/>
<rect x="1010" y="2646.5" width="59" height="18.8" fill="#f5f6fb"/>
<rect x="1106.3" y="2380.2" width="64.5" height="285.1" fill="#000"/>
<rect x="1109.3" y="2514.5" width="58.5" height="150.8" fill="#f5f6fb"/>
<g stroke="#000" stroke-width="3" fill="none"><path d="M973.8,2336.3 V2665.3 H1203.9"/>
<path d="M962.5,2665.3 H973.8"/>
<path d="M962.5,2555.6 H973.8"/>
<path d="M962.5,2446.0 H973.8"/>
<path d="M962.5,2336.3 H973.8"/>
<path d="M1038.8,2665.3 V2676.5 M1138.2,2665.3 V2676.5"/></g>
<text x="948.93" y="2672.69" font-size="21.5" font-weight="bold">0</text>
<text x="948.66" y="2562.91" font-size="21.5" font-weight="bold">5</text>
<text x="937.00" y="2453.35" font-size="21.5" font-weight="bold">10</text>
<text x="936.73" y="2343.57" font-size="21.5" font-weight="bold">15</text>
<text x="1018.80" y="2708.44" font-size="20.19" font-weight="bold" fill="#000" >WT</text>
<text x="1129.84" y="2708.92" font-size="21.58" font-weight="bold" fill="#3d9e90" >KO</text>
<text transform="translate(925.27,2555.67) rotate(-90)" font-size="26.92" font-weight="bold"># of Mice</text>
<text x="1038.03" y="2345.76" font-size="23.89" font-weight="normal" fill="#000" >P=0.0335</text>
<rect x="1042" y="2357.3" width="96" height="3" fill="#000"/>
<rect x="1205.2" y="2436.3" width="21.5" height="13.7" fill="#f5f6fb" stroke="#000" stroke-width="2.6"/>
<rect x="1203.9" y="2465" width="24.1" height="16.4" fill="#000"/>
<text x="1239.48" y="2451.37" font-size="22.02" font-weight="normal" fill="#000" >LN-</text>
<text x="1239.55" y="2480.29" font-size="21.21" font-weight="normal" fill="#000" >LN+</text>
<text x="1306.53" y="2256.99" font-size="23.19" font-weight="bold" fill="#000" >LN7 1134BL</text>
<text x="1450.43" y="2303.24" font-size="23.33" font-weight="bold" fill="#000" >Mouse 1</text>
<text x="1596.43" y="2301.87" font-size="23.33" font-weight="bold" fill="#000" >Mouse 2</text>
<text x="1734.23" y="2303.47" font-size="23.33" font-weight="bold" fill="#000" >Mouse 3</text>
<text x="1863.43" y="2300.24" font-size="23.33" font-weight="bold" fill="#000" >Mouse 4</text>
<text x="1454.73" y="2527.64" font-size="23.33" font-weight="bold" fill="#000" >Mouse 5</text>
<text x="1599.53" y="2526.57" font-size="23.33" font-weight="bold" fill="#000" >Mouse 6</text>
<text x="1735.03" y="2526.34" font-size="23.33" font-weight="bold" fill="#000" >Mouse 7</text>
<text x="1865.43" y="2525.77" font-size="23.33" font-weight="bold" fill="#000" >Mouse 8</text>
<text x="1323.47" y="2400.77" font-size="22.61" font-weight="bold" fill="#000" >FSP1 WT</text>
<text x="1323.46" y="2632.71" font-size="22.88" font-weight="bold" fill="#000" >FSP1KO</text>
<rect x="1446.4" y="2321.2" width="105.5" height="167.2" fill="#e0d9c6"/>
<rect x="1591.9" y="2321.2" width="100.0" height="167.2" fill="#e6e6e2"/>
<rect x="1728.7" y="2318" width="100.3" height="168.5" fill="#d0d0ce"/>
<rect x="1863" y="2319.6" width="101.0" height="168.8" fill="#dededd"/>
<rect x="1446.4" y="2548" width="105.5" height="167.8" fill="#dfe3e5"/>
<rect x="1593.5" y="2548" width="100.7" height="168.5" fill="#e3e5e7"/>
<rect x="1728.7" y="2548" width="100.3" height="168.5" fill="#dce2e4"/>
<rect x="1863.6" y="2548" width="100.4" height="168.5" fill="#d6d7cf"/>
<path d="M1465.50,2416.70 C1466.00,2414.33 1466.50,2410.62 1468.50,2407.00 C1470.50,2403.38 1474.25,2398.50 1477.50,2395.00 C1480.75,2391.50 1484.50,2388.13 1488.00,2386.00 C1491.50,2383.87 1494.50,2382.95 1498.50,2382.20 C1502.50,2381.45 1508.63,2381.25 1512.00,2381.50 C1515.37,2381.75 1517.08,2382.08 1518.70,2383.70 C1520.32,2385.32 1521.07,2388.07 1521.70,2391.20 C1522.33,2394.33 1522.00,2398.12 1522.50,2402.50 C1523.00,2406.88 1524.70,2413.77 1524.70,2417.50 C1524.70,2421.23 1524.00,2423.03 1522.50,2424.90 C1521.00,2426.77 1518.45,2427.70 1515.70,2428.70 C1512.95,2429.70 1509.50,2429.90 1506.00,2430.90 C1502.50,2431.90 1498.45,2433.70 1494.70,2434.70 C1490.95,2435.70 1486.12,2437.28 1483.50,2436.90 C1480.88,2436.52 1481.50,2434.15 1479.00,2432.40 C1476.50,2430.65 1470.75,2428.27 1468.50,2426.40 C1466.25,2424.53 1466.00,2422.82 1465.50,2421.20 C1465.00,2419.58 1465.00,2419.07 1465.50,2416.70 Z" fill="url(#blobDark)"/>
<ellipse cx="1488" cy="2400" rx="2.5" ry="1.3" fill="#e8e4dc" opacity="0.8"/><ellipse cx="1497" cy="2406" rx="2.5" ry="1.5" fill="#e8e4dc" opacity="0.8"/>
<ellipse cx="1630.2" cy="2416.5" rx="24" ry="15.5" transform="rotate(15 1630.2 2416.5)" fill="url(#blobOrange)"/>
<ellipse cx="1776" cy="2401" rx="30" ry="22" fill="#dadad6" opacity="0.9"/>
<ellipse cx="1801" cy="2414" rx="11" ry="8" fill="#a3a893"/>
<ellipse cx="1779" cy="2398.5" rx="20.5" ry="15.5" fill="url(#blobBlack)"/>
<ellipse cx="1915" cy="2433" rx="21.5" ry="18" transform="rotate(-15 1915 2433)" fill="#b3a985"/>
<ellipse cx="1903.6" cy="2398" rx="19.5" ry="21" fill="url(#blobBlack)"/>
<ellipse cx="1504.5" cy="2630.5" rx="27" ry="14" transform="rotate(40 1504.5 2630.5)" fill="url(#blobTan)"/>
<ellipse cx="1642" cy="2632" rx="28" ry="15" transform="rotate(20 1642 2632)" fill="url(#blobTan)"/>
<ellipse cx="1775" cy="2618" rx="19" ry="28" transform="rotate(-15 1775 2618)" fill="url(#blobYel)"/>
<path d="M1763,2596 L1745,2570" stroke="#f4f4f0" stroke-width="1"/>
<ellipse cx="1918.5" cy="2644" rx="18" ry="15" transform="rotate(-30 1918.5 2644)" fill="url(#blobTan)"/>
<text x="1485.22" y="2470.45" font-size="23.35" font-weight="bold" fill="#000" >LN+</text>
<text x="1634.72" y="2468.35" font-size="23.35" font-weight="bold" fill="#000" >LN-</text>
<text x="1769.32" y="2468.35" font-size="23.35" font-weight="bold" fill="#000" >LN+</text>
<text x="1902.32" y="2470.45" font-size="23.35" font-weight="bold" fill="#000" >LN+</text>
<text x="1486.52" y="2694.85" font-size="23.35" font-weight="bold" fill="#000" >LN-</text>
<text x="1634.72" y="2694.85" font-size="23.35" font-weight="bold" fill="#000" >LN-</text>
<text x="1769.32" y="2694.85" font-size="23.35" font-weight="bold" fill="#000" >LN-</text>
<text x="1902.32" y="2694.85" font-size="23.35" font-weight="bold" fill="#000" >LN-</text>
</svg></body></html>
